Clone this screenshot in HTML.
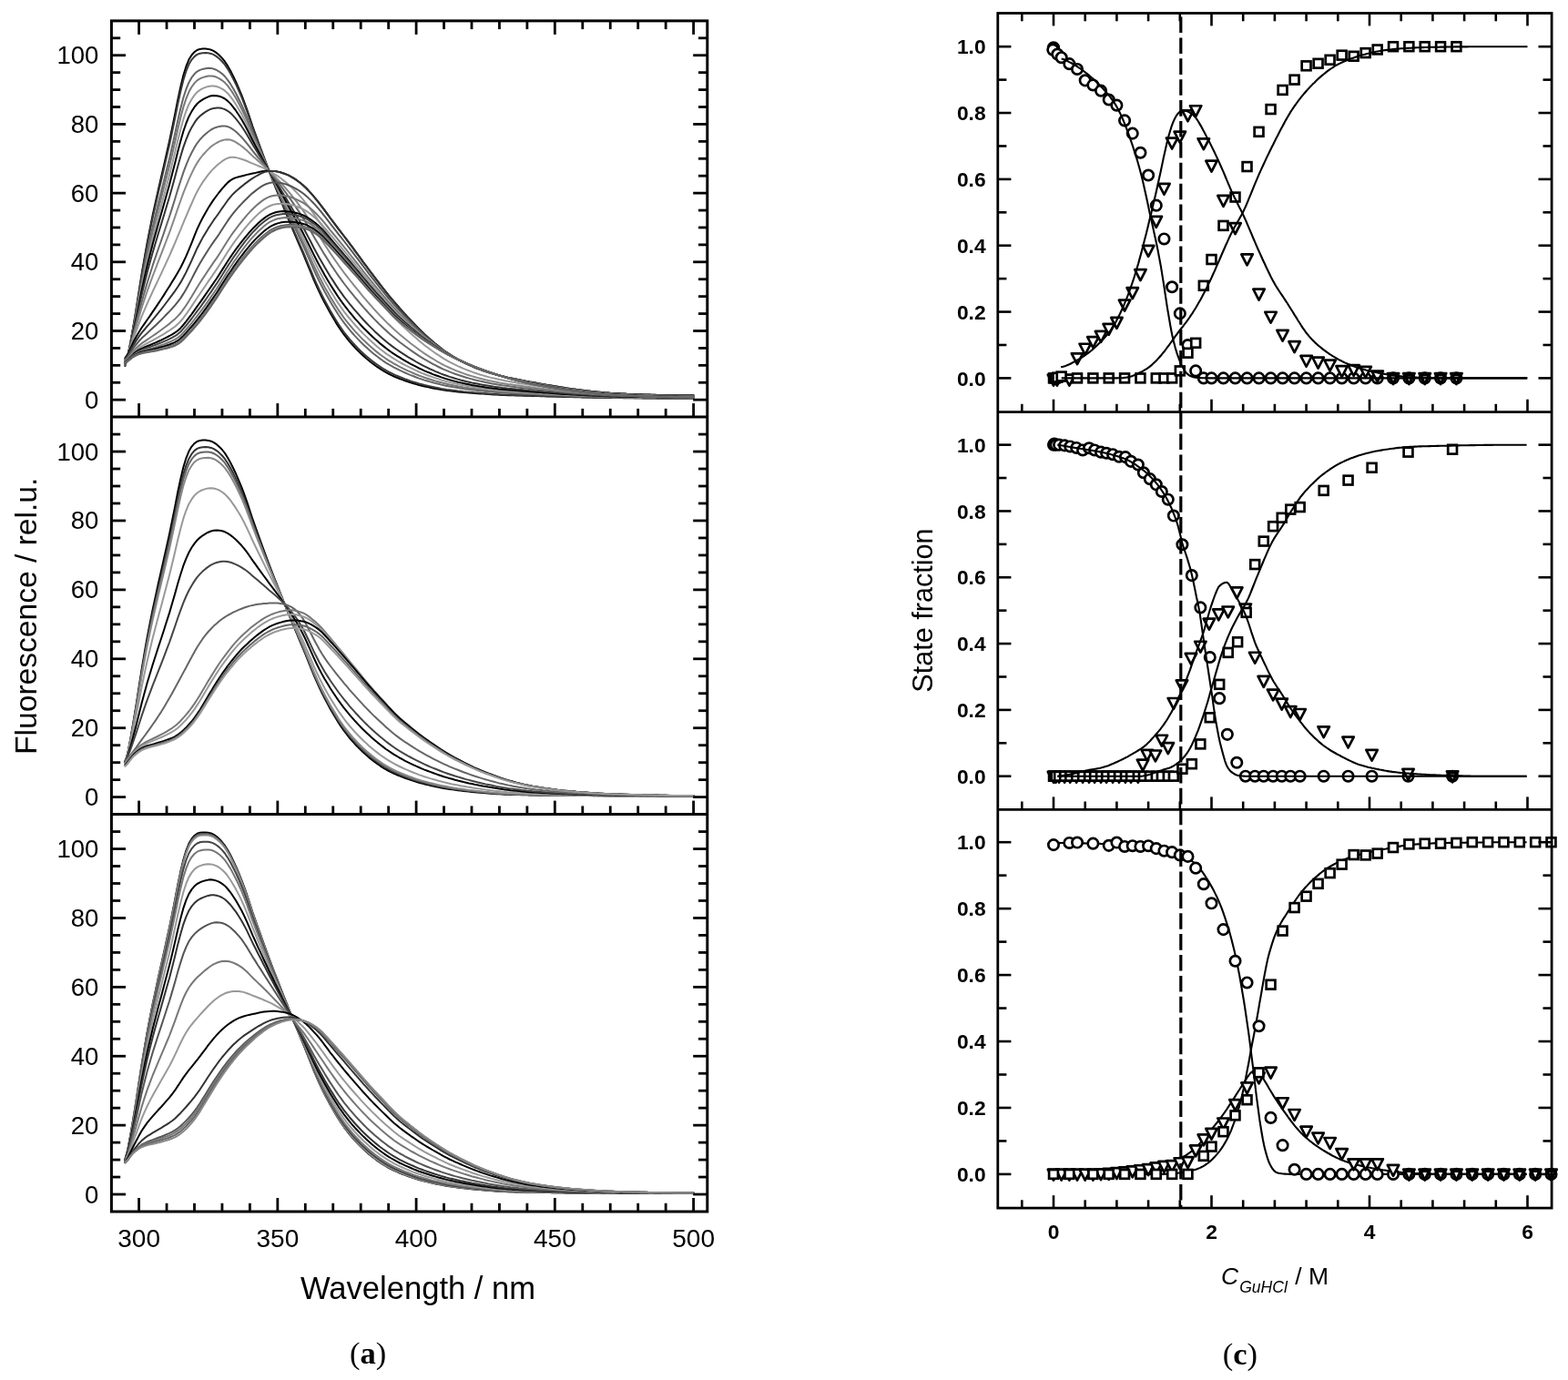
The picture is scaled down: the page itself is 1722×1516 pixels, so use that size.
<!DOCTYPE html>
<html lang="en">
<head>
<meta charset="utf-8">
<title>Figure: fluorescence spectra and state fractions</title>
<style>
html,body{margin:0;padding:0;background:#fff;}
body{width:1722px;height:1516px;overflow:hidden;}
svg{display:block;}
</style>
</head>
<body>
<svg width="1722" height="1516" viewBox="0 0 1722 1516" role="img">
<rect width="1722" height="1516" fill="#fff"/>
<g fill="none" stroke-linejoin="round" stroke-linecap="round" stroke-width="2.0">
<path d="M137.4 402L140.4 391.5L143.5 375.2L146.5 357.9L149.6 339.4L152.6 320.2L155.6 301.2L158.7 283.2L161.7 266.3L164.8 250.6L167.8 235.8L170.9 221.8L173.9 208.2L177 194.8L180 181.6L183 168.4L186.1 154.8L189.1 140.4L192.2 125.2L195.2 109.9L198.3 95.5L201.3 83L204.4 73L207.4 65.6L210.5 60.5L213.5 57.1L216.5 55L219.6 53.9L222.6 53.6L225.7 53.6L228.7 53.9L231.8 54.7L234.8 56.1L237.9 58.2L240.9 60.8L243.9 63.9L247 67.7L250 72.4L253.1 77.8L256.1 83.8L259.2 90.2L262.2 97.1L265.3 104.4L268.3 112.3L271.4 120.8L274.4 129.8L277.4 138.8L280.5 147.3L283.5 155.7L286.6 164L289.6 172.2L292.7 180.4L295.7 188.4L298.8 196.2L301.8 203.9L304.9 211.5L307.9 219L310.9 226.5L314 234L317 241.4L320.1 248.7L323.1 255.9L326.2 263.1L329.2 270.1L332.3 277.2L335.3 284.5L338.3 291.9L341.4 299.4L344.4 306.8L347.5 313.8L350.5 320.4L353.6 326.7L356.6 332.6L359.7 338.3L362.7 343.8L365.8 349L368.8 354.1L371.8 358.9L374.9 363.4L377.9 367.7L381 371.6L384 375.4L387.1 378.9L390.1 382.2L393.2 385.3L396.2 388.3L399.2 391.1L402.3 393.7L405.3 396.3L408.4 398.7L411.4 401L414.5 403.2L417.5 405.2L420.6 407.1L423.6 408.9L426.6 410.5L429.7 412.1L432.7 413.5L435.8 414.8L438.8 416L441.9 417.1L444.9 418.2L448 419.3L451 420.3L454.1 421.2L457.1 422.1L460.1 423L463.2 423.7L466.2 424.5L469.3 425.1L472.3 425.8L475.4 426.4L478.4 427L481.5 427.5L484.5 428L487.5 428.5L490.6 428.9L493.6 429.3L496.7 429.7L499.7 430L502.8 430.4L505.8 430.7L508.9 431L511.9 431.3L515 431.5L518 431.8L521 432L524.1 432.2L527.1 432.4L530.2 432.6L533.2 432.8L536.3 433L539.3 433.2L542.4 433.4L545.4 433.6L548.4 433.8L551.5 433.9L554.5 434L557.6 434.2L560.6 434.2L563.7 434.3L566.7 434.4L569.8 434.5L572.8 434.6L575.9 434.7L578.9 434.8L581.9 434.8L585 434.9L588 435L591.1 435.1L594.1 435.2L597.2 435.3L600.2 435.4L603.3 435.5L606.3 435.6L609.4 435.6L612.4 435.7L615.4 435.8L618.5 435.9L621.5 436L624.6 436.1L627.6 436.1L630.7 436.2L633.7 436.3L636.8 436.3L639.8 436.4L642.8 436.5L645.9 436.5L648.9 436.6L652 436.7L655 436.7L658.1 436.8L661.1 436.8L664.2 436.9L667.2 436.9L670.2 437L673.3 437L676.3 437L679.4 437.1L682.4 437.1L685.5 437.2L688.5 437.2L691.6 437.2L694.6 437.3L697.7 437.3L700.7 437.3L703.7 437.3L706.8 437.4L709.8 437.4L712.9 437.4L715.9 437.4L719 437.4L722 437.4L725.1 437.5L728.1 437.5L731.1 437.5L734.2 437.5L737.2 437.5L740.3 437.5L743.3 437.5L746.4 437.5L749.4 437.5L752.5 437.5L755.5 437.5L758.6 437.5L761.6 437.5" stroke="#000"/>
<path d="M137.4 401.8L140.4 391.4L143.5 375.4L146.5 358.3L149.6 340.2L152.6 321.4L155.6 302.7L158.7 285L161.7 268.5L164.8 253L167.8 238.5L170.9 224.7L173.9 211.3L177 198.2L180 185.2L183 172.2L186.1 158.8L189.1 144.6L192.2 129.7L195.2 114.6L198.3 100.5L201.3 88.2L204.4 78.2L207.4 70.8L210.5 65.6L213.5 62.1L216.5 59.9L219.6 58.7L222.6 58.2L225.7 58.1L228.7 58.2L231.8 58.9L234.8 60.2L237.9 62.1L240.9 64.5L243.9 67.5L247 71.1L250 75.6L253.1 80.8L256.1 86.6L259.2 92.9L262.2 99.5L265.3 106.6L268.3 114.3L271.4 122.6L274.4 131.3L277.4 140.1L280.5 148.4L283.5 156.6L286.6 164.6L289.6 172.6L292.7 180.5L295.7 188.4L298.8 196L301.8 203.5L304.9 210.9L307.9 218.3L310.9 225.6L314 232.9L317 240.2L320.1 247.4L323.1 254.4L326.2 261.4L329.2 268.4L332.3 275.4L335.3 282.5L338.3 289.8L341.4 297.2L344.4 304.5L347.5 311.4L350.5 318L353.6 324.2L356.6 330.1L359.7 335.8L362.7 341.2L365.8 346.4L368.8 351.4L371.8 356.2L374.9 360.7L377.9 365L381 368.9L384 372.7L387.1 376.2L390.1 379.5L393.2 382.7L396.2 385.6L399.2 388.5L402.3 391.2L405.3 393.8L408.4 396.2L411.4 398.6L414.5 400.8L417.5 402.9L420.6 404.9L423.6 406.7L426.6 408.4L429.7 409.9L432.7 411.4L435.8 412.8L438.8 414L441.9 415.2L444.9 416.4L448 417.5L451 418.6L454.1 419.6L457.1 420.5L460.1 421.4L463.2 422.2L466.2 423L469.3 423.7L472.3 424.4L475.4 425.1L478.4 425.7L481.5 426.3L484.5 426.9L487.5 427.4L490.6 427.9L493.6 428.3L496.7 428.7L499.7 429.1L502.8 429.5L505.8 429.8L508.9 430.2L511.9 430.5L515 430.7L518 431L521 431.3L524.1 431.5L527.1 431.7L530.2 432L533.2 432.2L536.3 432.4L539.3 432.7L542.4 432.9L545.4 433.1L548.4 433.2L551.5 433.4L554.5 433.5L557.6 433.7L560.6 433.8L563.7 433.9L566.7 434L569.8 434.1L572.8 434.2L575.9 434.3L578.9 434.4L581.9 434.5L585 434.6L588 434.7L591.1 434.8L594.1 434.9L597.2 435L600.2 435.1L603.3 435.2L606.3 435.3L609.4 435.4L612.4 435.5L615.4 435.6L618.5 435.6L621.5 435.7L624.6 435.8L627.6 435.9L630.7 436L633.7 436.1L636.8 436.1L639.8 436.2L642.8 436.3L645.9 436.4L648.9 436.4L652 436.5L655 436.6L658.1 436.6L661.1 436.7L664.2 436.7L667.2 436.8L670.2 436.8L673.3 436.9L676.3 436.9L679.4 437L682.4 437L685.5 437L688.5 437.1L691.6 437.1L694.6 437.1L697.7 437.2L700.7 437.2L703.7 437.2L706.8 437.3L709.8 437.3L712.9 437.3L715.9 437.3L719 437.3L722 437.4L725.1 437.4L728.1 437.4L731.1 437.4L734.2 437.4L737.2 437.4L740.3 437.4L743.3 437.4L746.4 437.4L749.4 437.4L752.5 437.4L755.5 437.5L758.6 437.5L761.6 437.5" stroke="#3a3a3a"/>
<path d="M137.4 401L140.4 391.1L143.5 376L146.5 360L149.6 343.1L152.6 325.6L155.6 308.3L158.7 291.9L161.7 276.5L164.8 262.1L167.8 248.6L170.9 235.7L173.9 223.2L177 210.9L180 198.7L183 186.6L186.1 174L189.1 160.7L192.2 146.7L195.2 132.6L198.3 119.3L201.3 107.6L204.4 98L207.4 90.7L210.5 85.2L213.5 81.3L216.5 78.6L219.6 76.9L222.6 75.9L225.7 75.2L228.7 74.8L231.8 74.9L234.8 75.7L237.9 77L240.9 78.8L243.9 81.1L247 84L250 87.8L253.1 92.2L256.1 97.3L259.2 102.8L262.2 108.8L265.3 115.1L268.3 121.9L271.4 129.4L274.4 137.2L277.4 145L280.5 152.4L283.5 159.7L286.6 166.9L289.6 174.1L292.7 181.2L295.7 188.3L298.8 195.2L301.8 202L304.9 208.8L307.9 215.5L310.9 222.2L314 228.9L317 235.6L320.1 242.2L323.1 248.8L326.2 255.3L329.2 261.8L332.3 268.3L335.3 275L338.3 281.9L341.4 288.9L344.4 295.8L347.5 302.5L350.5 308.7L353.6 314.7L356.6 320.5L359.7 326L362.7 331.3L365.8 336.4L368.8 341.3L371.8 346L374.9 350.5L377.9 354.7L381 358.7L384 362.4L387.1 366L390.1 369.4L393.2 372.6L396.2 375.8L399.2 378.7L402.3 381.6L405.3 384.3L408.4 386.9L411.4 389.4L414.5 391.8L417.5 394.1L420.6 396.3L423.6 398.3L426.6 400.2L429.7 401.9L432.7 403.6L435.8 405.2L438.8 406.7L441.9 408.1L444.9 409.5L448 410.8L451 412.1L454.1 413.3L457.1 414.5L460.1 415.6L463.2 416.6L466.2 417.6L469.3 418.5L472.3 419.4L475.4 420.2L478.4 421.1L481.5 421.8L484.5 422.6L487.5 423.3L490.6 423.9L493.6 424.5L496.7 425.1L499.7 425.6L502.8 426.1L505.8 426.6L508.9 427L511.9 427.4L515 427.8L518 428.2L521 428.6L524.1 428.9L527.1 429.2L530.2 429.6L533.2 429.9L536.3 430.2L539.3 430.4L542.4 430.7L545.4 431L548.4 431.2L551.5 431.4L554.5 431.6L557.6 431.8L560.6 432L563.7 432.1L566.7 432.3L569.8 432.4L572.8 432.6L575.9 432.7L578.9 432.9L581.9 433L585 433.1L588 433.3L591.1 433.4L594.1 433.6L597.2 433.7L600.2 433.9L603.3 434L606.3 434.1L609.4 434.3L612.4 434.4L615.4 434.6L618.5 434.7L621.5 434.8L624.6 434.9L627.6 435.1L630.7 435.2L633.7 435.3L636.8 435.4L639.8 435.5L642.8 435.6L645.9 435.7L648.9 435.8L652 435.9L655 436L658.1 436L661.1 436.1L664.2 436.2L667.2 436.3L670.2 436.3L673.3 436.4L676.3 436.5L679.4 436.5L682.4 436.6L685.5 436.6L688.5 436.7L691.6 436.7L694.6 436.7L697.7 436.8L700.7 436.8L703.7 436.9L706.8 436.9L709.8 436.9L712.9 436.9L715.9 437L719 437L722 437L725.1 437L728.1 437L731.1 437.1L734.2 437.1L737.2 437.1L740.3 437.1L743.3 437.1L746.4 437.1L749.4 437.1L752.5 437.1L755.5 437.1L758.6 437.1L761.6 437.2" stroke="#666"/>
<path d="M137.4 400.5L140.4 391L143.5 376.4L146.5 360.9L149.6 344.6L152.6 327.8L155.6 311.2L158.7 295.5L161.7 280.8L164.8 267L167.8 253.9L170.9 241.6L173.9 229.5L177 217.6L180 205.8L183 194.1L186.1 182L189.1 169.2L192.2 155.7L195.2 142.1L198.3 129.3L201.3 117.9L204.4 108.5L207.4 101.1L210.5 95.5L213.5 91.4L216.5 88.4L219.6 86.4L222.6 85.1L225.7 84.2L228.7 83.6L231.8 83.4L234.8 83.8L237.9 84.8L240.9 86.3L243.9 88.3L247 90.8L250 94.2L253.1 98.3L256.1 102.9L259.2 108.1L262.2 113.6L265.3 119.5L268.3 125.9L271.4 132.9L274.4 140.2L277.4 147.6L280.5 154.6L283.5 161.4L286.6 168.2L289.6 174.9L292.7 181.6L295.7 188.2L298.8 194.8L301.8 201.2L304.9 207.6L307.9 214L310.9 220.4L314 226.8L317 233.1L320.1 239.5L323.1 245.8L326.2 252L329.2 258.3L332.3 264.6L335.3 271.1L338.3 277.8L341.4 284.6L344.4 291.3L347.5 297.7L350.5 303.9L353.6 309.7L356.6 315.4L359.7 320.8L362.7 326.1L365.8 331.1L368.8 336L371.8 340.7L374.9 345.1L377.9 349.3L381 353.3L384 357L387.1 360.6L390.1 364.1L393.2 367.4L396.2 370.6L399.2 373.6L402.3 376.5L405.3 379.3L408.4 382L411.4 384.6L414.5 387.1L417.5 389.5L420.6 391.7L423.6 393.8L426.6 395.8L429.7 397.7L432.7 399.5L435.8 401.2L438.8 402.8L441.9 404.3L444.9 405.8L448 407.3L451 408.6L454.1 410L457.1 411.3L460.1 412.5L463.2 413.6L466.2 414.7L469.3 415.7L472.3 416.7L475.4 417.7L478.4 418.6L481.5 419.5L484.5 420.3L487.5 421.1L490.6 421.8L493.6 422.5L496.7 423.1L499.7 423.7L502.8 424.3L505.8 424.8L508.9 425.4L511.9 425.8L515 426.3L518 426.7L521 427.1L524.1 427.5L527.1 427.9L530.2 428.3L533.2 428.6L536.3 429L539.3 429.3L542.4 429.6L545.4 429.9L548.4 430.2L551.5 430.4L554.5 430.6L557.6 430.8L560.6 431L563.7 431.2L566.7 431.4L569.8 431.6L572.8 431.7L575.9 431.9L578.9 432.1L581.9 432.2L585 432.4L588 432.6L591.1 432.7L594.1 432.9L597.2 433.1L600.2 433.2L603.3 433.4L606.3 433.6L609.4 433.7L612.4 433.9L615.4 434L618.5 434.2L621.5 434.3L624.6 434.5L627.6 434.6L630.7 434.7L633.7 434.9L636.8 435L639.8 435.1L642.8 435.2L645.9 435.3L648.9 435.4L652 435.5L655 435.6L658.1 435.7L661.1 435.8L664.2 435.9L667.2 436L670.2 436.1L673.3 436.2L676.3 436.2L679.4 436.3L682.4 436.3L685.5 436.4L688.5 436.4L691.6 436.5L694.6 436.5L697.7 436.6L700.7 436.6L703.7 436.7L706.8 436.7L709.8 436.7L712.9 436.8L715.9 436.8L719 436.8L722 436.8L725.1 436.9L728.1 436.9L731.1 436.9L734.2 436.9L737.2 436.9L740.3 436.9L743.3 437L746.4 437L749.4 437L752.5 437L755.5 437L758.6 437L761.6 437" stroke="#777"/>
<path d="M137.4 400L140.4 390.8L143.5 376.8L146.5 362.1L149.6 346.6L152.6 330.7L155.6 315.1L158.7 300.2L161.7 286.3L164.8 273.2L167.8 260.9L170.9 249.1L173.9 237.6L177 226.3L180 215.1L183 203.9L186.1 192.3L189.1 180.1L192.2 167.3L195.2 154.4L198.3 142.2L201.3 131.2L204.4 122L207.4 114.7L210.5 109L213.5 104.6L216.5 101.2L219.6 98.9L222.6 97.2L225.7 95.9L228.7 94.9L231.8 94.4L234.8 94.4L237.9 95L240.9 96.1L243.9 97.6L247 99.7L250 102.5L253.1 106.1L256.1 110.2L259.2 114.9L262.2 119.9L265.3 125.3L268.3 131.1L271.4 137.5L274.4 144.2L277.4 150.9L280.5 157.3L283.5 163.6L286.6 169.8L289.6 175.9L292.7 182.1L295.7 188.2L298.8 194.3L301.8 200.2L304.9 206.1L307.9 212L310.9 218L314 224L317 230L320.1 235.9L323.1 241.9L326.2 247.8L329.2 253.8L332.3 259.8L335.3 266L338.3 272.4L341.4 278.9L344.4 285.4L347.5 291.6L350.5 297.6L353.6 303.3L356.6 308.8L359.7 314.1L362.7 319.3L365.8 324.3L368.8 329.1L371.8 333.7L374.9 338.1L377.9 342.3L381 346.3L384 350L387.1 353.7L390.1 357.2L393.2 360.5L396.2 363.8L399.2 366.9L402.3 369.9L405.3 372.8L408.4 375.6L411.4 378.3L414.5 381L417.5 383.5L420.6 385.8L423.6 388.1L426.6 390.2L429.7 392.2L432.7 394.2L435.8 396L438.8 397.8L441.9 399.5L444.9 401.1L448 402.7L451 404.2L454.1 405.7L457.1 407.1L460.1 408.5L463.2 409.8L466.2 411L469.3 412.2L472.3 413.3L475.4 414.4L478.4 415.4L481.5 416.4L484.5 417.4L487.5 418.3L490.6 419.1L493.6 419.9L496.7 420.6L499.7 421.3L502.8 422L505.8 422.6L508.9 423.2L511.9 423.8L515 424.3L518 424.8L521 425.3L524.1 425.7L527.1 426.2L530.2 426.6L533.2 427L536.3 427.4L539.3 427.8L542.4 428.1L545.4 428.5L548.4 428.8L551.5 429.1L554.5 429.3L557.6 429.6L560.6 429.8L563.7 430L566.7 430.2L569.8 430.4L572.8 430.6L575.9 430.8L578.9 431L581.9 431.2L585 431.4L588 431.6L591.1 431.8L594.1 432L597.2 432.2L600.2 432.4L603.3 432.6L606.3 432.8L609.4 433L612.4 433.2L615.4 433.3L618.5 433.5L621.5 433.7L624.6 433.9L627.6 434L630.7 434.2L633.7 434.3L636.8 434.5L639.8 434.6L642.8 434.7L645.9 434.9L648.9 435L652 435.1L655 435.2L658.1 435.3L661.1 435.5L664.2 435.6L667.2 435.7L670.2 435.7L673.3 435.8L676.3 435.9L679.4 436L682.4 436L685.5 436.1L688.5 436.2L691.6 436.2L694.6 436.3L697.7 436.3L700.7 436.4L703.7 436.4L706.8 436.4L709.8 436.5L712.9 436.5L715.9 436.5L719 436.6L722 436.6L725.1 436.6L728.1 436.6L731.1 436.7L734.2 436.7L737.2 436.7L740.3 436.7L743.3 436.7L746.4 436.7L749.4 436.8L752.5 436.8L755.5 436.8L758.6 436.8L761.6 436.8" stroke="#999"/>
<path d="M137.4 399.4L140.4 390.6L143.5 377.3L146.5 363.3L149.6 348.6L152.6 333.6L155.6 318.9L158.7 304.9L161.7 291.8L164.8 279.5L167.8 267.8L170.9 256.6L173.9 245.7L177 235L180 224.4L183 213.7L186.1 202.7L189.1 191.1L192.2 179L195.2 166.7L198.3 155.1L201.3 144.5L204.4 135.5L207.4 128.2L210.5 122.4L213.5 117.7L216.5 114L219.6 111.3L222.6 109.3L225.7 107.6L228.7 106.3L231.8 105.3L234.8 105L237.9 105.2L240.9 105.8L243.9 106.9L247 108.5L250 110.9L253.1 113.9L256.1 117.6L259.2 121.7L262.2 126.3L265.3 131.1L268.3 136.4L271.4 142.2L274.4 148.2L277.4 154.3L280.5 160.1L283.5 165.8L286.6 171.3L289.6 176.9L292.7 182.5L295.7 188.2L298.8 193.7L301.8 199.2L304.9 204.6L307.9 210.1L310.9 215.6L314 221.2L317 226.8L320.1 232.4L323.1 238L326.2 243.6L329.2 249.3L332.3 255L335.3 260.9L338.3 267L341.4 273.2L344.4 279.4L347.5 285.5L350.5 291.2L353.6 296.8L356.6 302.2L359.7 307.5L362.7 312.5L365.8 317.4L368.8 322.1L371.8 326.7L374.9 331.1L377.9 335.2L381 339.2L384 343L387.1 346.7L390.1 350.3L393.2 353.7L396.2 357L399.2 360.2L402.3 363.3L405.3 366.3L408.4 369.3L411.4 372.1L414.5 374.8L417.5 377.4L420.6 379.9L423.6 382.3L426.6 384.6L429.7 386.8L432.7 388.8L435.8 390.8L438.8 392.7L441.9 394.6L444.9 396.3L448 398.1L451 399.8L454.1 401.4L457.1 402.9L460.1 404.5L463.2 405.9L466.2 407.3L469.3 408.6L472.3 409.8L475.4 411.1L478.4 412.2L481.5 413.3L484.5 414.4L487.5 415.4L490.6 416.4L493.6 417.3L496.7 418.1L499.7 418.9L502.8 419.7L505.8 420.4L508.9 421.1L511.9 421.7L515 422.3L518 422.9L521 423.4L524.1 424L527.1 424.5L530.2 424.9L533.2 425.4L536.3 425.9L539.3 426.3L542.4 426.7L545.4 427L548.4 427.4L551.5 427.7L554.5 428L557.6 428.3L560.6 428.6L563.7 428.8L566.7 429.1L569.8 429.3L572.8 429.6L575.9 429.8L578.9 430L581.9 430.3L585 430.5L588 430.7L591.1 430.9L594.1 431.1L597.2 431.4L600.2 431.6L603.3 431.8L606.3 432L609.4 432.2L612.4 432.5L615.4 432.7L618.5 432.9L621.5 433.1L624.6 433.3L627.6 433.4L630.7 433.6L633.7 433.8L636.8 433.9L639.8 434.1L642.8 434.3L645.9 434.4L648.9 434.6L652 434.7L655 434.8L658.1 435L661.1 435.1L664.2 435.2L667.2 435.3L670.2 435.4L673.3 435.5L676.3 435.6L679.4 435.7L682.4 435.7L685.5 435.8L688.5 435.9L691.6 435.9L694.6 436L697.7 436L700.7 436.1L703.7 436.1L706.8 436.2L709.8 436.2L712.9 436.3L715.9 436.3L719 436.3L722 436.4L725.1 436.4L728.1 436.4L731.1 436.4L734.2 436.5L737.2 436.5L740.3 436.5L743.3 436.5L746.4 436.5L749.4 436.5L752.5 436.6L755.5 436.6L758.6 436.6L761.6 436.6" stroke="#000"/>
<path d="M137.4 398.7L140.4 390.4L143.5 377.8L146.5 364.8L149.6 351.2L152.6 337.4L155.6 323.9L158.7 311.1L161.7 299L164.8 287.7L167.8 276.9L170.9 266.5L173.9 256.4L177 246.4L180 236.5L183 226.5L186.1 216.3L189.1 205.5L192.2 194.2L195.2 182.9L198.3 171.9L201.3 161.9L204.4 153.3L207.4 146L210.5 139.9L213.5 134.9L216.5 130.7L219.6 127.5L222.6 125.1L225.7 122.9L228.7 121.1L231.8 119.7L234.8 118.9L237.9 118.5L240.9 118.6L243.9 119.1L247 120.1L250 121.8L253.1 124.1L256.1 127.1L259.2 130.6L262.2 134.5L265.3 138.7L268.3 143.2L271.4 148.2L274.4 153.4L277.4 158.7L280.5 163.7L283.5 168.6L286.6 173.4L289.6 178.3L292.7 183.2L295.7 188.1L298.8 193L301.8 197.9L304.9 202.7L307.9 207.6L310.9 212.6L314 217.6L317 222.7L320.1 227.8L323.1 232.9L326.2 238.1L329.2 243.3L332.3 248.7L335.3 254.2L338.3 259.9L341.4 265.8L344.4 271.7L347.5 277.4L350.5 283L353.6 288.3L356.6 293.6L359.7 298.7L362.7 303.7L365.8 308.4L368.8 313.1L371.8 317.6L374.9 321.9L377.9 326.1L381 330L384 333.9L387.1 337.6L390.1 341.2L393.2 344.7L396.2 348.2L399.2 351.5L402.3 354.7L405.3 357.9L408.4 360.9L411.4 363.9L414.5 366.8L417.5 369.6L420.6 372.2L423.6 374.8L426.6 377.2L429.7 379.6L432.7 381.9L435.8 384L438.8 386.1L441.9 388.2L444.9 390.1L448 392.1L451 393.9L454.1 395.7L457.1 397.5L460.1 399.2L463.2 400.8L466.2 402.4L469.3 403.9L472.3 405.3L475.4 406.7L478.4 408.1L481.5 409.3L484.5 410.6L487.5 411.7L490.6 412.8L493.6 413.9L496.7 414.8L499.7 415.7L502.8 416.6L505.8 417.5L508.9 418.2L511.9 419L515 419.7L518 420.4L521 421L524.1 421.6L527.1 422.2L530.2 422.8L533.2 423.3L536.3 423.8L539.3 424.3L542.4 424.8L545.4 425.2L548.4 425.6L551.5 426L554.5 426.3L557.6 426.7L560.6 427L563.7 427.3L566.7 427.6L569.8 427.8L572.8 428.1L575.9 428.4L578.9 428.7L581.9 429L585 429.2L588 429.5L591.1 429.7L594.1 430L597.2 430.3L600.2 430.5L603.3 430.8L606.3 431L609.4 431.3L612.4 431.5L615.4 431.8L618.5 432L621.5 432.2L624.6 432.5L627.6 432.7L630.7 432.9L633.7 433.1L636.8 433.3L639.8 433.4L642.8 433.6L645.9 433.8L648.9 434L652 434.1L655 434.3L658.1 434.4L661.1 434.6L664.2 434.7L667.2 434.8L670.2 435L673.3 435.1L676.3 435.2L679.4 435.3L682.4 435.3L685.5 435.4L688.5 435.5L691.6 435.6L694.6 435.6L697.7 435.7L700.7 435.7L703.7 435.8L706.8 435.8L709.8 435.9L712.9 435.9L715.9 436L719 436L722 436.1L725.1 436.1L728.1 436.1L731.1 436.2L734.2 436.2L737.2 436.2L740.3 436.2L743.3 436.2L746.4 436.3L749.4 436.3L752.5 436.3L755.5 436.3L758.6 436.3L761.6 436.3" stroke="#333"/>
<path d="M137.4 397.5L140.4 390L143.5 378.8L146.5 367.2L149.6 355.4L152.6 343.4L155.6 331.8L158.7 320.8L161.7 310.5L164.8 300.7L167.8 291.2L170.9 282.2L173.9 273.3L177 264.5L180 255.7L183 246.9L186.1 237.8L189.1 228.4L192.2 218.5L195.2 208.4L198.3 198.7L201.3 189.6L204.4 181.4L207.4 174.1L210.5 167.8L213.5 162.1L216.5 157.3L219.6 153.3L222.6 150.1L225.7 147.3L228.7 144.7L231.8 142.5L234.8 140.9L237.9 139.7L240.9 138.9L243.9 138.4L247 138.5L250 139.1L253.1 140.4L256.1 142.3L259.2 144.8L262.2 147.6L265.3 150.7L268.3 154.1L271.4 157.8L274.4 161.7L277.4 165.7L280.5 169.5L283.5 173.1L286.6 176.7L289.6 180.4L292.7 184.1L295.7 188L298.8 191.9L301.8 195.7L304.9 199.6L307.9 203.6L310.9 207.7L314 211.8L317 216.1L320.1 220.4L323.1 224.9L326.2 229.4L329.2 233.9L332.3 238.6L335.3 243.5L338.3 248.7L341.4 254L344.4 259.4L347.5 264.7L350.5 269.8L353.6 274.9L356.6 279.9L359.7 284.8L362.7 289.6L365.8 294.2L368.8 298.7L371.8 303.1L374.9 307.3L377.9 311.5L381 315.5L384 319.3L387.1 323.1L390.1 326.9L393.2 330.5L396.2 334.1L399.2 337.6L402.3 341L405.3 344.4L408.4 347.7L411.4 350.9L414.5 354L417.5 357.1L420.6 360L423.6 362.8L426.6 365.6L429.7 368.2L432.7 370.8L435.8 373.3L438.8 375.7L441.9 378L444.9 380.3L448 382.5L451 384.7L454.1 386.8L457.1 388.9L460.1 390.9L463.2 392.8L466.2 394.7L469.3 396.4L472.3 398.1L475.4 399.8L478.4 401.4L481.5 403L484.5 404.5L487.5 405.9L490.6 407.2L493.6 408.4L496.7 409.6L499.7 410.7L502.8 411.8L505.8 412.8L508.9 413.8L511.9 414.7L515 415.6L518 416.4L521 417.2L524.1 417.9L527.1 418.6L530.2 419.3L533.2 420L536.3 420.6L539.3 421.2L542.4 421.7L545.4 422.2L548.4 422.7L551.5 423.2L554.5 423.6L557.6 424L560.6 424.4L563.7 424.8L566.7 425.2L569.8 425.5L572.8 425.9L575.9 426.2L578.9 426.6L581.9 426.9L585 427.2L588 427.5L591.1 427.9L594.1 428.2L597.2 428.5L600.2 428.8L603.3 429.1L606.3 429.4L609.4 429.8L612.4 430.1L615.4 430.4L618.5 430.7L621.5 430.9L624.6 431.2L627.6 431.5L630.7 431.7L633.7 431.9L636.8 432.2L639.8 432.4L642.8 432.6L645.9 432.8L648.9 433.1L652 433.3L655 433.4L658.1 433.6L661.1 433.8L664.2 434L667.2 434.1L670.2 434.3L673.3 434.4L676.3 434.5L679.4 434.6L682.4 434.7L685.5 434.8L688.5 434.9L691.6 435L694.6 435.1L697.7 435.1L700.7 435.2L703.7 435.3L706.8 435.3L709.8 435.4L712.9 435.4L715.9 435.5L719 435.5L722 435.6L725.1 435.6L728.1 435.7L731.1 435.7L734.2 435.7L737.2 435.7L740.3 435.8L743.3 435.8L746.4 435.8L749.4 435.8L752.5 435.8L755.5 435.9L758.6 435.9L761.6 435.9" stroke="#666"/>
<path d="M137.4 396.5L140.4 389.7L143.5 379.5L146.5 369.2L149.6 358.7L152.6 348.3L155.6 338.3L158.7 328.8L161.7 319.8L164.8 311.2L167.8 303L170.9 295L173.9 287.1L177 279.2L180 271.4L183 263.5L186.1 255.4L189.1 247L192.2 238.2L195.2 229.3L198.3 220.5L201.3 212.2L204.4 204.3L207.4 197.1L210.5 190.4L213.5 184.3L216.5 178.9L219.6 174.4L222.6 170.5L225.7 167.1L228.7 163.9L231.8 161.1L234.8 158.8L237.9 157L240.9 155.4L243.9 154.2L247 153.4L250 153.2L253.1 153.6L256.1 154.7L259.2 156.3L262.2 158.3L265.3 160.5L268.3 162.9L271.4 165.6L274.4 168.5L277.4 171.4L280.5 174.1L283.5 176.8L286.6 179.4L289.6 182.1L292.7 184.9L295.7 187.9L298.8 191L301.8 194L304.9 197.1L307.9 200.3L310.9 203.7L314 207.1L317 210.7L320.1 214.4L323.1 218.3L326.2 222.2L329.2 226.3L332.3 230.5L335.3 234.9L338.3 239.6L341.4 244.4L344.4 249.4L347.5 254.3L350.5 259.1L353.6 263.9L356.6 268.8L359.7 273.5L362.7 278.1L365.8 282.6L368.8 287L371.8 291.3L374.9 295.5L377.9 299.6L381 303.6L384 307.5L387.1 311.4L390.1 315.2L393.2 318.9L396.2 322.7L399.2 326.3L402.3 329.9L405.3 333.4L408.4 336.9L411.4 340.3L414.5 343.6L417.5 346.9L420.6 350L423.6 353.1L426.6 356.1L429.7 359L432.7 361.8L435.8 364.5L438.8 367.2L441.9 369.7L444.9 372.3L448 374.7L451 377.2L454.1 379.5L457.1 381.8L460.1 384.1L463.2 386.3L466.2 388.4L469.3 390.4L472.3 392.3L475.4 394.2L478.4 396L481.5 397.8L484.5 399.5L487.5 401.1L490.6 402.6L493.6 404L496.7 405.4L499.7 406.7L502.8 407.9L505.8 409L508.9 410.1L511.9 411.2L515 412.2L518 413.1L521 414L524.1 414.9L527.1 415.7L530.2 416.5L533.2 417.3L536.3 418L539.3 418.6L542.4 419.2L545.4 419.8L548.4 420.4L551.5 420.9L554.5 421.4L557.6 421.9L560.6 422.3L563.7 422.8L566.7 423.2L569.8 423.6L572.8 424L575.9 424.4L578.9 424.8L581.9 425.2L585 425.6L588 426L591.1 426.3L594.1 426.7L597.2 427.1L600.2 427.4L603.3 427.8L606.3 428.2L609.4 428.5L612.4 428.9L615.4 429.2L618.5 429.5L621.5 429.9L624.6 430.2L627.6 430.5L630.7 430.8L633.7 431L636.8 431.3L639.8 431.6L642.8 431.8L645.9 432.1L648.9 432.3L652 432.5L655 432.8L658.1 433L661.1 433.2L664.2 433.4L667.2 433.5L670.2 433.7L673.3 433.8L676.3 434L679.4 434.1L682.4 434.2L685.5 434.3L688.5 434.4L691.6 434.5L694.6 434.6L697.7 434.7L700.7 434.7L703.7 434.8L706.8 434.9L709.8 435L712.9 435L715.9 435.1L719 435.1L722 435.2L725.1 435.2L728.1 435.3L731.1 435.3L734.2 435.3L737.2 435.4L740.3 435.4L743.3 435.4L746.4 435.4L749.4 435.5L752.5 435.5L755.5 435.5L758.6 435.5L761.6 435.5" stroke="#888"/>
<path d="M137.4 395.1L140.4 389.3L143.5 380.6L146.5 372.1L149.6 363.6L152.6 355.4L155.6 347.7L158.7 340.4L161.7 333.4L164.8 326.6L167.8 320L170.9 313.5L173.9 307.1L177 300.6L180 294.2L183 287.6L186.1 280.9L189.1 274L192.2 266.9L195.2 259.6L198.3 252.3L201.3 244.9L204.4 237.6L207.4 230.5L210.5 223.5L213.5 216.7L216.5 210.4L219.6 205L222.6 200.2L225.7 195.9L228.7 191.8L231.8 188.1L234.8 184.9L237.9 182L240.9 179.5L243.9 177.2L247 175.2L250 173.7L253.1 172.8L256.1 172.7L259.2 173.1L262.2 173.9L265.3 174.8L268.3 175.8L271.4 177L274.4 178.3L277.4 179.6L280.5 180.9L283.5 182.2L286.6 183.3L289.6 184.6L292.7 186.1L295.7 187.8L298.8 189.6L301.8 191.5L304.9 193.4L307.9 195.5L310.9 197.9L314 200.3L317 202.9L320.1 205.7L323.1 208.7L326.2 211.9L329.2 215.1L332.3 218.6L335.3 222.3L338.3 226.3L341.4 230.5L344.4 234.8L347.5 239.2L350.5 243.6L353.6 248L356.6 252.5L359.7 257L362.7 261.4L365.8 265.7L368.8 270L371.8 274.1L374.9 278.2L377.9 282.3L381 286.3L384 290.3L387.1 294.2L390.1 298.2L393.2 302.1L396.2 306L399.2 309.9L402.3 313.7L405.3 317.4L408.4 321.2L411.4 324.9L414.5 328.5L417.5 332.1L420.6 335.5L423.6 338.9L426.6 342.2L429.7 345.5L432.7 348.6L435.8 351.7L438.8 354.8L441.9 357.7L444.9 360.6L448 363.4L451 366.2L454.1 368.9L457.1 371.6L460.1 374.2L463.2 376.8L466.2 379.2L469.3 381.5L472.3 383.8L475.4 386L478.4 388.2L481.5 390.2L484.5 392.2L487.5 394.1L490.6 395.9L493.6 397.6L496.7 399.2L499.7 400.7L502.8 402.2L505.8 403.5L508.9 404.9L511.9 406.1L515 407.3L518 408.4L521 409.5L524.1 410.5L527.1 411.5L530.2 412.4L533.2 413.3L536.3 414.1L539.3 414.9L542.4 415.6L545.4 416.3L548.4 417L551.5 417.6L554.5 418.2L557.6 418.8L560.6 419.3L563.7 419.8L566.7 420.3L569.8 420.9L572.8 421.4L575.9 421.8L578.9 422.3L581.9 422.8L585 423.2L588 423.7L591.1 424.1L594.1 424.5L597.2 425L600.2 425.4L603.3 425.8L606.3 426.3L609.4 426.7L612.4 427.1L615.4 427.5L618.5 427.9L621.5 428.3L624.6 428.7L627.6 429L630.7 429.4L633.7 429.7L636.8 430L639.8 430.3L642.8 430.6L645.9 430.9L648.9 431.2L652 431.5L655 431.8L658.1 432L661.1 432.2L664.2 432.5L667.2 432.7L670.2 432.9L673.3 433L676.3 433.2L679.4 433.3L682.4 433.5L685.5 433.6L688.5 433.7L691.6 433.8L694.6 433.9L697.7 434L700.7 434.1L703.7 434.2L706.8 434.3L709.8 434.3L712.9 434.4L715.9 434.5L719 434.5L722 434.6L725.1 434.7L728.1 434.7L731.1 434.8L734.2 434.8L737.2 434.8L740.3 434.9L743.3 434.9L746.4 434.9L749.4 434.9L752.5 435L755.5 435L758.6 435L761.6 435" stroke="#999"/>
<path d="M137.4 393.3L140.4 388.7L143.5 382.1L146.5 375.8L149.6 370.1L152.6 364.8L155.6 360L158.7 355.6L161.7 351.3L164.8 346.9L167.8 342.4L170.9 337.9L173.9 333.4L177 328.8L180 324.1L183 319.3L186.1 314.5L189.1 309.5L192.2 304.6L195.2 299.4L198.3 294L201.3 288L204.4 281.4L207.4 274.3L210.5 266.8L213.5 259.1L216.5 251.7L219.6 245.1L222.6 239.2L225.7 233.7L228.7 228.5L231.8 223.6L234.8 219.1L237.9 215L240.9 211L243.9 207.3L247 203.8L250 200.6L253.1 198.1L256.1 196.3L259.2 195.1L262.2 194.3L265.3 193.5L268.3 192.7L271.4 191.9L274.4 191.2L277.4 190.5L280.5 189.9L283.5 189.2L286.6 188.5L289.6 187.9L292.7 187.6L295.7 187.7L298.8 187.9L301.8 188.1L304.9 188.6L307.9 189.3L310.9 190.2L314 191.4L317 192.7L320.1 194.3L323.1 196.2L326.2 198.2L329.2 200.5L332.3 203L335.3 205.7L338.3 208.8L341.4 212.2L344.4 215.7L347.5 219.3L350.5 223.1L353.6 227.1L356.6 231.2L359.7 235.4L362.7 239.5L365.8 243.6L368.8 247.6L371.8 251.6L374.9 255.6L377.9 259.5L381 263.6L384 267.6L387.1 271.7L390.1 275.8L393.2 280L396.2 284.1L399.2 288.3L402.3 292.4L405.3 296.5L408.4 300.6L411.4 304.6L414.5 308.6L417.5 312.6L420.6 316.5L423.6 320.3L426.6 324.1L429.7 327.8L432.7 331.4L435.8 335L438.8 338.5L441.9 341.9L444.9 345.3L448 348.6L451 351.8L454.1 355L457.1 358.2L460.1 361.3L463.2 364.3L466.2 367.2L469.3 369.9L472.3 372.7L475.4 375.3L478.4 377.9L481.5 380.3L484.5 382.7L487.5 385L490.6 387.2L493.6 389.2L496.7 391.1L499.7 392.9L502.8 394.7L505.8 396.3L508.9 397.9L511.9 399.4L515 400.8L518 402.2L521 403.5L524.1 404.7L527.1 405.9L530.2 407L533.2 408.1L536.3 409.1L539.3 410L542.4 410.9L545.4 411.7L548.4 412.5L551.5 413.3L554.5 414L557.6 414.7L560.6 415.3L563.7 416L566.7 416.6L569.8 417.2L572.8 417.8L575.9 418.4L578.9 419L581.9 419.6L585 420.1L588 420.6L591.1 421.2L594.1 421.7L597.2 422.2L600.2 422.8L603.3 423.3L606.3 423.8L609.4 424.3L612.4 424.8L615.4 425.3L618.5 425.8L621.5 426.3L624.6 426.7L627.6 427.2L630.7 427.6L633.7 428L636.8 428.3L639.8 428.7L642.8 429.1L645.9 429.4L648.9 429.8L652 430.1L655 430.4L658.1 430.7L661.1 431L664.2 431.3L667.2 431.5L670.2 431.8L673.3 432L676.3 432.2L679.4 432.3L682.4 432.5L685.5 432.6L688.5 432.8L691.6 432.9L694.6 433L697.7 433.1L700.7 433.2L703.7 433.3L706.8 433.4L709.8 433.5L712.9 433.6L715.9 433.7L719 433.8L722 433.9L725.1 433.9L728.1 434L731.1 434L734.2 434.1L737.2 434.1L740.3 434.2L743.3 434.2L746.4 434.2L749.4 434.3L752.5 434.3L755.5 434.3L758.6 434.3L761.6 434.3" stroke="#000"/>
<path d="M137.4 394.3L140.4 390.3L143.5 384.5L146.5 379.1L149.6 374.1L152.6 369.7L155.6 365.7L158.7 362L161.7 358.4L164.8 354.8L167.8 351.1L170.9 347.4L173.9 343.7L177 339.8L180 336L183 332L186.1 327.9L189.1 323.8L192.2 319.6L195.2 315.2L198.3 310.4L201.3 305L204.4 299.1L207.4 292.8L210.5 286.1L213.5 279.3L216.5 272.7L219.6 266.7L222.6 261.1L225.7 255.9L228.7 250.9L231.8 246.2L234.8 241.7L237.9 237.5L240.9 233.2L243.9 228.8L247 224.5L250 220.2L253.1 216.3L256.1 212.9L259.2 210L262.2 207.4L265.3 204.9L268.3 202.4L271.4 200.1L274.4 197.9L277.4 195.9L280.5 194L283.5 192.3L286.6 190.6L289.6 189.3L292.7 188.4L295.7 188L298.8 187.9L301.8 188.1L304.9 188.6L307.9 189.3L310.9 190.2L314 191.4L317 192.7L320.1 194.3L323.1 196.2L326.2 198.2L329.2 200.5L332.3 203L335.3 205.7L338.3 208.8L341.4 212.2L344.4 215.7L347.5 219.3L350.5 223.1L353.6 227.1L356.6 231.2L359.7 235.4L362.7 239.5L365.8 243.6L368.8 247.6L371.8 251.6L374.9 255.6L377.9 259.5L381 263.6L384 267.6L387.1 271.7L390.1 275.8L393.2 280L396.2 284.1L399.2 288.3L402.3 292.4L405.3 296.5L408.4 300.6L411.4 304.6L414.5 308.6L417.5 312.6L420.6 316.5L423.6 320.3L426.6 324.1L429.7 327.8L432.7 331.4L435.8 335L438.8 338.5L441.9 341.9L444.9 345.3L448 348.6L451 351.8L454.1 355L457.1 358.2L460.1 361.3L463.2 364.3L466.2 367.2L469.3 369.9L472.3 372.7L475.4 375.3L478.4 377.9L481.5 380.3L484.5 382.7L487.5 385L490.6 387.2L493.6 389.2L496.7 391.1L499.7 392.9L502.8 394.7L505.8 396.3L508.9 397.9L511.9 399.4L515 400.8L518 402.2L521 403.5L524.1 404.7L527.1 405.9L530.2 407L533.2 408.1L536.3 409.1L539.3 410L542.4 410.9L545.4 411.7L548.4 412.5L551.5 413.3L554.5 414L557.6 414.7L560.6 415.3L563.7 416L566.7 416.6L569.8 417.2L572.8 417.8L575.9 418.4L578.9 419L581.9 419.6L585 420.1L588 420.6L591.1 421.2L594.1 421.7L597.2 422.2L600.2 422.8L603.3 423.3L606.3 423.8L609.4 424.3L612.4 424.8L615.4 425.3L618.5 425.8L621.5 426.3L624.6 426.7L627.6 427.2L630.7 427.6L633.7 428L636.8 428.3L639.8 428.7L642.8 429.1L645.9 429.4L648.9 429.8L652 430.1L655 430.4L658.1 430.7L661.1 431L664.2 431.3L667.2 431.5L670.2 431.8L673.3 432L676.3 432.2L679.4 432.3L682.4 432.5L685.5 432.6L688.5 432.8L691.6 432.9L694.6 433L697.7 433.1L700.7 433.2L703.7 433.3L706.8 433.4L709.8 433.5L712.9 433.6L715.9 433.7L719 433.8L722 433.9L725.1 433.9L728.1 434L731.1 434L734.2 434.1L737.2 434.1L740.3 434.2L743.3 434.2L746.4 434.2L749.4 434.3L752.5 434.3L755.5 434.3L758.6 434.3L761.6 434.3" stroke="#333"/>
<path d="M137.4 395.4L140.4 392L143.5 387L146.5 382.5L149.6 378.4L152.6 374.8L155.6 371.6L158.7 368.7L161.7 365.9L164.8 363.1L167.8 360.3L170.9 357.4L173.9 354.5L177 351.5L180 348.4L183 345.3L186.1 342.1L189.1 338.8L192.2 335.4L195.2 331.7L198.3 327.6L201.3 322.9L204.4 317.7L207.4 312.2L210.5 306.4L213.5 300.5L216.5 294.7L219.6 289.3L222.6 284.2L225.7 279.3L228.7 274.5L231.8 269.8L234.8 265.4L237.9 261.1L240.9 256.7L243.9 252L247 247.3L250 242.7L253.1 238.3L256.1 234.3L259.2 230.6L262.2 227.2L265.3 223.9L268.3 220.7L271.4 217.7L274.4 214.8L277.4 212.1L280.5 209.6L283.5 207.3L286.6 205.2L289.6 203.4L292.7 202L295.7 201.1L298.8 200.6L301.8 200.5L304.9 200.6L307.9 201L310.9 201.6L314 202.4L317 203.5L320.1 204.7L323.1 206.3L326.2 208L329.2 209.9L332.3 212L335.3 214.4L338.3 217.1L341.4 220.1L344.4 223.2L347.5 226.6L350.5 230.1L353.6 233.8L356.6 237.7L359.7 241.7L362.7 245.7L365.8 249.6L368.8 253.4L371.8 257.3L374.9 261.2L377.9 265L381 269L384 272.9L387.1 276.9L390.1 280.8L393.2 284.9L396.2 288.9L399.2 292.9L402.3 296.9L405.3 300.9L408.4 304.8L411.4 308.7L414.5 312.6L417.5 316.4L420.6 320.1L423.6 323.8L426.6 327.5L429.7 331L432.7 334.6L435.8 338L438.8 341.3L441.9 344.6L444.9 347.8L448 350.9L451 354L454.1 357L457.1 360L460.1 362.9L463.2 365.7L466.2 368.5L469.3 371.1L472.3 373.7L475.4 376.2L478.4 378.6L481.5 381L484.5 383.2L487.5 385.4L490.6 387.5L493.6 389.4L496.7 391.3L499.7 393L502.8 394.7L505.8 396.3L508.9 397.8L511.9 399.3L515 400.7L518 402.1L521 403.3L524.1 404.6L527.1 405.8L530.2 406.9L533.2 408L536.3 409L539.3 409.9L542.4 410.8L545.4 411.7L548.4 412.5L551.5 413.3L554.5 414L557.6 414.8L560.6 415.5L563.7 416.2L566.7 416.8L569.8 417.5L572.8 418.1L575.9 418.7L578.9 419.3L581.9 419.9L585 420.5L588 421L591.1 421.6L594.1 422.1L597.2 422.6L600.2 423.2L603.3 423.7L606.3 424.2L609.4 424.7L612.4 425.2L615.4 425.7L618.5 426.2L621.5 426.7L624.6 427.1L627.6 427.5L630.7 428L633.7 428.3L636.8 428.7L639.8 429.1L642.8 429.5L645.9 429.8L648.9 430.2L652 430.5L655 430.8L658.1 431.1L661.1 431.4L664.2 431.6L667.2 431.9L670.2 432.1L673.3 432.3L676.3 432.5L679.4 432.7L682.4 432.8L685.5 433L688.5 433.1L691.6 433.2L694.6 433.4L697.7 433.5L700.7 433.6L703.7 433.7L706.8 433.8L709.8 433.9L712.9 434L715.9 434.1L719 434.2L722 434.2L725.1 434.3L728.1 434.4L731.1 434.4L734.2 434.5L737.2 434.5L740.3 434.6L743.3 434.6L746.4 434.6L749.4 434.7L752.5 434.7L755.5 434.7L758.6 434.7L761.6 434.7" stroke="#555"/>
<path d="M137.4 396.5L140.4 393.6L143.5 389.5L146.5 385.7L149.6 382.4L152.6 379.6L155.6 377.2L158.7 375.1L161.7 373.1L164.8 371L167.8 369L170.9 366.9L173.9 364.7L177 362.5L180 360.3L183 358L186.1 355.6L189.1 353L192.2 350.4L195.2 347.4L198.3 344L201.3 339.9L204.4 335.5L207.4 330.7L210.5 325.8L213.5 320.7L216.5 315.7L219.6 310.8L222.6 306.1L225.7 301.5L228.7 296.9L231.8 292.4L234.8 287.9L237.9 283.6L240.9 279L243.9 274.2L247 269.3L250 264.5L253.1 259.8L256.1 255.4L259.2 251.3L262.2 247.3L265.3 243.5L268.3 239.8L271.4 236.2L274.4 232.9L277.4 229.7L280.5 226.8L283.5 224.1L286.6 221.6L289.6 219.4L292.7 217.6L295.7 216.2L298.8 215.3L301.8 214.7L304.9 214.5L307.9 214.5L310.9 214.8L314 215.3L317 215.9L320.1 216.8L323.1 218L326.2 219.3L329.2 220.8L332.3 222.4L335.3 224.4L338.3 226.6L341.4 229.2L344.4 232L347.5 234.9L350.5 238.1L353.6 241.5L356.6 245.2L359.7 249L362.7 252.8L365.8 256.5L368.8 260.2L371.8 263.9L374.9 267.7L377.9 271.4L381 275.2L384 279L387.1 282.8L390.1 286.7L393.2 290.5L396.2 294.4L399.2 298.3L402.3 302.1L405.3 305.9L408.4 309.7L411.4 313.4L414.5 317.1L417.5 320.7L420.6 324.3L423.6 327.9L426.6 331.4L429.7 334.8L432.7 338.2L435.8 341.5L438.8 344.7L441.9 347.7L444.9 350.7L448 353.6L451 356.5L454.1 359.3L457.1 362.1L460.1 364.8L463.2 367.5L466.2 370L469.3 372.5L472.3 374.9L475.4 377.2L478.4 379.4L481.5 381.7L484.5 383.8L487.5 385.9L490.6 387.8L493.6 389.7L496.7 391.5L499.7 393.1L502.8 394.7L505.8 396.3L508.9 397.8L511.9 399.2L515 400.6L518 401.9L521 403.2L524.1 404.4L527.1 405.6L530.2 406.7L533.2 407.8L536.3 408.8L539.3 409.8L542.4 410.7L545.4 411.6L548.4 412.5L551.5 413.3L554.5 414.1L557.6 414.9L560.6 415.6L563.7 416.4L566.7 417.1L569.8 417.8L572.8 418.4L575.9 419.1L578.9 419.7L581.9 420.3L585 420.9L588 421.5L591.1 422L594.1 422.6L597.2 423.1L600.2 423.6L603.3 424.2L606.3 424.7L609.4 425.2L612.4 425.7L615.4 426.2L618.5 426.7L621.5 427.1L624.6 427.6L627.6 428L630.7 428.4L633.7 428.8L636.8 429.2L639.8 429.5L642.8 429.9L645.9 430.3L648.9 430.6L652 430.9L655 431.2L658.1 431.5L661.1 431.8L664.2 432.1L667.2 432.3L670.2 432.5L673.3 432.7L676.3 432.9L679.4 433.1L682.4 433.2L685.5 433.4L688.5 433.5L691.6 433.7L694.6 433.8L697.7 433.9L700.7 434L703.7 434.1L706.8 434.2L709.8 434.3L712.9 434.4L715.9 434.5L719 434.6L722 434.7L725.1 434.7L728.1 434.8L731.1 434.9L734.2 434.9L737.2 435L740.3 435L743.3 435L746.4 435.1L749.4 435.1L752.5 435.1L755.5 435.2L758.6 435.2L761.6 435.2" stroke="#777"/>
<path d="M137.4 397.1L140.4 394.5L143.5 390.8L146.5 387.5L149.6 384.6L152.6 382.3L155.6 380.3L158.7 378.6L161.7 377L164.8 375.4L167.8 373.8L170.9 372.1L173.9 370.4L177 368.6L180 366.8L183 364.9L186.1 363L189.1 360.9L192.2 358.7L195.2 356.1L198.3 353L201.3 349.3L204.4 345.2L207.4 340.9L210.5 336.4L213.5 331.8L216.5 327.2L219.6 322.7L222.6 318.2L225.7 313.7L228.7 309.2L231.8 304.8L234.8 300.4L237.9 295.9L240.9 291.3L243.9 286.5L247 281.6L250 276.8L253.1 272.1L256.1 267.6L259.2 263.4L262.2 259.3L265.3 255.3L268.3 251.5L271.4 247.8L274.4 244.3L277.4 241.1L280.5 238L283.5 235.1L286.6 232.5L289.6 230.1L292.7 228.1L295.7 226.5L298.8 225.3L301.8 224.4L304.9 223.9L307.9 223.7L310.9 223.7L314 224L317 224.4L320.1 225.1L323.1 225.9L326.2 227L329.2 228.2L332.3 229.5L335.3 231.2L338.3 233.2L341.4 235.4L344.4 237.9L347.5 240.6L350.5 243.5L353.6 246.8L356.6 250.3L359.7 254L362.7 257.6L365.8 261.2L368.8 264.8L371.8 268.4L374.9 272.1L377.9 275.7L381 279.4L384 283.1L387.1 286.9L390.1 290.6L393.2 294.4L396.2 298.1L399.2 301.9L402.3 305.7L405.3 309.4L408.4 313L411.4 316.6L414.5 320.2L417.5 323.7L420.6 327.2L423.6 330.6L426.6 334L429.7 337.4L432.7 340.7L435.8 343.9L438.8 346.9L441.9 349.8L444.9 352.7L448 355.4L451 358.2L454.1 360.9L457.1 363.5L460.1 366.1L463.2 368.6L466.2 371.1L469.3 373.4L472.3 375.7L475.4 377.9L478.4 380L481.5 382.1L484.5 384.2L487.5 386.2L490.6 388.1L493.6 389.9L496.7 391.6L499.7 393.2L502.8 394.8L505.8 396.3L508.9 397.7L511.9 399.1L515 400.5L518 401.8L521 403.1L524.1 404.3L527.1 405.5L530.2 406.6L533.2 407.7L536.3 408.7L539.3 409.7L542.4 410.7L545.4 411.6L548.4 412.5L551.5 413.4L554.5 414.2L557.6 415L560.6 415.8L563.7 416.5L566.7 417.2L569.8 418L572.8 418.6L575.9 419.3L578.9 420L581.9 420.6L585 421.2L588 421.8L591.1 422.3L594.1 422.9L597.2 423.4L600.2 424L603.3 424.5L606.3 425L609.4 425.5L612.4 426L615.4 426.5L618.5 427L621.5 427.5L624.6 427.9L627.6 428.3L630.7 428.7L633.7 429.1L636.8 429.5L639.8 429.8L642.8 430.2L645.9 430.5L648.9 430.9L652 431.2L655 431.5L658.1 431.8L661.1 432.1L664.2 432.3L667.2 432.6L670.2 432.8L673.3 433L676.3 433.2L679.4 433.4L682.4 433.5L685.5 433.7L688.5 433.8L691.6 433.9L694.6 434.1L697.7 434.2L700.7 434.3L703.7 434.4L706.8 434.5L709.8 434.6L712.9 434.7L715.9 434.8L719 434.9L722 435L725.1 435L728.1 435.1L731.1 435.2L734.2 435.2L737.2 435.3L740.3 435.3L743.3 435.4L746.4 435.4L749.4 435.4L752.5 435.4L755.5 435.5L758.6 435.5L761.6 435.5" stroke="#999"/>
<path d="M137.4 397.5L140.4 395.2L143.5 391.9L146.5 388.9L149.6 386.4L152.6 384.4L155.6 382.8L158.7 381.5L161.7 380.2L164.8 379L167.8 377.7L170.9 376.4L173.9 375L177 373.6L180 372.1L183 370.6L186.1 369L189.1 367.3L192.2 365.4L195.2 363.2L198.3 360.4L201.3 357L204.4 353.2L207.4 349.2L210.5 345.1L213.5 340.9L216.5 336.6L219.6 332.4L222.6 328.1L225.7 323.7L228.7 319.3L231.8 314.9L234.8 310.5L237.9 306L240.9 301.4L243.9 296.6L247 291.8L250 287L253.1 282.4L256.1 278L259.2 273.7L262.2 269.6L265.3 265.7L268.3 261.8L271.4 258.1L274.4 254.6L277.4 251.3L280.5 248.2L283.5 245.2L286.6 242.5L289.6 240.1L292.7 237.8L295.7 236L298.8 234.6L301.8 233.5L304.9 232.8L307.9 232.3L310.9 232.1L314 232.2L317 232.4L320.1 232.8L323.1 233.4L326.2 234.1L329.2 235.1L332.3 236.2L335.3 237.6L338.3 239.3L341.4 241.3L344.4 243.5L347.5 245.9L350.5 248.6L353.6 251.7L356.6 255.1L359.7 258.6L362.7 262.1L365.8 265.6L368.8 269.1L371.8 272.7L374.9 276.2L377.9 279.8L381 283.4L384 287L387.1 290.7L390.1 294.3L393.2 298L396.2 301.7L399.2 305.3L402.3 309L405.3 312.6L408.4 316.1L411.4 319.6L414.5 323.1L417.5 326.5L420.6 329.8L423.6 333.2L426.6 336.5L429.7 339.8L432.7 343L435.8 346.1L438.8 349L441.9 351.8L444.9 354.5L448 357.1L451 359.7L454.1 362.3L457.1 364.8L460.1 367.3L463.2 369.7L466.2 372L469.3 374.3L472.3 376.4L475.4 378.5L478.4 380.6L481.5 382.6L484.5 384.6L487.5 386.5L490.6 388.3L493.6 390.1L496.7 391.7L499.7 393.3L502.8 394.8L505.8 396.2L508.9 397.7L511.9 399.1L515 400.4L518 401.7L521 403L524.1 404.2L527.1 405.4L530.2 406.5L533.2 407.6L536.3 408.6L539.3 409.6L542.4 410.6L545.4 411.6L548.4 412.5L551.5 413.4L554.5 414.2L557.6 415.1L560.6 415.9L563.7 416.6L566.7 417.4L569.8 418.1L572.8 418.9L575.9 419.6L578.9 420.2L581.9 420.9L585 421.5L588 422L591.1 422.6L594.1 423.2L597.2 423.7L600.2 424.3L603.3 424.8L606.3 425.3L609.4 425.8L612.4 426.3L615.4 426.8L618.5 427.3L621.5 427.8L624.6 428.2L627.6 428.6L630.7 429L633.7 429.4L636.8 429.8L639.8 430.1L642.8 430.5L645.9 430.8L648.9 431.2L652 431.5L655 431.8L658.1 432.1L661.1 432.3L664.2 432.6L667.2 432.8L670.2 433.1L673.3 433.3L676.3 433.4L679.4 433.6L682.4 433.8L685.5 433.9L688.5 434.1L691.6 434.2L694.6 434.3L697.7 434.4L700.7 434.6L703.7 434.7L706.8 434.8L709.8 434.9L712.9 435L715.9 435.1L719 435.2L722 435.2L725.1 435.3L728.1 435.4L731.1 435.4L734.2 435.5L737.2 435.6L740.3 435.6L743.3 435.6L746.4 435.7L749.4 435.7L752.5 435.7L755.5 435.8L758.6 435.8L761.6 435.8" stroke="#000"/>
<path d="M137.4 397.8L140.4 395.6L143.5 392.5L146.5 389.7L149.6 387.5L152.6 385.7L155.6 384.3L158.7 383.1L161.7 382L164.8 381L167.8 379.9L170.9 378.8L173.9 377.6L177 376.4L180 375.1L183 373.8L186.1 372.4L189.1 370.9L192.2 369.2L195.2 367.1L198.3 364.5L201.3 361.2L204.4 357.6L207.4 353.8L210.5 350L213.5 346L216.5 341.9L219.6 337.8L222.6 333.6L225.7 329.3L228.7 325L231.8 320.6L234.8 316.1L237.9 311.7L240.9 307L243.9 302.2L247 297.3L250 292.4L253.1 287.7L256.1 283.2L259.2 278.8L262.2 274.5L265.3 270.4L268.3 266.4L271.4 262.5L274.4 258.9L277.4 255.4L280.5 252.2L283.5 249.1L286.6 246.3L289.6 243.7L292.7 241.4L295.7 239.4L298.8 237.9L301.8 236.8L304.9 235.9L307.9 235.4L310.9 235.1L314 235.1L317 235.2L320.1 235.5L323.1 236L326.2 236.7L329.2 237.5L332.3 238.6L335.3 239.8L338.3 241.4L341.4 243.3L344.4 245.5L347.5 247.8L350.5 250.4L353.6 253.4L356.6 256.8L359.7 260.3L362.7 263.8L365.8 267.2L368.8 270.7L371.8 274.2L374.9 277.7L377.9 281.2L381 284.8L384 288.4L387.1 292L390.1 295.6L393.2 299.3L396.2 302.9L399.2 306.5L402.3 310.2L405.3 313.7L408.4 317.2L411.4 320.7L414.5 324.1L417.5 327.5L420.6 330.8L423.6 334.1L426.6 337.4L429.7 340.7L432.7 343.9L435.8 346.9L438.8 349.8L441.9 352.5L444.9 355.2L448 357.8L451 360.3L454.1 362.8L457.1 365.3L460.1 367.8L463.2 370.1L466.2 372.4L469.3 374.6L472.3 376.7L475.4 378.8L478.4 380.8L481.5 382.8L484.5 384.7L487.5 386.6L490.6 388.4L493.6 390.1L496.7 391.7L499.7 393.3L502.8 394.8L505.8 396.2L508.9 397.6L511.9 399L515 400.4L518 401.7L521 403L524.1 404.2L527.1 405.3L530.2 406.5L533.2 407.5L536.3 408.6L539.3 409.6L542.4 410.6L545.4 411.5L548.4 412.5L551.5 413.4L554.5 414.3L557.6 415.1L560.6 415.9L563.7 416.7L566.7 417.4L569.8 418.2L572.8 418.9L575.9 419.6L578.9 420.3L581.9 421L585 421.6L588 422.1L591.1 422.7L594.1 423.3L597.2 423.8L600.2 424.4L603.3 424.9L606.3 425.4L609.4 425.9L612.4 426.4L615.4 426.9L618.5 427.4L621.5 427.9L624.6 428.3L627.6 428.7L630.7 429.1L633.7 429.5L636.8 429.9L639.8 430.2L642.8 430.6L645.9 430.9L648.9 431.3L652 431.6L655 431.9L658.1 432.2L661.1 432.4L664.2 432.7L667.2 432.9L670.2 433.1L673.3 433.3L676.3 433.5L679.4 433.7L682.4 433.9L685.5 434L688.5 434.1L691.6 434.3L694.6 434.4L697.7 434.5L700.7 434.7L703.7 434.8L706.8 434.9L709.8 435L712.9 435.1L715.9 435.2L719 435.3L722 435.3L725.1 435.4L728.1 435.5L731.1 435.5L734.2 435.6L737.2 435.7L740.3 435.7L743.3 435.8L746.4 435.8L749.4 435.8L752.5 435.8L755.5 435.9L758.6 435.9L761.6 435.9" stroke="#444"/>
<path d="M137.4 398L140.4 396L143.5 393.1L146.5 390.6L149.6 388.5L152.6 386.9L155.6 385.7L158.7 384.7L161.7 383.8L164.8 382.9L167.8 382.1L170.9 381.1L173.9 380.2L177 379.1L180 378.1L183 377L186.1 375.8L189.1 374.4L192.2 372.9L195.2 371L198.3 368.6L201.3 365.5L204.4 362L207.4 358.5L210.5 354.8L213.5 351L216.5 347.1L219.6 343.1L222.6 339.1L225.7 334.9L228.7 330.6L231.8 326.2L234.8 321.8L237.9 317.3L240.9 312.6L243.9 307.8L247 302.9L250 298L253.1 293.3L256.1 288.7L259.2 284.3L262.2 280L265.3 275.8L268.3 271.8L271.4 267.9L274.4 264.2L277.4 260.7L280.5 257.4L283.5 254.3L286.6 251.4L289.6 248.7L292.7 246.3L295.7 244.2L298.8 242.6L301.8 241.3L304.9 240.3L307.9 239.7L310.9 239.3L314 239.1L317 239.2L320.1 239.4L323.1 239.7L326.2 240.3L329.2 241L332.3 241.9L335.3 243L338.3 244.5L341.4 246.3L344.4 248.3L347.5 250.5L350.5 253L353.6 255.9L356.6 259.1L359.7 262.6L362.7 266L365.8 269.4L368.8 272.8L371.8 276.3L374.9 279.8L377.9 283.3L381 286.8L384 290.3L387.1 293.9L390.1 297.5L393.2 301.1L396.2 304.7L399.2 308.2L402.3 311.8L405.3 315.3L408.4 318.8L411.4 322.2L414.5 325.5L417.5 328.8L420.6 332.1L423.6 335.4L426.6 338.7L429.7 341.9L432.7 345L435.8 348L438.8 350.8L441.9 353.5L444.9 356.1L448 358.6L451 361.1L454.1 363.6L457.1 366L460.1 368.4L463.2 370.7L466.2 372.9L469.3 375L472.3 377.1L475.4 379.1L478.4 381L481.5 383L484.5 384.9L487.5 386.7L490.6 388.5L493.6 390.2L496.7 391.8L499.7 393.3L502.8 394.8L505.8 396.2L508.9 397.6L511.9 399L515 400.3L518 401.6L521 402.9L524.1 404.1L527.1 405.3L530.2 406.4L533.2 407.5L536.3 408.5L539.3 409.6L542.4 410.6L545.4 411.5L548.4 412.5L551.5 413.4L554.5 414.3L557.6 415.1L560.6 416L563.7 416.7L566.7 417.5L569.8 418.3L572.8 419L575.9 419.7L578.9 420.4L581.9 421.1L585 421.7L588 422.3L591.1 422.9L594.1 423.4L597.2 424L600.2 424.5L603.3 425.1L606.3 425.6L609.4 426.1L612.4 426.6L615.4 427.1L618.5 427.6L621.5 428L624.6 428.4L627.6 428.9L630.7 429.3L633.7 429.6L636.8 430L639.8 430.4L642.8 430.7L645.9 431.1L648.9 431.4L652 431.7L655 432L658.1 432.3L661.1 432.6L664.2 432.8L667.2 433.1L670.2 433.3L673.3 433.5L676.3 433.7L679.4 433.8L682.4 434L685.5 434.1L688.5 434.3L691.6 434.4L694.6 434.5L697.7 434.7L700.7 434.8L703.7 434.9L706.8 435L709.8 435.1L712.9 435.2L715.9 435.3L719 435.4L722 435.5L725.1 435.6L728.1 435.6L731.1 435.7L734.2 435.7L737.2 435.8L740.3 435.9L743.3 435.9L746.4 435.9L749.4 436L752.5 436L755.5 436L758.6 436L761.6 436" stroke="#777"/>
<path d="M137.4 398.3L140.4 396.3L143.5 393.6L146.5 391.2L149.6 389.3L152.6 387.8L155.6 386.8L158.7 385.9L161.7 385.2L164.8 384.5L167.8 383.8L170.9 383L173.9 382.2L177 381.3L180 380.4L183 379.5L186.1 378.5L189.1 377.3L192.2 375.9L195.2 374.2L198.3 371.8L201.3 368.9L204.4 365.6L207.4 362.2L210.5 358.7L213.5 355.1L216.5 351.3L219.6 347.5L222.6 343.5L225.7 339.3L228.7 335.1L231.8 330.7L234.8 326.3L237.9 321.8L240.9 317.1L243.9 312.3L247 307.5L250 302.8L253.1 298.2L256.1 293.7L259.2 289.4L262.2 285.2L265.3 281.1L268.3 277.1L271.4 273.3L274.4 269.7L277.4 266.2L280.5 262.9L283.5 259.9L286.6 257L289.6 254.3L292.7 251.8L295.7 249.7L298.8 247.9L301.8 246.5L304.9 245.4L307.9 244.6L310.9 244.1L314 243.8L317 243.7L320.1 243.8L323.1 244L326.2 244.4L329.2 245L332.3 245.7L335.3 246.6L338.3 247.9L341.4 249.6L344.4 251.5L347.5 253.5L350.5 255.9L353.6 258.7L356.6 261.9L359.7 265.2L362.7 268.6L365.8 271.9L368.8 275.3L371.8 278.7L374.9 282.1L377.9 285.6L381 289L384 292.5L387.1 296.1L390.1 299.6L393.2 303.1L396.2 306.7L399.2 310.2L402.3 313.7L405.3 317.2L408.4 320.6L411.4 323.9L414.5 327.2L417.5 330.4L420.6 333.6L423.6 336.9L426.6 340.1L429.7 343.3L432.7 346.4L435.8 349.3L438.8 352L441.9 354.6L444.9 357.1L448 359.6L451 362L454.1 364.4L457.1 366.7L460.1 369L463.2 371.3L466.2 373.4L469.3 375.5L472.3 377.5L475.4 379.4L478.4 381.4L481.5 383.2L484.5 385.1L487.5 386.9L490.6 388.6L493.6 390.3L496.7 391.9L499.7 393.4L502.8 394.8L505.8 396.2L508.9 397.6L511.9 398.9L515 400.3L518 401.6L521 402.9L524.1 404.1L527.1 405.2L530.2 406.3L533.2 407.4L536.3 408.5L539.3 409.5L542.4 410.5L545.4 411.5L548.4 412.5L551.5 413.4L554.5 414.3L557.6 415.2L560.6 416L563.7 416.8L566.7 417.6L569.8 418.4L572.8 419.1L575.9 419.9L578.9 420.6L581.9 421.2L585 421.9L588 422.4L591.1 423L594.1 423.6L597.2 424.1L600.2 424.7L603.3 425.2L606.3 425.8L609.4 426.3L612.4 426.8L615.4 427.3L618.5 427.7L621.5 428.2L624.6 428.6L627.6 429L630.7 429.4L633.7 429.8L636.8 430.2L639.8 430.5L642.8 430.9L645.9 431.2L648.9 431.5L652 431.9L655 432.2L658.1 432.4L661.1 432.7L664.2 433L667.2 433.2L670.2 433.4L673.3 433.6L676.3 433.8L679.4 434L682.4 434.1L685.5 434.3L688.5 434.4L691.6 434.6L694.6 434.7L697.7 434.8L700.7 434.9L703.7 435.1L706.8 435.2L709.8 435.3L712.9 435.4L715.9 435.5L719 435.6L722 435.6L725.1 435.7L728.1 435.8L731.1 435.9L734.2 435.9L737.2 436L740.3 436L743.3 436.1L746.4 436.1L749.4 436.1L752.5 436.2L755.5 436.2L758.6 436.2L761.6 436.2" stroke="#000"/>
<path d="M137.4 398.4L140.4 396.6L143.5 394L146.5 391.7L149.6 389.9L152.6 388.6L155.6 387.6L158.7 386.9L161.7 386.3L164.8 385.7L167.8 385.1L170.9 384.5L173.9 383.8L177 383L180 382.2L183 381.4L186.1 380.5L189.1 379.4L192.2 378.2L195.2 376.5L198.3 374.3L201.3 371.4L204.4 368.3L207.4 364.9L210.5 361.6L213.5 358.1L216.5 354.5L219.6 350.7L222.6 346.7L225.7 342.7L228.7 338.4L231.8 334.1L234.8 329.7L237.9 325.2L240.9 320.5L243.9 315.7L247 311L250 306.3L253.1 301.8L256.1 297.4L259.2 293.2L262.2 289L265.3 285L268.3 281.1L271.4 277.3L274.4 273.8L277.4 270.4L280.5 267.1L283.5 264.1L286.6 261.2L289.6 258.5L292.7 256L295.7 253.7L298.8 251.9L301.8 250.4L304.9 249.2L307.9 248.3L310.9 247.7L314 247.3L317 247.1L320.1 247.1L323.1 247.2L326.2 247.5L329.2 247.9L332.3 248.5L335.3 249.4L338.3 250.6L341.4 252.1L344.4 253.8L347.5 255.8L350.5 258.1L353.6 260.8L356.6 263.9L359.7 267.2L362.7 270.5L365.8 273.8L368.8 277.1L371.8 280.5L374.9 283.9L377.9 287.3L381 290.7L384 294.2L387.1 297.7L390.1 301.2L393.2 304.7L396.2 308.2L399.2 311.7L402.3 315.1L405.3 318.6L408.4 321.9L411.4 325.2L414.5 328.4L417.5 331.6L420.6 334.8L423.6 338L426.6 341.1L429.7 344.3L432.7 347.4L435.8 350.2L438.8 352.9L441.9 355.5L444.9 357.9L448 360.3L451 362.7L454.1 365L457.1 367.3L460.1 369.6L463.2 371.7L466.2 373.8L469.3 375.9L472.3 377.8L475.4 379.7L478.4 381.6L481.5 383.4L484.5 385.3L487.5 387L490.6 388.7L493.6 390.4L496.7 391.9L499.7 393.4L502.8 394.8L505.8 396.2L508.9 397.6L511.9 398.9L515 400.3L518 401.6L521 402.8L524.1 404L527.1 405.2L530.2 406.3L533.2 407.4L536.3 408.5L539.3 409.5L542.4 410.5L545.4 411.5L548.4 412.5L551.5 413.4L554.5 414.3L557.6 415.2L560.6 416.1L563.7 416.9L566.7 417.7L569.8 418.5L572.8 419.2L575.9 420L578.9 420.7L581.9 421.3L585 422L588 422.6L591.1 423.1L594.1 423.7L597.2 424.3L600.2 424.8L603.3 425.4L606.3 425.9L609.4 426.4L612.4 426.9L615.4 427.4L618.5 427.9L621.5 428.3L624.6 428.7L627.6 429.2L630.7 429.6L633.7 429.9L636.8 430.3L639.8 430.7L642.8 431L645.9 431.3L648.9 431.7L652 432L655 432.3L658.1 432.6L661.1 432.8L664.2 433.1L667.2 433.3L670.2 433.5L673.3 433.7L676.3 433.9L679.4 434.1L682.4 434.2L685.5 434.4L688.5 434.5L691.6 434.7L694.6 434.8L697.7 434.9L700.7 435.1L703.7 435.2L706.8 435.3L709.8 435.4L712.9 435.5L715.9 435.6L719 435.7L722 435.8L725.1 435.8L728.1 435.9L731.1 436L734.2 436L737.2 436.1L740.3 436.1L743.3 436.2L746.4 436.2L749.4 436.3L752.5 436.3L755.5 436.3L758.6 436.3L761.6 436.3" stroke="#555"/>
<path d="M137.4 398.5L140.4 396.7L143.5 394.1L146.5 391.8L149.6 390.1L152.6 388.8L155.6 387.9L158.7 387.2L161.7 386.6L164.8 386.1L167.8 385.6L170.9 384.9L173.9 384.3L177 383.5L180 382.8L183 382L186.1 381.2L189.1 380.1L192.2 378.9L195.2 377.3L198.3 375.1L201.3 372.3L204.4 369.1L207.4 365.9L210.5 362.5L213.5 359.1L216.5 355.5L219.6 351.8L222.6 347.8L225.7 343.8L228.7 339.5L231.8 335.2L234.8 330.8L237.9 326.3L240.9 321.6L243.9 316.8L247 312.1L250 307.5L253.1 303L256.1 298.7L259.2 294.4L262.2 290.3L265.3 286.3L268.3 282.4L271.4 278.7L274.4 275.1L277.4 271.7L280.5 268.5L283.5 265.5L286.6 262.6L289.6 259.9L292.7 257.4L295.7 255.1L298.8 253.2L301.8 251.7L304.9 250.4L307.9 249.5L310.9 248.9L314 248.5L317 248.3L320.1 248.2L323.1 248.3L326.2 248.5L329.2 248.9L332.3 249.5L335.3 250.3L338.3 251.4L341.4 252.9L344.4 254.6L347.5 256.6L350.5 258.8L353.6 261.5L356.6 264.6L359.7 267.9L362.7 271.2L365.8 274.5L368.8 277.7L371.8 281.1L374.9 284.5L377.9 287.9L381 291.3L384 294.8L387.1 298.2L390.1 301.7L393.2 305.2L396.2 308.7L399.2 312.1L402.3 315.6L405.3 319L408.4 322.3L411.4 325.6L414.5 328.8L417.5 332L420.6 335.2L423.6 338.3L426.6 341.5L429.7 344.6L432.7 347.7L435.8 350.6L438.8 353.2L441.9 355.8L444.9 358.2L448 360.6L451 362.9L454.1 365.2L457.1 367.5L460.1 369.7L463.2 371.9L466.2 374L469.3 376L472.3 377.9L475.4 379.8L478.4 381.7L481.5 383.5L484.5 385.3L487.5 387.1L490.6 388.8L493.6 390.4L496.7 391.9L499.7 393.4L502.8 394.8L505.8 396.2L508.9 397.6L511.9 398.9L515 400.2L518 401.5L521 402.8L524.1 404L527.1 405.2L530.2 406.3L533.2 407.4L536.3 408.4L539.3 409.5L542.4 410.5L545.4 411.5L548.4 412.5L551.5 413.4L554.5 414.4L557.6 415.2L560.6 416.1L563.7 416.9L566.7 417.7L569.8 418.5L572.8 419.3L575.9 420L578.9 420.7L581.9 421.4L585 422L588 422.6L591.1 423.2L594.1 423.8L597.2 424.3L600.2 424.9L603.3 425.4L606.3 425.9L609.4 426.4L612.4 426.9L615.4 427.4L618.5 427.9L621.5 428.4L624.6 428.8L627.6 429.2L630.7 429.6L633.7 430L636.8 430.3L639.8 430.7L642.8 431L645.9 431.4L648.9 431.7L652 432L655 432.3L658.1 432.6L661.1 432.9L664.2 433.1L667.2 433.3L670.2 433.6L673.3 433.8L676.3 434L679.4 434.1L682.4 434.3L685.5 434.4L688.5 434.6L691.6 434.7L694.6 434.8L697.7 435L700.7 435.1L703.7 435.2L706.8 435.3L709.8 435.4L712.9 435.5L715.9 435.6L719 435.7L722 435.8L725.1 435.9L728.1 435.9L731.1 436L734.2 436.1L737.2 436.1L740.3 436.2L743.3 436.2L746.4 436.3L749.4 436.3L752.5 436.3L755.5 436.3L758.6 436.4L761.6 436.4" stroke="#888"/>
<path d="M137.4 398.5L140.4 396.7L143.5 394.2L146.5 392L149.6 390.3L152.6 389.1L155.6 388.2L158.7 387.5L161.7 387L164.8 386.5L167.8 386L170.9 385.4L173.9 384.8L177 384.1L180 383.4L183 382.7L186.1 381.8L189.1 380.9L192.2 379.7L195.2 378.1L198.3 375.9L201.3 373.2L204.4 370L207.4 366.8L210.5 363.5L213.5 360.1L216.5 356.6L219.6 352.8L222.6 348.9L225.7 344.9L228.7 340.7L231.8 336.3L234.8 331.9L237.9 327.4L240.9 322.7L243.9 318L247 313.3L250 308.7L253.1 304.2L256.1 299.9L259.2 295.7L262.2 291.6L265.3 287.6L268.3 283.8L271.4 280.1L274.4 276.5L277.4 273.1L280.5 269.9L283.5 266.9L286.6 264L289.6 261.3L292.7 258.8L295.7 256.4L298.8 254.5L301.8 253L304.9 251.7L307.9 250.7L310.9 250L314 249.6L317 249.4L320.1 249.3L323.1 249.3L326.2 249.5L329.2 249.9L332.3 250.4L335.3 251.2L338.3 252.3L341.4 253.7L344.4 255.4L347.5 257.3L350.5 259.6L353.6 262.2L356.6 265.3L359.7 268.5L362.7 271.8L365.8 275.1L368.8 278.4L371.8 281.7L374.9 285.1L377.9 288.5L381 291.9L384 295.3L387.1 298.8L390.1 302.2L393.2 305.7L396.2 309.2L399.2 312.6L402.3 316.1L405.3 319.5L408.4 322.8L411.4 326L414.5 329.2L417.5 332.4L420.6 335.5L423.6 338.7L426.6 341.9L429.7 345L432.7 348L435.8 350.9L438.8 353.5L441.9 356.1L444.9 358.5L448 360.8L451 363.1L454.1 365.4L457.1 367.7L460.1 369.9L463.2 372.1L466.2 374.1L469.3 376.1L472.3 378L475.4 379.9L478.4 381.7L481.5 383.6L484.5 385.4L487.5 387.1L490.6 388.8L493.6 390.4L496.7 392L499.7 393.4L502.8 394.8L505.8 396.2L508.9 397.6L511.9 398.9L515 400.2L518 401.5L521 402.8L524.1 404L527.1 405.2L530.2 406.3L533.2 407.4L536.3 408.4L539.3 409.5L542.4 410.5L545.4 411.5L548.4 412.5L551.5 413.4L554.5 414.4L557.6 415.2L560.6 416.1L563.7 416.9L566.7 417.7L569.8 418.5L572.8 419.3L575.9 420L578.9 420.8L581.9 421.4L585 422.1L588 422.7L591.1 423.2L594.1 423.8L597.2 424.4L600.2 424.9L603.3 425.4L606.3 426L609.4 426.5L612.4 427L615.4 427.5L618.5 427.9L621.5 428.4L624.6 428.8L627.6 429.2L630.7 429.6L633.7 430L636.8 430.4L639.8 430.7L642.8 431.1L645.9 431.4L648.9 431.7L652 432L655 432.3L658.1 432.6L661.1 432.9L664.2 433.1L667.2 433.4L670.2 433.6L673.3 433.8L676.3 434L679.4 434.2L682.4 434.3L685.5 434.5L688.5 434.6L691.6 434.7L694.6 434.9L697.7 435L700.7 435.1L703.7 435.3L706.8 435.4L709.8 435.5L712.9 435.6L715.9 435.7L719 435.8L722 435.8L725.1 435.9L728.1 436L731.1 436.1L734.2 436.1L737.2 436.2L740.3 436.2L743.3 436.3L746.4 436.3L749.4 436.3L752.5 436.4L755.5 436.4L758.6 436.4L761.6 436.4" stroke="#666"/>
<path d="M137.4 837.8L140.4 827.1L143.5 810.6L146.5 793L149.6 774.2L152.6 754.7L155.6 735.4L158.7 717L161.7 699.9L164.8 683.9L167.8 668.9L170.9 654.6L173.9 640.8L177 627.2L180 613.7L183 600.4L186.1 586.5L189.1 571.8L192.2 556.4L195.2 540.8L198.3 526.2L201.3 513.5L204.4 503.3L207.4 495.8L210.5 490.6L213.5 487.1L216.5 485L219.6 483.9L222.6 483.6L225.7 483.6L228.7 483.9L231.8 484.7L234.8 486.1L237.9 488.2L240.9 490.9L243.9 494L247 497.9L250 502.7L253.1 508.2L256.1 514.3L259.2 520.8L262.2 527.8L265.3 535.2L268.3 543.2L271.4 551.9L274.4 561.1L277.4 570.2L280.5 578.9L283.5 587.4L286.6 595.8L289.6 604.2L292.7 612.5L295.7 620.6L298.8 628.6L301.8 636.4L304.9 644.1L307.9 651.8L310.9 659.4L314 667L317 674.5L320.1 682L323.1 689.3L326.2 696.6L329.2 703.8L332.3 711L335.3 718.3L338.3 725.9L341.4 733.5L344.4 741L347.5 748.1L350.5 754.9L353.6 761.2L356.6 767.3L359.7 773.1L362.7 778.7L365.8 784L368.8 789.1L371.8 794L374.9 798.7L377.9 803L381 807L384 810.8L387.1 814.4L390.1 817.7L393.2 820.9L396.2 823.9L399.2 826.8L402.3 829.5L405.3 832.1L408.4 834.6L411.4 837L414.5 839.2L417.5 841.3L420.6 843.3L423.6 845.1L426.6 846.8L429.7 848.3L432.7 849.8L435.8 851.2L438.8 852.4L441.9 853.6L444.9 854.8L448 855.9L451 856.9L454.1 857.9L457.1 858.9L460.1 859.8L463.2 860.6L466.2 861.4L469.3 862.1L472.3 862.9L475.4 863.5L478.4 864.2L481.5 864.8L484.5 865.4L487.5 865.9L490.6 866.4L493.6 866.9L496.7 867.3L499.7 867.8L502.8 868.2L505.8 868.5L508.9 868.9L511.9 869.3L515 869.6L518 869.9L521 870.2L524.1 870.4L527.1 870.7L530.2 871L533.2 871.2L536.3 871.5L539.3 871.7L542.4 871.9L545.4 872.2L548.4 872.3L551.5 872.5L554.5 872.7L557.6 872.8L560.6 872.9L563.7 873L566.7 873.1L569.8 873.1L572.8 873.2L575.9 873.3L578.9 873.3L581.9 873.4L585 873.5L588 873.5L591.1 873.6L594.1 873.6L597.2 873.7L600.2 873.7L603.3 873.8L606.3 873.8L609.4 873.8L612.4 873.9L615.4 873.9L618.5 873.9L621.5 874L624.6 874L627.6 874L630.7 874L633.7 874.1L636.8 874.1L639.8 874.1L642.8 874.1L645.9 874.1L648.9 874.1L652 874.2L655 874.2L658.1 874.2L661.1 874.2L664.2 874.2L667.2 874.2L670.2 874.2L673.3 874.2L676.3 874.3L679.4 874.3L682.4 874.3L685.5 874.3L688.5 874.3L691.6 874.3L694.6 874.3L697.7 874.3L700.7 874.3L703.7 874.4L706.8 874.4L709.8 874.4L712.9 874.4L715.9 874.4L719 874.4L722 874.4L725.1 874.4L728.1 874.4L731.1 874.4L734.2 874.4L737.2 874.4L740.3 874.4L743.3 874.4L746.4 874.4L749.4 874.4L752.5 874.4L755.5 874.4L758.6 874.4L761.6 874.4" stroke="#000"/>
<path d="M137.4 837.8L140.4 827.3L143.5 811.2L146.5 794.1L149.6 775.8L152.6 756.9L155.6 738.1L158.7 720.2L161.7 703.5L164.8 687.9L167.8 673.3L170.9 659.4L173.9 645.9L177 632.6L180 619.5L183 606.4L186.1 592.8L189.1 578.5L192.2 563.4L195.2 548.1L198.3 533.9L201.3 521.4L204.4 511.4L207.4 503.9L210.5 498.7L213.5 495.1L216.5 492.9L219.6 491.7L222.6 491.2L225.7 491.1L228.7 491.2L231.8 491.9L234.8 493.2L237.9 495.1L240.9 497.6L243.9 500.5L247 504.2L250 508.8L253.1 514L256.1 519.8L259.2 526.1L262.2 532.8L265.3 539.9L268.3 547.6L271.4 555.9L274.4 564.7L277.4 573.5L280.5 581.9L283.5 590.1L286.6 598.2L289.6 606.3L292.7 614.2L295.7 622.1L298.8 629.8L301.8 637.3L304.9 644.8L307.9 652.2L310.9 659.6L314 666.9L317 674.2L320.1 681.4L323.1 688.6L326.2 695.7L329.2 702.7L332.3 709.9L335.3 717.1L338.3 724.6L341.4 732.2L344.4 739.6L347.5 746.7L350.5 753.4L353.6 759.7L356.6 765.8L359.7 771.5L362.7 777L365.8 782.3L368.8 787.4L371.8 792.3L374.9 796.8L377.9 801.1L381 805.2L384 808.9L387.1 812.5L390.1 815.9L393.2 819.1L396.2 822.1L399.2 825L402.3 827.7L405.3 830.3L408.4 832.8L411.4 835.2L414.5 837.5L417.5 839.6L420.6 841.6L423.6 843.4L426.6 845.2L429.7 846.8L432.7 848.3L435.8 849.7L438.8 851L441.9 852.2L444.9 853.4L448 854.5L451 855.6L454.1 856.7L457.1 857.6L460.1 858.6L463.2 859.4L466.2 860.3L469.3 861L472.3 861.8L475.4 862.5L478.4 863.2L481.5 863.8L484.5 864.4L487.5 865L490.6 865.5L493.6 866L496.7 866.5L499.7 867L502.8 867.4L505.8 867.8L508.9 868.2L511.9 868.6L515 868.9L518 869.2L521 869.6L524.1 869.9L527.1 870.1L530.2 870.4L533.2 870.7L536.3 871L539.3 871.2L542.4 871.5L545.4 871.7L548.4 871.9L551.5 872.1L554.5 872.3L557.6 872.4L560.6 872.5L563.7 872.7L566.7 872.7L569.8 872.8L572.8 872.9L575.9 873L578.9 873.1L581.9 873.2L585 873.2L588 873.3L591.1 873.4L594.1 873.4L597.2 873.5L600.2 873.6L603.3 873.6L606.3 873.7L609.4 873.7L612.4 873.7L615.4 873.8L618.5 873.8L621.5 873.9L624.6 873.9L627.6 873.9L630.7 873.9L633.7 874L636.8 874L639.8 874L642.8 874L645.9 874L648.9 874.1L652 874.1L655 874.1L658.1 874.1L661.1 874.1L664.2 874.2L667.2 874.2L670.2 874.2L673.3 874.2L676.3 874.2L679.4 874.2L682.4 874.2L685.5 874.3L688.5 874.3L691.6 874.3L694.6 874.3L697.7 874.3L700.7 874.3L703.7 874.3L706.8 874.3L709.8 874.4L712.9 874.4L715.9 874.4L719 874.4L722 874.4L725.1 874.4L728.1 874.4L731.1 874.4L734.2 874.4L737.2 874.4L740.3 874.4L743.3 874.4L746.4 874.4L749.4 874.4L752.5 874.4L755.5 874.4L758.6 874.4L761.6 874.4" stroke="#333"/>
<path d="M137.4 837.7L140.4 827.4L143.5 811.7L146.5 794.9L149.6 777L152.6 758.4L155.6 740L158.7 722.5L161.7 706.1L164.8 690.8L167.8 676.5L170.9 662.8L173.9 649.5L177 636.5L180 623.5L183 610.7L186.1 597.3L189.1 583.2L192.2 568.3L195.2 553.4L198.3 539.3L201.3 527L204.4 517.1L207.4 509.7L210.5 504.4L213.5 500.9L216.5 498.5L219.6 497.3L222.6 496.7L225.7 496.4L228.7 496.5L231.8 497L234.8 498.2L237.9 500L240.9 502.3L243.9 505.2L247 508.7L250 513.1L253.1 518.2L256.1 523.8L259.2 529.9L262.2 536.3L265.3 543.2L268.3 550.7L271.4 558.8L274.4 567.3L277.4 575.9L280.5 584L283.5 592L286.6 599.9L289.6 607.7L292.7 615.5L295.7 623.1L298.8 630.6L301.8 638L304.9 645.2L307.9 652.5L310.9 659.7L314 666.8L317 674L320.1 681.1L323.1 688.1L326.2 695.1L329.2 702L332.3 709.1L335.3 716.3L338.3 723.7L341.4 731.2L344.4 738.6L347.5 745.7L350.5 752.4L353.6 758.7L356.6 764.6L359.7 770.4L362.7 775.8L365.8 781.1L368.8 786.1L371.8 791L374.9 795.6L377.9 799.8L381 803.8L384 807.6L387.1 811.2L390.1 814.5L393.2 817.7L396.2 820.8L399.2 823.7L402.3 826.4L405.3 829.1L408.4 831.6L411.4 834L414.5 836.2L417.5 838.4L420.6 840.4L423.6 842.3L426.6 844L429.7 845.7L432.7 847.2L435.8 848.6L438.8 849.9L441.9 851.2L444.9 852.4L448 853.6L451 854.7L454.1 855.7L457.1 856.7L460.1 857.7L463.2 858.6L466.2 859.4L469.3 860.2L472.3 861L475.4 861.7L478.4 862.4L481.5 863.1L484.5 863.7L487.5 864.3L490.6 864.9L493.6 865.4L496.7 865.9L499.7 866.4L502.8 866.8L505.8 867.3L508.9 867.7L511.9 868.1L515 868.4L518 868.8L521 869.1L524.1 869.4L527.1 869.7L530.2 870L533.2 870.3L536.3 870.6L539.3 870.9L542.4 871.2L545.4 871.4L548.4 871.6L551.5 871.8L554.5 872L557.6 872.2L560.6 872.3L563.7 872.4L566.7 872.5L569.8 872.6L572.8 872.7L575.9 872.8L578.9 872.9L581.9 873L585 873.1L588 873.2L591.1 873.2L594.1 873.3L597.2 873.4L600.2 873.4L603.3 873.5L606.3 873.5L609.4 873.6L612.4 873.6L615.4 873.7L618.5 873.7L621.5 873.8L624.6 873.8L627.6 873.8L630.7 873.9L633.7 873.9L636.8 873.9L639.8 873.9L642.8 874L645.9 874L648.9 874L652 874L655 874.1L658.1 874.1L661.1 874.1L664.2 874.1L667.2 874.1L670.2 874.2L673.3 874.2L676.3 874.2L679.4 874.2L682.4 874.2L685.5 874.2L688.5 874.2L691.6 874.3L694.6 874.3L697.7 874.3L700.7 874.3L703.7 874.3L706.8 874.3L709.8 874.3L712.9 874.3L715.9 874.4L719 874.4L722 874.4L725.1 874.4L728.1 874.4L731.1 874.4L734.2 874.4L737.2 874.4L740.3 874.4L743.3 874.4L746.4 874.4L749.4 874.4L752.5 874.4L755.5 874.4L758.6 874.4L761.6 874.4" stroke="#666"/>
<path d="M137.4 837.6L140.4 827.6L143.5 812.3L146.5 795.9L149.6 778.4L152.6 760.3L155.6 742.3L158.7 725.2L161.7 709.3L164.8 694.3L167.8 680.3L170.9 666.9L173.9 653.9L177 641.1L180 628.5L183 615.8L186.1 602.7L189.1 588.9L192.2 574.3L195.2 559.7L198.3 545.9L201.3 533.8L204.4 524L207.4 516.6L210.5 511.4L213.5 507.7L216.5 505.3L219.6 503.9L222.6 503.2L225.7 502.9L228.7 502.8L231.8 503.2L234.8 504.2L237.9 505.9L240.9 508.1L243.9 510.8L247 514.1L250 518.3L253.1 523.1L256.1 528.6L259.2 534.4L262.2 540.6L265.3 547.2L268.3 554.4L271.4 562.3L274.4 570.5L277.4 578.7L280.5 586.6L283.5 594.3L286.6 601.9L289.6 609.5L292.7 617L295.7 624.4L298.8 631.6L301.8 638.8L304.9 645.8L307.9 652.8L310.9 659.8L314 666.8L317 673.7L320.1 680.6L323.1 687.5L326.2 694.3L329.2 701.2L332.3 708.1L335.3 715.3L338.3 722.6L341.4 730.1L344.4 737.5L347.5 744.5L350.5 751.1L353.6 757.4L356.6 763.3L359.7 769L362.7 774.4L365.8 779.6L368.8 784.6L371.8 789.5L374.9 794L377.9 798.3L381 802.3L384 806L387.1 809.6L390.1 812.9L393.2 816.2L396.2 819.2L399.2 822.1L402.3 824.9L405.3 827.5L408.4 830.1L411.4 832.5L414.5 834.8L417.5 836.9L420.6 839L423.6 840.9L426.6 842.6L429.7 844.3L432.7 845.9L435.8 847.3L438.8 848.7L441.9 850L444.9 851.2L448 852.4L451 853.5L454.1 854.6L457.1 855.7L460.1 856.6L463.2 857.6L466.2 858.4L469.3 859.3L472.3 860.1L475.4 860.8L478.4 861.5L481.5 862.2L484.5 862.9L487.5 863.5L490.6 864.1L493.6 864.7L496.7 865.2L499.7 865.7L502.8 866.2L505.8 866.6L508.9 867L511.9 867.5L515 867.9L518 868.2L521 868.6L524.1 868.9L527.1 869.2L530.2 869.6L533.2 869.9L536.3 870.2L539.3 870.5L542.4 870.8L545.4 871L548.4 871.3L551.5 871.5L554.5 871.7L557.6 871.9L560.6 872L563.7 872.1L566.7 872.3L569.8 872.4L572.8 872.5L575.9 872.6L578.9 872.7L581.9 872.8L585 872.9L588 873L591.1 873.1L594.1 873.1L597.2 873.2L600.2 873.3L603.3 873.3L606.3 873.4L609.4 873.5L612.4 873.5L615.4 873.6L618.5 873.6L621.5 873.7L624.6 873.7L627.6 873.7L630.7 873.8L633.7 873.8L636.8 873.8L639.8 873.9L642.8 873.9L645.9 873.9L648.9 874L652 874L655 874L658.1 874L661.1 874.1L664.2 874.1L667.2 874.1L670.2 874.1L673.3 874.1L676.3 874.2L679.4 874.2L682.4 874.2L685.5 874.2L688.5 874.2L691.6 874.2L694.6 874.3L697.7 874.3L700.7 874.3L703.7 874.3L706.8 874.3L709.8 874.3L712.9 874.3L715.9 874.3L719 874.3L722 874.4L725.1 874.4L728.1 874.4L731.1 874.4L734.2 874.4L737.2 874.4L740.3 874.4L743.3 874.4L746.4 874.4L749.4 874.4L752.5 874.4L755.5 874.4L758.6 874.4L761.6 874.4" stroke="#888"/>
<path d="M137.4 837.2L140.4 828.5L143.5 815.3L146.5 801L149.6 785.9L152.6 770.2L155.6 754.7L158.7 739.9L161.7 726L164.8 712.9L167.8 700.6L170.9 688.8L173.9 677.3L177 665.9L180 654.6L183 643.3L186.1 631.6L189.1 619.2L192.2 606.2L195.2 593.2L198.3 580.8L201.3 569.9L204.4 560.8L207.4 553.7L210.5 548.4L213.5 544.4L216.5 541.5L219.6 539.5L222.6 538.1L225.7 537.1L228.7 536.4L231.8 536.2L234.8 536.5L237.9 537.4L240.9 538.7L243.9 540.5L247 542.9L250 546L253.1 549.7L256.1 553.9L259.2 558.4L262.2 563.3L265.3 568.6L268.3 574.3L271.4 580.6L274.4 587.2L277.4 593.8L280.5 600.2L283.5 606.5L286.6 612.7L289.6 618.9L292.7 625.1L295.7 631.1L298.8 637.1L301.8 642.9L304.9 648.8L307.9 654.6L310.9 660.4L314 666.3L317 672.2L320.1 678.2L323.1 684.2L326.2 690.3L329.2 696.5L332.3 703L335.3 709.8L338.3 716.8L341.4 724L344.4 731.2L347.5 738L350.5 744.4L353.6 750.5L356.6 756.2L359.7 761.7L362.7 766.9L365.8 771.9L368.8 776.7L371.8 781.3L374.9 785.7L377.9 789.9L381 793.8L384 797.5L387.1 801.1L390.1 804.5L393.2 807.7L396.2 810.8L399.2 813.8L402.3 816.6L405.3 819.4L408.4 822L411.4 824.5L414.5 826.9L417.5 829.2L420.6 831.4L423.6 833.4L426.6 835.3L429.7 837.2L432.7 838.9L435.8 840.5L438.8 842L441.9 843.5L444.9 844.9L448 846.2L451 847.5L454.1 848.7L457.1 849.9L460.1 851.1L463.2 852.1L466.2 853.2L469.3 854.1L472.3 855.1L475.4 856L478.4 856.8L481.5 857.7L484.5 858.5L487.5 859.3L490.6 860L493.6 860.7L496.7 861.4L499.7 862L502.8 862.6L505.8 863.2L508.9 863.7L511.9 864.3L515 864.8L518 865.3L521 865.8L524.1 866.2L527.1 866.6L530.2 867.1L533.2 867.5L536.3 867.9L539.3 868.3L542.4 868.7L545.4 869L548.4 869.3L551.5 869.7L554.5 869.9L557.6 870.2L560.6 870.4L563.7 870.6L566.7 870.8L569.8 871L572.8 871.2L575.9 871.4L578.9 871.6L581.9 871.7L585 871.9L588 872L591.1 872.1L594.1 872.3L597.2 872.4L600.2 872.5L603.3 872.6L606.3 872.7L609.4 872.8L612.4 872.9L615.4 873L618.5 873L621.5 873.1L624.6 873.2L627.6 873.3L630.7 873.3L633.7 873.4L636.8 873.4L639.8 873.5L642.8 873.5L645.9 873.6L648.9 873.6L652 873.7L655 873.7L658.1 873.8L661.1 873.8L664.2 873.8L667.2 873.9L670.2 873.9L673.3 873.9L676.3 874L679.4 874L682.4 874L685.5 874L688.5 874.1L691.6 874.1L694.6 874.1L697.7 874.1L700.7 874.2L703.7 874.2L706.8 874.2L709.8 874.2L712.9 874.2L715.9 874.2L719 874.3L722 874.3L725.1 874.3L728.1 874.3L731.1 874.3L734.2 874.3L737.2 874.3L740.3 874.4L743.3 874.4L746.4 874.4L749.4 874.4L752.5 874.4L755.5 874.4L758.6 874.4L761.6 874.4" stroke="#999"/>
<path d="M137.4 836.6L140.4 829.8L143.5 819.6L146.5 808.4L149.6 796.7L152.6 784.5L155.6 772.5L158.7 760.9L161.7 750L164.8 739.7L167.8 729.8L170.9 720.3L173.9 710.9L177 701.5L180 692.2L183 682.8L186.1 673.1L189.1 662.8L192.2 652.1L195.2 641.3L198.3 631L201.3 621.7L204.4 613.7L207.4 607L210.5 601.5L213.5 597.1L216.5 593.5L219.6 590.6L222.6 588.3L225.7 586.4L228.7 584.7L231.8 583.5L234.8 582.8L237.9 582.6L240.9 582.8L243.9 583.3L247 584.3L250 585.9L253.1 587.9L256.1 590.3L259.2 593L262.2 596L265.3 599.3L268.3 602.9L271.4 606.9L274.4 611.2L277.4 615.6L280.5 619.9L283.5 624.1L286.6 628.3L289.6 632.5L292.7 636.7L295.7 640.8L298.8 644.9L301.8 648.9L304.9 653L307.9 657.1L310.9 661.3L314 665.7L317 670.1L320.1 674.7L323.1 679.5L326.2 684.5L329.2 689.9L332.3 695.7L335.3 701.9L338.3 708.5L341.4 715.4L344.4 722.1L347.5 728.7L350.5 734.8L353.6 740.6L356.6 746L359.7 751.1L362.7 756L365.8 760.7L368.8 765.2L371.8 769.6L374.9 773.8L377.9 777.8L381 781.7L384 785.3L387.1 788.9L390.1 792.3L393.2 795.6L396.2 798.7L399.2 801.8L402.3 804.8L405.3 807.6L408.4 810.4L411.4 813L414.5 815.6L417.5 818L420.6 820.4L423.6 822.7L426.6 824.8L429.7 826.9L432.7 828.9L435.8 830.7L438.8 832.5L441.9 834.2L444.9 835.8L448 837.3L451 838.8L454.1 840.3L457.1 841.7L460.1 843L463.2 844.3L466.2 845.6L469.3 846.8L472.3 847.9L475.4 849L478.4 850.1L481.5 851.2L484.5 852.2L487.5 853.2L490.6 854.1L493.6 855L496.7 855.8L499.7 856.7L502.8 857.5L505.8 858.2L508.9 859L511.9 859.7L515 860.4L518 861L521 861.7L524.1 862.3L527.1 862.9L530.2 863.5L533.2 864L536.3 864.6L539.3 865.1L542.4 865.6L545.4 866.1L548.4 866.6L551.5 867L554.5 867.4L557.6 867.8L560.6 868.2L563.7 868.5L566.7 868.8L569.8 869.1L572.8 869.4L575.9 869.7L578.9 869.9L581.9 870.2L585 870.4L588 870.6L591.1 870.8L594.1 871L597.2 871.2L600.2 871.3L603.3 871.5L606.3 871.7L609.4 871.8L612.4 872L615.4 872.1L618.5 872.2L621.5 872.3L624.6 872.5L627.6 872.6L630.7 872.7L633.7 872.7L636.8 872.8L639.8 872.9L642.8 873L645.9 873.1L648.9 873.2L652 873.2L655 873.3L658.1 873.4L661.1 873.4L664.2 873.5L667.2 873.5L670.2 873.6L673.3 873.6L676.3 873.7L679.4 873.7L682.4 873.8L685.5 873.8L688.5 873.8L691.6 873.9L694.6 873.9L697.7 873.9L700.7 874L703.7 874L706.8 874L709.8 874.1L712.9 874.1L715.9 874.1L719 874.1L722 874.2L725.1 874.2L728.1 874.2L731.1 874.2L734.2 874.3L737.2 874.3L740.3 874.3L743.3 874.3L746.4 874.3L749.4 874.3L752.5 874.3L755.5 874.3L758.6 874.3L761.6 874.3" stroke="#000"/>
<path d="M137.4 836.1L140.4 830.8L143.5 822.9L146.5 814.2L149.6 805.1L152.6 795.7L155.6 786.4L158.7 777.4L161.7 768.8L164.8 760.6L167.8 752.6L170.9 744.9L173.9 737.1L177 729.4L180 721.6L183 713.7L186.1 705.5L189.1 696.9L192.2 688L195.2 679L198.3 670.4L201.3 662.3L204.4 655L207.4 648.7L210.5 643.2L213.5 638.4L216.5 634.2L219.6 630.6L222.6 627.6L225.7 624.9L228.7 622.6L231.8 620.6L234.8 619.1L237.9 618L240.9 617.2L243.9 616.8L247 616.7L250 617.1L253.1 617.8L256.1 618.8L259.2 620.1L262.2 621.6L265.3 623.3L268.3 625.3L271.4 627.5L274.4 630.1L277.4 632.7L280.5 635.3L283.5 637.8L286.6 640.5L289.6 643.1L292.7 645.7L295.7 648.4L298.8 651L301.8 653.6L304.9 656.3L307.9 659.1L310.9 662L314 665.1L317 668.5L320.1 672L323.1 675.8L326.2 680L329.2 684.7L332.3 689.9L335.3 695.7L338.3 702L341.4 708.6L344.4 715.1L347.5 721.3L350.5 727.3L353.6 732.8L356.6 738L359.7 742.9L362.7 747.5L365.8 752L368.8 756.3L371.8 760.5L374.9 764.5L377.9 768.4L381 772.2L384 775.8L387.1 779.3L390.1 782.7L393.2 786L396.2 789.3L399.2 792.4L402.3 795.5L405.3 798.4L408.4 801.3L411.4 804L414.5 806.7L417.5 809.3L420.6 811.8L423.6 814.3L426.6 816.6L429.7 818.9L432.7 821L435.8 823.1L438.8 825L441.9 826.9L444.9 828.6L448 830.4L451 832L454.1 833.6L457.1 835.2L460.1 836.7L463.2 838.2L466.2 839.6L469.3 841L472.3 842.3L475.4 843.6L478.4 844.8L481.5 846L484.5 847.2L487.5 848.4L490.6 849.5L493.6 850.5L496.7 851.5L499.7 852.5L502.8 853.4L505.8 854.3L508.9 855.2L511.9 856.1L515 856.9L518 857.7L521 858.5L524.1 859.3L527.1 860L530.2 860.7L533.2 861.4L536.3 862L539.3 862.6L542.4 863.3L545.4 863.9L548.4 864.4L551.5 865L554.5 865.5L557.6 866L560.6 866.4L563.7 866.8L566.7 867.2L569.8 867.6L572.8 868L575.9 868.3L578.9 868.7L581.9 869L585 869.3L588 869.5L591.1 869.8L594.1 870L597.2 870.2L600.2 870.5L603.3 870.7L606.3 870.9L609.4 871.1L612.4 871.2L615.4 871.4L618.5 871.6L621.5 871.7L624.6 871.9L627.6 872L630.7 872.1L633.7 872.3L636.8 872.4L639.8 872.5L642.8 872.6L645.9 872.7L648.9 872.8L652 872.9L655 873L658.1 873.1L661.1 873.1L664.2 873.2L667.2 873.3L670.2 873.4L673.3 873.4L676.3 873.5L679.4 873.5L682.4 873.6L685.5 873.6L688.5 873.7L691.6 873.7L694.6 873.8L697.7 873.8L700.7 873.8L703.7 873.9L706.8 873.9L709.8 873.9L712.9 874L715.9 874L719 874.1L722 874.1L725.1 874.1L728.1 874.1L731.1 874.2L734.2 874.2L737.2 874.2L740.3 874.2L743.3 874.2L746.4 874.3L749.4 874.3L752.5 874.3L755.5 874.3L758.6 874.3L761.6 874.3" stroke="#444"/>
<path d="M137.4 835.2L140.4 832.7L143.5 829.3L146.5 825.1L149.6 821L152.6 816.8L155.6 812.7L158.7 808.5L161.7 804.4L164.8 800.1L167.8 795.8L170.9 791.4L173.9 786.8L177 782.1L180 777.2L183 772.1L186.1 766.8L189.1 761.4L192.2 755.8L195.2 750.3L198.3 744.6L201.3 738.9L204.4 733.2L207.4 727.5L210.5 721.8L213.5 716.3L216.5 711L219.6 706.2L222.6 701.7L225.7 697.7L228.7 694L231.8 690.7L234.8 687.6L237.9 684.9L240.9 682.3L243.9 680L247 677.9L250 676L253.1 674.3L256.1 672.7L259.2 671.3L262.2 669.9L265.3 668.7L268.3 667.5L271.4 666.5L274.4 665.6L277.4 664.9L280.5 664.3L283.5 663.8L286.6 663.4L289.6 663.1L292.7 662.9L295.7 662.6L298.8 662.5L301.8 662.5L304.9 662.6L307.9 662.9L310.9 663.4L314 664.2L317 665.4L320.1 666.8L323.1 668.8L326.2 671.5L329.2 674.9L332.3 679.1L335.3 684.1L338.3 689.8L341.4 695.7L344.4 701.7L347.5 707.5L350.5 713L353.6 718.2L356.6 722.9L359.7 727.3L362.7 731.5L365.8 735.5L368.8 739.4L371.8 743.2L374.9 746.9L377.9 750.6L381 754.2L384 757.8L387.1 761.3L390.1 764.7L393.2 768.1L396.2 771.4L399.2 774.7L402.3 777.9L405.3 781L408.4 784.1L411.4 787.1L414.5 790L417.5 792.8L420.6 795.6L423.6 798.4L426.6 801.1L429.7 803.7L432.7 806.2L435.8 808.6L438.8 810.9L441.9 813.1L444.9 815.2L448 817.2L451 819.2L454.1 821.1L457.1 823L460.1 824.9L463.2 826.7L466.2 828.4L469.3 830.1L472.3 831.7L475.4 833.3L478.4 834.9L481.5 836.4L484.5 837.9L487.5 839.3L490.6 840.7L493.6 842.1L496.7 843.4L499.7 844.6L502.8 845.8L505.8 847L508.9 848.2L511.9 849.3L515 850.4L518 851.5L521 852.5L524.1 853.5L527.1 854.4L530.2 855.4L533.2 856.3L536.3 857.1L539.3 858L542.4 858.8L545.4 859.6L548.4 860.4L551.5 861.1L554.5 861.8L557.6 862.4L560.6 863.1L563.7 863.7L566.7 864.2L569.8 864.8L572.8 865.3L575.9 865.8L578.9 866.3L581.9 866.7L585 867.1L588 867.5L591.1 867.8L594.1 868.1L597.2 868.5L600.2 868.8L603.3 869.1L606.3 869.3L609.4 869.6L612.4 869.9L615.4 870.1L618.5 870.4L621.5 870.6L624.6 870.8L627.6 871L630.7 871.2L633.7 871.3L636.8 871.5L639.8 871.6L642.8 871.8L645.9 871.9L648.9 872.1L652 872.2L655 872.4L658.1 872.5L661.1 872.6L664.2 872.7L667.2 872.8L670.2 872.9L673.3 873L676.3 873.1L679.4 873.1L682.4 873.2L685.5 873.3L688.5 873.3L691.6 873.4L694.6 873.5L697.7 873.5L700.7 873.6L703.7 873.6L706.8 873.7L709.8 873.7L712.9 873.8L715.9 873.8L719 873.9L722 873.9L725.1 874L728.1 874L731.1 874L734.2 874.1L737.2 874.1L740.3 874.1L743.3 874.1L746.4 874.2L749.4 874.2L752.5 874.2L755.5 874.2L758.6 874.2L761.6 874.2" stroke="#666"/>
<path d="M137.4 837.8L140.4 834.6L143.5 830.2L146.5 826.4L149.6 823.1L152.6 820.3L155.6 818L158.7 816L161.7 814.4L164.8 812.9L167.8 811.5L170.9 810L173.9 808.5L177 806.9L180 805.3L183 803.6L186.1 801.7L189.1 799.8L192.2 797.5L195.2 795L198.3 792L201.3 788.7L204.4 785.2L207.4 781.5L210.5 777.4L213.5 773.1L216.5 768.5L219.6 763.6L222.6 758.4L225.7 753.3L228.7 748.1L231.8 743.1L234.8 738.2L237.9 733.4L240.9 728.8L243.9 724.5L247 720.3L250 716.3L253.1 712.4L256.1 708.7L259.2 705.2L262.2 701.9L265.3 698.8L268.3 696L271.4 693.3L274.4 690.6L277.4 688.1L280.5 685.7L283.5 683.5L286.6 681.4L289.6 679.4L292.7 677.7L295.7 676.1L298.8 674.7L301.8 673.6L304.9 672.6L307.9 671.8L310.9 671.2L314 670.6L317 670.3L320.1 670.3L323.1 670.6L326.2 671.2L329.2 672.1L332.3 673.2L335.3 674.7L338.3 676.6L341.4 678.9L344.4 681.4L347.5 684.1L350.5 687L353.6 690.2L356.6 693.7L359.7 697.4L362.7 701L365.8 704.6L368.8 708.2L371.8 711.9L374.9 715.5L377.9 719.2L381 722.9L384 726.6L387.1 730.3L390.1 734L393.2 737.7L396.2 741.4L399.2 745.1L402.3 748.8L405.3 752.4L408.4 755.9L411.4 759.4L414.5 762.8L417.5 766.1L420.6 769.5L423.6 772.8L426.6 776.2L429.7 779.5L432.7 782.7L435.8 785.8L438.8 788.6L441.9 791.3L444.9 793.9L448 796.4L451 798.9L454.1 801.4L457.1 803.9L460.1 806.3L463.2 808.6L466.2 810.9L469.3 813.1L472.3 815.2L475.4 817.3L478.4 819.4L481.5 821.4L484.5 823.4L487.5 825.4L490.6 827.3L493.6 829.1L496.7 830.9L499.7 832.5L502.8 834.2L505.8 835.7L508.9 837.3L511.9 838.8L515 840.4L518 841.8L521 843.3L524.1 844.7L527.1 846L530.2 847.3L533.2 848.5L536.3 849.7L539.3 850.8L542.4 852L545.4 853.1L548.4 854.1L551.5 855.2L554.5 856.2L557.6 857.1L560.6 858L563.7 858.8L566.7 859.6L569.8 860.4L572.8 861.2L575.9 861.9L578.9 862.6L581.9 863.2L585 863.8L588 864.3L591.1 864.8L594.1 865.3L597.2 865.7L600.2 866.2L603.3 866.6L606.3 867L609.4 867.4L612.4 867.8L615.4 868.1L618.5 868.4L621.5 868.8L624.6 869.1L627.6 869.3L630.7 869.6L633.7 869.9L636.8 870.1L639.8 870.3L642.8 870.5L645.9 870.8L648.9 871L652 871.2L655 871.4L658.1 871.5L661.1 871.7L664.2 871.9L667.2 872L670.2 872.1L673.3 872.3L676.3 872.4L679.4 872.5L682.4 872.6L685.5 872.7L688.5 872.8L691.6 872.8L694.6 872.9L697.7 873L700.7 873.1L703.7 873.2L706.8 873.2L709.8 873.3L712.9 873.4L715.9 873.5L719 873.5L722 873.6L725.1 873.7L728.1 873.7L731.1 873.8L734.2 873.8L737.2 873.9L740.3 873.9L743.3 873.9L746.4 874L749.4 874L752.5 874L755.5 874L758.6 874L761.6 874" stroke="#777"/>
<path d="M137.4 838.8L140.4 835.6L143.5 831.2L146.5 827.5L149.6 824.4L152.6 821.7L155.6 819.5L158.7 817.8L161.7 816.3L164.8 815.1L167.8 813.9L170.9 812.6L173.9 811.3L177 810L180 808.6L183 807.2L186.1 805.6L189.1 803.9L192.2 802L195.2 799.7L198.3 797L201.3 793.9L204.4 790.6L207.4 787.1L210.5 783.2L213.5 779.1L216.5 774.6L219.6 769.8L222.6 764.7L225.7 759.6L228.7 754.4L231.8 749.4L234.8 744.5L237.9 739.6L240.9 735L243.9 730.6L247 726.4L250 722.3L253.1 718.4L256.1 714.6L259.2 711.1L262.2 707.7L265.3 704.6L268.3 701.7L271.4 698.9L274.4 696.2L277.4 693.6L280.5 691.2L283.5 688.8L286.6 686.7L289.6 684.7L292.7 682.8L295.7 681.2L298.8 679.8L301.8 678.6L304.9 677.6L307.9 676.7L310.9 676L314 675.4L317 674.9L320.1 674.8L323.1 675L326.2 675.5L329.2 676.2L332.3 677.1L335.3 678.3L338.3 679.9L341.4 681.9L344.4 684.1L347.5 686.5L350.5 689.1L353.6 692.2L356.6 695.6L359.7 699.1L362.7 702.6L365.8 706.1L368.8 709.6L371.8 713.2L374.9 716.8L377.9 720.4L381 724L384 727.6L387.1 731.3L390.1 734.9L393.2 738.6L396.2 742.2L399.2 745.8L402.3 749.5L405.3 753L408.4 756.5L411.4 759.9L414.5 763.3L417.5 766.6L420.6 769.9L423.6 773.3L426.6 776.6L429.7 779.9L432.7 783.1L435.8 786.1L438.8 788.9L441.9 791.6L444.9 794.2L448 796.7L451 799.2L454.1 801.7L457.1 804.1L460.1 806.5L463.2 808.8L466.2 811.1L469.3 813.3L472.3 815.4L475.4 817.5L478.4 819.5L481.5 821.5L484.5 823.5L487.5 825.5L490.6 827.4L493.6 829.2L496.7 831L499.7 832.6L502.8 834.2L505.8 835.8L508.9 837.4L511.9 838.9L515 840.4L518 841.9L521 843.3L524.1 844.7L527.1 846L530.2 847.3L533.2 848.5L536.3 849.7L539.3 850.9L542.4 852L545.4 853.1L548.4 854.2L551.5 855.2L554.5 856.2L557.6 857.1L560.6 858L563.7 858.9L566.7 859.7L569.8 860.5L572.8 861.2L575.9 861.9L578.9 862.6L581.9 863.2L585 863.8L588 864.3L591.1 864.8L594.1 865.3L597.2 865.7L600.2 866.2L603.3 866.6L606.3 867L609.4 867.4L612.4 867.8L615.4 868.1L618.5 868.5L621.5 868.8L624.6 869.1L627.6 869.4L630.7 869.6L633.7 869.9L636.8 870.1L639.8 870.3L642.8 870.6L645.9 870.8L648.9 871L652 871.2L655 871.4L658.1 871.6L661.1 871.7L664.2 871.9L667.2 872L670.2 872.2L673.3 872.3L676.3 872.4L679.4 872.5L682.4 872.6L685.5 872.7L688.5 872.8L691.6 872.9L694.6 872.9L697.7 873L700.7 873.1L703.7 873.2L706.8 873.3L709.8 873.3L712.9 873.4L715.9 873.5L719 873.5L722 873.6L725.1 873.7L728.1 873.7L731.1 873.8L734.2 873.8L737.2 873.9L740.3 873.9L743.3 873.9L746.4 874L749.4 874L752.5 874L755.5 874L758.6 874L761.6 874" stroke="#999"/>
<path d="M137.4 840.2L140.4 837L143.5 832.7L146.5 829.1L149.6 826.2L152.6 823.8L155.6 821.9L158.7 820.4L161.7 819.3L164.8 818.4L167.8 817.6L170.9 816.7L173.9 815.8L177 814.9L180 814L183 812.9L186.1 811.8L189.1 810.6L192.2 809.1L195.2 807.2L198.3 804.9L201.3 802.2L204.4 799.3L207.4 796L210.5 792.5L213.5 788.6L216.5 784.4L219.6 779.7L222.6 774.7L225.7 769.6L228.7 764.4L231.8 759.4L234.8 754.3L237.9 749.4L240.9 744.7L243.9 740.2L247 735.9L250 731.7L253.1 727.7L256.1 723.8L259.2 720.1L262.2 716.6L265.3 713.3L268.3 710.3L271.4 707.4L274.4 704.6L277.4 701.9L280.5 699.3L283.5 696.9L286.6 694.6L289.6 692.4L292.7 690.5L295.7 688.7L298.8 687.2L301.8 685.9L304.9 684.8L307.9 683.9L310.9 683L314 682.3L317 681.7L320.1 681.4L323.1 681.4L326.2 681.6L329.2 682L332.3 682.5L335.3 683.3L338.3 684.4L341.4 685.9L344.4 687.7L347.5 689.6L350.5 691.9L353.6 694.6L356.6 697.8L359.7 701.1L362.7 704.5L365.8 707.8L368.8 711.2L371.8 714.6L374.9 718.1L377.9 721.5L381 725.1L384 728.6L387.1 732.2L390.1 735.7L393.2 739.3L396.2 742.9L399.2 746.4L402.3 750L405.3 753.5L408.4 756.9L411.4 760.3L414.5 763.6L417.5 766.9L420.6 770.2L423.6 773.5L426.6 776.8L429.7 780L432.7 783.2L435.8 786.2L438.8 789L441.9 791.7L444.9 794.2L448 796.7L451 799.2L454.1 801.7L457.1 804.1L460.1 806.5L463.2 808.8L466.2 811.1L469.3 813.2L472.3 815.3L475.4 817.4L478.4 819.4L481.5 821.5L484.5 823.5L487.5 825.4L490.6 827.3L493.6 829.2L496.7 830.9L499.7 832.6L502.8 834.2L505.8 835.7L508.9 837.3L511.9 838.8L515 840.4L518 841.8L521 843.3L524.1 844.6L527.1 846L530.2 847.2L533.2 848.5L536.3 849.7L539.3 850.8L542.4 851.9L545.4 853L548.4 854.1L551.5 855.2L554.5 856.1L557.6 857.1L560.6 858L563.7 858.8L566.7 859.6L569.8 860.4L572.8 861.2L575.9 861.9L578.9 862.6L581.9 863.2L585 863.8L588 864.3L591.1 864.8L594.1 865.3L597.2 865.7L600.2 866.2L603.3 866.6L606.3 867L609.4 867.4L612.4 867.8L615.4 868.1L618.5 868.5L621.5 868.8L624.6 869.1L627.6 869.4L630.7 869.6L633.7 869.9L636.8 870.1L639.8 870.4L642.8 870.6L645.9 870.8L648.9 871L652 871.2L655 871.4L658.1 871.6L661.1 871.7L664.2 871.9L667.2 872L670.2 872.2L673.3 872.3L676.3 872.4L679.4 872.5L682.4 872.6L685.5 872.7L688.5 872.8L691.6 872.9L694.6 873L697.7 873L700.7 873.1L703.7 873.2L706.8 873.3L709.8 873.4L712.9 873.4L715.9 873.5L719 873.6L722 873.6L725.1 873.7L728.1 873.8L731.1 873.8L734.2 873.9L737.2 873.9L740.3 873.9L743.3 874L746.4 874L749.4 874L752.5 874L755.5 874.1L758.6 874.1L761.6 874.1" stroke="#000"/>
<path d="M137.4 841.1L140.4 838L143.5 833.7L146.5 830.2L149.6 827.4L152.6 825.1L155.6 823.2L158.7 821.8L161.7 820.7L164.8 819.8L167.8 819L170.9 818.2L173.9 817.3L177 816.4L180 815.5L183 814.5L186.1 813.4L189.1 812.2L192.2 810.7L195.2 808.8L198.3 806.6L201.3 804L204.4 801.1L207.4 798L210.5 794.5L213.5 790.8L216.5 786.6L219.6 782.1L222.6 777.2L225.7 772.2L228.7 767.2L231.8 762.2L234.8 757.3L237.9 752.5L240.9 748L243.9 743.6L247 739.3L250 735.2L253.1 731.3L256.1 727.5L259.2 723.9L262.2 720.5L265.3 717.3L268.3 714.4L271.4 711.5L274.4 708.8L277.4 706.2L280.5 703.6L283.5 701.3L286.6 699L289.6 696.9L292.7 695L295.7 693.3L298.8 691.8L301.8 690.6L304.9 689.5L307.9 688.6L310.9 687.8L314 687L317 686.5L320.1 686.2L323.1 686.2L326.2 686.4L329.2 686.7L332.3 687.3L335.3 688L338.3 689.1L341.4 690.6L344.4 692.3L347.5 694.2L350.5 696.4L353.6 699L356.6 702.1L359.7 705.4L362.7 708.7L365.8 711.9L368.8 715.2L371.8 718.5L374.9 721.9L377.9 725.3L381 728.7L384 732.2L387.1 735.7L390.1 739.1L393.2 742.6L396.2 746.1L399.2 749.6L402.3 753.1L405.3 756.5L408.4 759.9L411.4 763.1L414.5 766.4L417.5 769.6L420.6 772.8L423.6 776L426.6 779.2L429.7 782.4L432.7 785.5L435.8 788.4L438.8 791.2L441.9 793.7L444.9 796.2L448 798.7L451 801.1L454.1 803.5L457.1 805.9L460.1 808.2L463.2 810.4L466.2 812.6L469.3 814.8L472.3 816.8L475.4 818.8L478.4 820.8L481.5 822.8L484.5 824.7L487.5 826.7L490.6 828.5L493.6 830.3L496.7 832L499.7 833.6L502.8 835.2L505.8 836.7L508.9 838.2L511.9 839.7L515 841.2L518 842.7L521 844.1L524.1 845.4L527.1 846.7L530.2 847.9L533.2 849.1L536.3 850.3L539.3 851.4L542.4 852.5L545.4 853.6L548.4 854.6L551.5 855.7L554.5 856.6L557.6 857.5L560.6 858.4L563.7 859.2L566.7 860L569.8 860.8L572.8 861.5L575.9 862.2L578.9 862.9L581.9 863.5L585 864.1L588 864.6L591.1 865.1L594.1 865.5L597.2 866L600.2 866.4L603.3 866.8L606.3 867.2L609.4 867.6L612.4 868L615.4 868.3L618.5 868.6L621.5 869L624.6 869.2L627.6 869.5L630.7 869.8L633.7 870L636.8 870.3L639.8 870.5L642.8 870.7L645.9 870.9L648.9 871.1L652 871.3L655 871.5L658.1 871.7L661.1 871.8L664.2 872L667.2 872.1L670.2 872.3L673.3 872.4L676.3 872.5L679.4 872.6L682.4 872.7L685.5 872.8L688.5 872.9L691.6 872.9L694.6 873L697.7 873.1L700.7 873.2L703.7 873.3L706.8 873.3L709.8 873.4L712.9 873.5L715.9 873.6L719 873.6L722 873.7L725.1 873.7L728.1 873.8L731.1 873.8L734.2 873.9L737.2 873.9L740.3 874L743.3 874L746.4 874L749.4 874.1L752.5 874.1L755.5 874.1L758.6 874.1L761.6 874.1" stroke="#666"/>
<path d="M137.4 841.8L140.4 838.7L143.5 834.6L146.5 831.1L149.6 828.4L152.6 826.1L155.6 824.2L158.7 822.8L161.7 821.8L164.8 820.9L167.8 820.1L170.9 819.3L173.9 818.5L177 817.6L180 816.7L183 815.7L186.1 814.6L189.1 813.4L192.2 812L195.2 810.2L198.3 808L201.3 805.4L204.4 802.6L207.4 799.6L210.5 796.2L213.5 792.5L216.5 788.4L219.6 783.9L222.6 779.1L225.7 774.2L228.7 769.3L231.8 764.5L234.8 759.7L237.9 755L240.9 750.5L243.9 746.2L247 742L250 738L253.1 734.2L256.1 730.5L259.2 726.9L262.2 723.6L265.3 720.5L268.3 717.6L271.4 714.8L274.4 712.2L277.4 709.6L280.5 707.1L283.5 704.8L286.6 702.6L289.6 700.5L292.7 698.6L295.7 697L298.8 695.5L301.8 694.3L304.9 693.2L307.9 692.3L310.9 691.5L314 690.8L317 690.3L320.1 690L323.1 690L326.2 690.2L329.2 690.5L332.3 691L335.3 691.8L338.3 692.9L341.4 694.3L344.4 696L347.5 697.8L350.5 700L353.6 702.6L356.6 705.6L359.7 708.8L362.7 712L365.8 715.2L368.8 718.4L371.8 721.7L374.9 725L377.9 728.3L381 731.7L384 735.1L387.1 738.5L390.1 741.9L393.2 745.3L396.2 748.7L399.2 752.1L402.3 755.5L405.3 758.9L408.4 762.2L411.4 765.4L414.5 768.6L417.5 771.7L420.6 774.8L423.6 778L426.6 781.1L429.7 784.3L432.7 787.3L435.8 790.2L438.8 792.9L441.9 795.4L444.9 797.8L448 800.2L451 802.6L454.1 804.9L457.1 807.3L460.1 809.5L463.2 811.8L466.2 813.9L469.3 816L472.3 818L475.4 820L478.4 821.9L481.5 823.9L484.5 825.8L487.5 827.6L490.6 829.5L493.6 831.2L496.7 832.9L499.7 834.5L502.8 836L505.8 837.5L508.9 839L511.9 840.5L515 841.9L518 843.3L521 844.7L524.1 846L527.1 847.3L530.2 848.5L533.2 849.7L536.3 850.8L539.3 851.9L542.4 853L545.4 854L548.4 855.1L551.5 856.1L554.5 857L557.6 857.9L560.6 858.7L563.7 859.6L566.7 860.3L569.8 861.1L572.8 861.8L575.9 862.5L578.9 863.2L581.9 863.8L585 864.3L588 864.8L591.1 865.3L594.1 865.7L597.2 866.2L600.2 866.6L603.3 867L606.3 867.4L609.4 867.8L612.4 868.1L615.4 868.5L618.5 868.8L621.5 869.1L624.6 869.4L627.6 869.6L630.7 869.9L633.7 870.1L636.8 870.4L639.8 870.6L642.8 870.8L645.9 871L648.9 871.2L652 871.4L655 871.6L658.1 871.7L661.1 871.9L664.2 872.1L667.2 872.2L670.2 872.3L673.3 872.5L676.3 872.6L679.4 872.7L682.4 872.7L685.5 872.8L688.5 872.9L691.6 873L694.6 873.1L697.7 873.2L700.7 873.2L703.7 873.3L706.8 873.4L709.8 873.5L712.9 873.5L715.9 873.6L719 873.7L722 873.7L725.1 873.8L728.1 873.8L731.1 873.9L734.2 873.9L737.2 874L740.3 874L743.3 874L746.4 874.1L749.4 874.1L752.5 874.1L755.5 874.1L758.6 874.1L761.6 874.1" stroke="#999"/>
<path d="M137.4 1273.7L140.4 1262.8L143.5 1246L146.5 1228.2L149.6 1209.2L152.6 1189.4L155.6 1169.8L158.7 1151.2L161.7 1133.8L164.8 1117.5L167.8 1102.3L170.9 1087.9L173.9 1073.8L177 1060L180 1046.4L183 1032.8L186.1 1018.8L189.1 1003.9L192.2 988.2L195.2 972.4L198.3 957.6L201.3 944.8L204.4 934.4L207.4 926.8L210.5 921.5L213.5 918L216.5 915.8L219.6 914.7L222.6 914.4L225.7 914.4L228.7 914.7L231.8 915.5L234.8 916.9L237.9 919.1L240.9 921.8L243.9 925L247 928.9L250 933.8L253.1 939.3L256.1 945.5L259.2 952.2L262.2 959.2L265.3 966.8L268.3 974.9L271.4 983.7L274.4 993L277.4 1002.2L280.5 1011.1L283.5 1019.7L286.6 1028.2L289.6 1036.7L292.7 1045.1L295.7 1053.4L298.8 1061.5L301.8 1069.4L304.9 1077.2L307.9 1085L310.9 1092.7L314 1100.4L317 1108.1L320.1 1115.6L323.1 1123.1L326.2 1130.4L329.2 1137.7L332.3 1145L335.3 1152.5L338.3 1160.1L341.4 1167.9L344.4 1175.5L347.5 1182.7L350.5 1189.6L353.6 1196L356.6 1202.2L359.7 1208L362.7 1213.7L365.8 1219.1L368.8 1224.3L371.8 1229.3L374.9 1234L377.9 1238.3L381 1242.4L384 1246.3L387.1 1249.9L390.1 1253.3L393.2 1256.5L396.2 1259.6L399.2 1262.5L402.3 1265.3L405.3 1267.9L408.4 1270.4L411.4 1272.8L414.5 1275.1L417.5 1277.2L420.6 1279.2L423.6 1281L426.6 1282.8L429.7 1284.4L432.7 1285.8L435.8 1287.2L438.8 1288.5L441.9 1289.7L444.9 1290.9L448 1292L451 1293.1L454.1 1294.1L457.1 1295.1L460.1 1296L463.2 1296.8L466.2 1297.6L469.3 1298.4L472.3 1299.1L475.4 1299.8L478.4 1300.4L481.5 1301L484.5 1301.6L487.5 1302.2L490.6 1302.7L493.6 1303.2L496.7 1303.6L499.7 1304.1L502.8 1304.5L505.8 1304.9L508.9 1305.2L511.9 1305.6L515 1305.9L518 1306.2L521 1306.5L524.1 1306.8L527.1 1307L530.2 1307.3L533.2 1307.6L536.3 1307.8L539.3 1308.1L542.4 1308.3L545.4 1308.5L548.4 1308.7L551.5 1308.9L554.5 1309L557.6 1309.2L560.6 1309.3L563.7 1309.3L566.7 1309.4L569.8 1309.5L572.8 1309.6L575.9 1309.6L578.9 1309.7L581.9 1309.8L585 1309.8L588 1309.9L591.1 1310L594.1 1310L597.2 1310.1L600.2 1310.1L603.3 1310.1L606.3 1310.2L609.4 1310.2L612.4 1310.3L615.4 1310.3L618.5 1310.3L621.5 1310.4L624.6 1310.4L627.6 1310.4L630.7 1310.4L633.7 1310.4L636.8 1310.5L639.8 1310.5L642.8 1310.5L645.9 1310.5L648.9 1310.5L652 1310.5L655 1310.6L658.1 1310.6L661.1 1310.6L664.2 1310.6L667.2 1310.6L670.2 1310.6L673.3 1310.6L676.3 1310.6L679.4 1310.7L682.4 1310.7L685.5 1310.7L688.5 1310.7L691.6 1310.7L694.6 1310.7L697.7 1310.7L700.7 1310.7L703.7 1310.7L706.8 1310.8L709.8 1310.8L712.9 1310.8L715.9 1310.8L719 1310.8L722 1310.8L725.1 1310.8L728.1 1310.8L731.1 1310.8L734.2 1310.8L737.2 1310.8L740.3 1310.8L743.3 1310.8L746.4 1310.8L749.4 1310.8L752.5 1310.8L755.5 1310.8L758.6 1310.8L761.6 1310.8" stroke="#000"/>
<path d="M137.4 1273.7L140.4 1262.9L143.5 1246.2L146.5 1228.4L149.6 1209.4L152.6 1189.7L155.6 1170.2L158.7 1151.7L161.7 1134.4L164.8 1118.2L167.8 1103.1L170.9 1088.7L173.9 1074.7L177 1061L180 1047.4L183 1033.9L186.1 1019.9L189.1 1005.1L192.2 989.5L195.2 973.8L198.3 959.1L201.3 946.2L204.4 935.9L207.4 928.3L210.5 923L213.5 919.5L216.5 917.3L219.6 916.2L222.6 915.9L225.7 915.9L228.7 916.1L231.8 916.9L234.8 918.3L237.9 920.5L240.9 923.1L243.9 926.3L247 930.2L250 935L253.1 940.5L256.1 946.6L259.2 953.2L262.2 960.2L265.3 967.7L268.3 975.7L271.4 984.5L274.4 993.7L277.4 1002.9L280.5 1011.7L283.5 1020.3L286.6 1028.8L289.6 1037.2L292.7 1045.5L295.7 1053.7L298.8 1061.8L301.8 1069.7L304.9 1077.5L307.9 1085.2L310.9 1092.9L314 1100.5L317 1108.1L320.1 1115.6L323.1 1123.1L326.2 1130.4L329.2 1137.6L332.3 1144.9L335.3 1152.4L338.3 1160L341.4 1167.7L344.4 1175.2L347.5 1182.5L350.5 1189.3L353.6 1195.7L356.6 1201.8L359.7 1207.7L362.7 1213.3L365.8 1218.7L368.8 1223.9L371.8 1228.9L374.9 1233.6L377.9 1238L381 1242L384 1245.9L387.1 1249.5L390.1 1252.9L393.2 1256.1L396.2 1259.2L399.2 1262.1L402.3 1264.9L405.3 1267.5L408.4 1270L411.4 1272.4L414.5 1274.7L417.5 1276.9L420.6 1278.8L423.6 1280.7L426.6 1282.4L429.7 1284L432.7 1285.5L435.8 1286.9L438.8 1288.2L441.9 1289.4L444.9 1290.6L448 1291.7L451 1292.8L454.1 1293.8L457.1 1294.8L460.1 1295.7L463.2 1296.6L466.2 1297.4L469.3 1298.1L472.3 1298.9L475.4 1299.5L478.4 1300.2L481.5 1300.8L484.5 1301.4L487.5 1302L490.6 1302.5L493.6 1303L496.7 1303.5L499.7 1303.9L502.8 1304.3L505.8 1304.7L508.9 1305.1L511.9 1305.4L515 1305.8L518 1306.1L521 1306.4L524.1 1306.7L527.1 1306.9L530.2 1307.2L533.2 1307.5L536.3 1307.7L539.3 1308L542.4 1308.2L545.4 1308.4L548.4 1308.6L551.5 1308.8L554.5 1308.9L557.6 1309.1L560.6 1309.2L563.7 1309.3L566.7 1309.4L569.8 1309.4L572.8 1309.5L575.9 1309.6L578.9 1309.7L581.9 1309.7L585 1309.8L588 1309.9L591.1 1309.9L594.1 1310L597.2 1310L600.2 1310.1L603.3 1310.1L606.3 1310.2L609.4 1310.2L612.4 1310.2L615.4 1310.3L618.5 1310.3L621.5 1310.3L624.6 1310.4L627.6 1310.4L630.7 1310.4L633.7 1310.4L636.8 1310.4L639.8 1310.5L642.8 1310.5L645.9 1310.5L648.9 1310.5L652 1310.5L655 1310.5L658.1 1310.6L661.1 1310.6L664.2 1310.6L667.2 1310.6L670.2 1310.6L673.3 1310.6L676.3 1310.6L679.4 1310.7L682.4 1310.7L685.5 1310.7L688.5 1310.7L691.6 1310.7L694.6 1310.7L697.7 1310.7L700.7 1310.7L703.7 1310.7L706.8 1310.7L709.8 1310.8L712.9 1310.8L715.9 1310.8L719 1310.8L722 1310.8L725.1 1310.8L728.1 1310.8L731.1 1310.8L734.2 1310.8L737.2 1310.8L740.3 1310.8L743.3 1310.8L746.4 1310.8L749.4 1310.8L752.5 1310.8L755.5 1310.8L758.6 1310.8L761.6 1310.8" stroke="#555"/>
<path d="M137.4 1273.7L140.4 1262.9L143.5 1246.3L146.5 1228.6L149.6 1209.7L152.6 1190.1L155.6 1170.7L158.7 1152.2L161.7 1135L164.8 1118.9L167.8 1103.8L170.9 1089.5L173.9 1075.6L177 1061.9L180 1048.5L183 1035L186.1 1021.1L189.1 1006.3L192.2 990.8L195.2 975.1L198.3 960.5L201.3 947.7L204.4 937.4L207.4 929.8L210.5 924.6L213.5 921.1L216.5 918.9L219.6 917.8L222.6 917.4L225.7 917.3L228.7 917.6L231.8 918.3L234.8 919.7L237.9 921.8L240.9 924.4L243.9 927.5L247 931.4L250 936.1L253.1 941.6L256.1 947.7L259.2 954.2L262.2 961.2L265.3 968.6L268.3 976.6L271.4 985.4L274.4 994.5L277.4 1003.6L280.5 1012.3L283.5 1020.9L286.6 1029.3L289.6 1037.7L292.7 1046L295.7 1054.1L298.8 1062.1L301.8 1070L304.9 1077.7L307.9 1085.4L310.9 1093L314 1100.7L317 1108.2L320.1 1115.7L323.1 1123L326.2 1130.3L329.2 1137.5L332.3 1144.8L335.3 1152.2L338.3 1159.8L341.4 1167.5L344.4 1175L347.5 1182.2L350.5 1189L353.6 1195.4L356.6 1201.5L359.7 1207.4L362.7 1213L365.8 1218.4L368.8 1223.6L371.8 1228.5L374.9 1233.2L377.9 1237.6L381 1241.7L384 1245.5L387.1 1249.1L390.1 1252.5L393.2 1255.7L396.2 1258.8L399.2 1261.8L402.3 1264.5L405.3 1267.2L408.4 1269.7L411.4 1272.1L414.5 1274.4L417.5 1276.5L420.6 1278.5L423.6 1280.3L426.6 1282.1L429.7 1283.7L432.7 1285.2L435.8 1286.6L438.8 1287.9L441.9 1289.1L444.9 1290.3L448 1291.4L451 1292.5L454.1 1293.6L457.1 1294.5L460.1 1295.4L463.2 1296.3L466.2 1297.1L469.3 1297.9L472.3 1298.6L475.4 1299.3L478.4 1300L481.5 1300.6L484.5 1301.2L487.5 1301.8L490.6 1302.3L493.6 1302.8L496.7 1303.3L499.7 1303.7L502.8 1304.1L505.8 1304.5L508.9 1304.9L511.9 1305.3L515 1305.6L518 1305.9L521 1306.2L524.1 1306.5L527.1 1306.8L530.2 1307.1L533.2 1307.3L536.3 1307.6L539.3 1307.9L542.4 1308.1L545.4 1308.3L548.4 1308.5L551.5 1308.7L554.5 1308.9L557.6 1309L560.6 1309.1L563.7 1309.2L566.7 1309.3L569.8 1309.4L572.8 1309.5L575.9 1309.5L578.9 1309.6L581.9 1309.7L585 1309.7L588 1309.8L591.1 1309.9L594.1 1309.9L597.2 1310L600.2 1310L603.3 1310.1L606.3 1310.1L609.4 1310.2L612.4 1310.2L615.4 1310.2L618.5 1310.3L621.5 1310.3L624.6 1310.3L627.6 1310.4L630.7 1310.4L633.7 1310.4L636.8 1310.4L639.8 1310.4L642.8 1310.5L645.9 1310.5L648.9 1310.5L652 1310.5L655 1310.5L658.1 1310.5L661.1 1310.6L664.2 1310.6L667.2 1310.6L670.2 1310.6L673.3 1310.6L676.3 1310.6L679.4 1310.6L682.4 1310.7L685.5 1310.7L688.5 1310.7L691.6 1310.7L694.6 1310.7L697.7 1310.7L700.7 1310.7L703.7 1310.7L706.8 1310.7L709.8 1310.8L712.9 1310.8L715.9 1310.8L719 1310.8L722 1310.8L725.1 1310.8L728.1 1310.8L731.1 1310.8L734.2 1310.8L737.2 1310.8L740.3 1310.8L743.3 1310.8L746.4 1310.8L749.4 1310.8L752.5 1310.8L755.5 1310.8L758.6 1310.8L761.6 1310.8" stroke="#888"/>
<path d="M137.4 1273.8L140.4 1263.2L143.5 1246.9L146.5 1229.5L149.6 1211.1L152.6 1191.9L155.6 1172.9L158.7 1154.9L161.7 1138.1L164.8 1122.4L167.8 1107.7L170.9 1093.7L173.9 1080.1L177 1066.8L180 1053.6L183 1040.4L186.1 1026.9L189.1 1012.4L192.2 997.3L195.2 982L198.3 967.6L201.3 955.1L204.4 945L207.4 937.5L210.5 932.3L213.5 928.8L216.5 926.5L219.6 925.3L222.6 924.8L225.7 924.7L228.7 924.8L231.8 925.4L234.8 926.6L237.9 928.5L240.9 930.9L243.9 933.9L247 937.5L250 942.1L253.1 947.3L256.1 953.2L259.2 959.4L262.2 966.1L265.3 973.3L268.3 981L271.4 989.4L274.4 998.3L277.4 1007.1L280.5 1015.5L283.5 1023.8L286.6 1032L289.6 1040.1L292.7 1048.1L295.7 1056L298.8 1063.8L301.8 1071.4L304.9 1078.9L307.9 1086.4L310.9 1093.8L314 1101.2L317 1108.6L320.1 1115.8L323.1 1123L326.2 1130.1L329.2 1137.2L332.3 1144.3L335.3 1151.5L338.3 1158.9L341.4 1166.4L344.4 1173.8L347.5 1180.9L350.5 1187.5L353.6 1193.9L356.6 1199.9L359.7 1205.7L362.7 1211.2L365.8 1216.6L368.8 1221.7L371.8 1226.6L374.9 1231.3L377.9 1235.6L381 1239.7L384 1243.5L387.1 1247.1L390.1 1250.6L393.2 1253.8L396.2 1256.9L399.2 1259.8L402.3 1262.6L405.3 1265.3L408.4 1267.8L411.4 1270.2L414.5 1272.5L417.5 1274.7L420.6 1276.7L423.6 1278.6L426.6 1280.4L429.7 1282L432.7 1283.6L435.8 1285L438.8 1286.3L441.9 1287.6L444.9 1288.8L448 1290L451 1291.1L454.1 1292.2L457.1 1293.2L460.1 1294.2L463.2 1295.1L466.2 1295.9L469.3 1296.7L472.3 1297.5L475.4 1298.2L478.4 1298.9L481.5 1299.6L484.5 1300.2L487.5 1300.8L490.6 1301.4L493.6 1301.9L496.7 1302.4L499.7 1302.9L502.8 1303.3L505.8 1303.7L508.9 1304.1L511.9 1304.5L515 1304.9L518 1305.3L521 1305.6L524.1 1305.9L527.1 1306.2L530.2 1306.5L533.2 1306.8L536.3 1307.1L539.3 1307.4L542.4 1307.6L545.4 1307.9L548.4 1308.1L551.5 1308.3L554.5 1308.5L557.6 1308.6L560.6 1308.7L563.7 1308.9L566.7 1309L569.8 1309.1L572.8 1309.2L575.9 1309.3L578.9 1309.3L581.9 1309.4L585 1309.5L588 1309.6L591.1 1309.7L594.1 1309.7L597.2 1309.8L600.2 1309.8L603.3 1309.9L606.3 1310L609.4 1310L612.4 1310.1L615.4 1310.1L618.5 1310.1L621.5 1310.2L624.6 1310.2L627.6 1310.2L630.7 1310.3L633.7 1310.3L636.8 1310.3L639.8 1310.3L642.8 1310.4L645.9 1310.4L648.9 1310.4L652 1310.4L655 1310.5L658.1 1310.5L661.1 1310.5L664.2 1310.5L667.2 1310.5L670.2 1310.6L673.3 1310.6L676.3 1310.6L679.4 1310.6L682.4 1310.6L685.5 1310.6L688.5 1310.6L691.6 1310.7L694.6 1310.7L697.7 1310.7L700.7 1310.7L703.7 1310.7L706.8 1310.7L709.8 1310.7L712.9 1310.7L715.9 1310.7L719 1310.8L722 1310.8L725.1 1310.8L728.1 1310.8L731.1 1310.8L734.2 1310.8L737.2 1310.8L740.3 1310.8L743.3 1310.8L746.4 1310.8L749.4 1310.8L752.5 1310.8L755.5 1310.8L758.6 1310.8L761.6 1310.8" stroke="#444"/>
<path d="M137.4 1273.9L140.4 1263.6L143.5 1247.6L146.5 1230.7L149.6 1212.7L152.6 1194L155.6 1175.6L158.7 1158.1L161.7 1141.8L164.8 1126.5L167.8 1112.2L170.9 1098.7L173.9 1085.5L177 1072.5L180 1059.7L183 1047L186.1 1033.8L189.1 1019.8L192.2 1005L195.2 990.1L198.3 976.2L201.3 963.9L204.4 954.1L207.4 946.7L210.5 941.6L213.5 938L216.5 935.7L219.6 934.4L222.6 933.8L225.7 933.5L228.7 933.4L231.8 933.8L234.8 934.9L237.9 936.6L240.9 938.8L243.9 941.5L247 944.9L250 949.2L253.1 954.1L256.1 959.7L259.2 965.7L262.2 972L265.3 978.9L268.3 986.3L271.4 994.3L274.4 1002.8L277.4 1011.3L280.5 1019.4L283.5 1027.3L286.6 1035.1L289.6 1042.9L292.7 1050.7L295.7 1058.3L298.8 1065.8L301.8 1073.1L304.9 1080.3L307.9 1087.5L310.9 1094.7L314 1101.9L317 1109L320.1 1116L323.1 1123L326.2 1129.8L329.2 1136.7L332.3 1143.6L335.3 1150.6L338.3 1157.8L341.4 1165.2L344.4 1172.4L347.5 1179.3L350.5 1185.8L353.6 1192L356.6 1198L359.7 1203.7L362.7 1209.2L365.8 1214.4L368.8 1219.5L371.8 1224.4L374.9 1229L377.9 1233.3L381 1237.4L384 1241.2L387.1 1244.8L390.1 1248.2L393.2 1251.5L396.2 1254.6L399.2 1257.5L402.3 1260.3L405.3 1263L408.4 1265.6L411.4 1268L414.5 1270.3L417.5 1272.6L420.6 1274.6L423.6 1276.5L426.6 1278.4L429.7 1280.1L432.7 1281.7L435.8 1283.1L438.8 1284.5L441.9 1285.8L444.9 1287.1L448 1288.3L451 1289.4L454.1 1290.6L457.1 1291.6L460.1 1292.6L463.2 1293.5L466.2 1294.4L469.3 1295.3L472.3 1296.1L475.4 1296.9L478.4 1297.6L481.5 1298.3L484.5 1299L487.5 1299.6L490.6 1300.2L493.6 1300.8L496.7 1301.3L499.7 1301.8L502.8 1302.3L505.8 1302.8L508.9 1303.2L511.9 1303.6L515 1304L518 1304.4L521 1304.8L524.1 1305.1L527.1 1305.5L530.2 1305.8L533.2 1306.1L536.3 1306.4L539.3 1306.7L542.4 1307L545.4 1307.3L548.4 1307.6L551.5 1307.8L554.5 1308L557.6 1308.2L560.6 1308.3L563.7 1308.4L566.7 1308.6L569.8 1308.7L572.8 1308.8L575.9 1308.9L578.9 1309L581.9 1309.1L585 1309.2L588 1309.3L591.1 1309.4L594.1 1309.5L597.2 1309.6L600.2 1309.6L603.3 1309.7L606.3 1309.8L609.4 1309.8L612.4 1309.9L615.4 1309.9L618.5 1310L621.5 1310L624.6 1310.1L627.6 1310.1L630.7 1310.1L633.7 1310.2L636.8 1310.2L639.8 1310.2L642.8 1310.3L645.9 1310.3L648.9 1310.3L652 1310.4L655 1310.4L658.1 1310.4L661.1 1310.4L664.2 1310.5L667.2 1310.5L670.2 1310.5L673.3 1310.5L676.3 1310.5L679.4 1310.6L682.4 1310.6L685.5 1310.6L688.5 1310.6L691.6 1310.6L694.6 1310.6L697.7 1310.6L700.7 1310.7L703.7 1310.7L706.8 1310.7L709.8 1310.7L712.9 1310.7L715.9 1310.7L719 1310.7L722 1310.7L725.1 1310.8L728.1 1310.8L731.1 1310.8L734.2 1310.8L737.2 1310.8L740.3 1310.8L743.3 1310.8L746.4 1310.8L749.4 1310.8L752.5 1310.8L755.5 1310.8L758.6 1310.8L761.6 1310.8" stroke="#777"/>
<path d="M137.4 1274.1L140.4 1264.2L143.5 1248.9L146.5 1232.8L149.6 1215.7L152.6 1198L155.6 1180.5L158.7 1164L161.7 1148.5L164.8 1134.1L167.8 1120.6L170.9 1107.8L173.9 1095.4L177 1083.1L180 1071L183 1059L186.1 1046.5L189.1 1033.2L192.2 1019.2L195.2 1005.1L198.3 991.8L201.3 980.2L204.4 970.7L207.4 963.6L210.5 958.6L213.5 955L216.5 952.6L219.6 951.1L222.6 950.2L225.7 949.6L228.7 949.3L231.8 949.4L234.8 950.1L237.9 951.4L240.9 953.2L243.9 955.5L247 958.5L250 962.2L253.1 966.7L256.1 971.7L259.2 977.1L262.2 982.9L265.3 989.1L268.3 995.9L271.4 1003.3L274.4 1011.2L277.4 1019L280.5 1026.4L283.5 1033.8L286.6 1041L289.6 1048.2L292.7 1055.4L295.7 1062.4L298.8 1069.4L301.8 1076.2L304.9 1083L307.9 1089.7L310.9 1096.4L314 1103.1L317 1109.7L320.1 1116.3L323.1 1122.9L326.2 1129.4L329.2 1135.8L332.3 1142.4L335.3 1149L338.3 1155.9L341.4 1162.9L344.4 1169.8L347.5 1176.4L350.5 1182.6L353.6 1188.6L356.6 1194.4L359.7 1200L362.7 1205.3L365.8 1210.5L368.8 1215.5L371.8 1220.3L374.9 1224.8L377.9 1229.1L381 1233.1L384 1236.9L387.1 1240.5L390.1 1243.9L393.2 1247.2L396.2 1250.3L399.2 1253.3L402.3 1256.1L405.3 1258.8L408.4 1261.5L411.4 1264L414.5 1266.3L417.5 1268.6L420.6 1270.7L423.6 1272.7L426.6 1274.6L429.7 1276.4L432.7 1278.1L435.8 1279.7L438.8 1281.1L441.9 1282.5L444.9 1283.9L448 1285.1L451 1286.4L454.1 1287.6L457.1 1288.7L460.1 1289.8L463.2 1290.8L466.2 1291.7L469.3 1292.7L472.3 1293.5L475.4 1294.4L478.4 1295.2L481.5 1296L484.5 1296.7L487.5 1297.5L490.6 1298.1L493.6 1298.8L496.7 1299.4L499.7 1299.9L502.8 1300.5L505.8 1301L508.9 1301.5L511.9 1302L515 1302.5L518 1302.9L521 1303.4L524.1 1303.8L527.1 1304.2L530.2 1304.5L533.2 1304.9L536.3 1305.3L539.3 1305.6L542.4 1306L545.4 1306.3L548.4 1306.6L551.5 1306.8L554.5 1307.1L557.6 1307.3L560.6 1307.5L563.7 1307.7L566.7 1307.9L569.8 1308L572.8 1308.2L575.9 1308.3L578.9 1308.5L581.9 1308.6L585 1308.7L588 1308.8L591.1 1308.9L594.1 1309L597.2 1309.1L600.2 1309.2L603.3 1309.3L606.3 1309.4L609.4 1309.5L612.4 1309.6L615.4 1309.6L618.5 1309.7L621.5 1309.8L624.6 1309.8L627.6 1309.9L630.7 1309.9L633.7 1310L636.8 1310L639.8 1310L642.8 1310.1L645.9 1310.1L648.9 1310.2L652 1310.2L655 1310.2L658.1 1310.3L661.1 1310.3L664.2 1310.3L667.2 1310.4L670.2 1310.4L673.3 1310.4L676.3 1310.4L679.4 1310.5L682.4 1310.5L685.5 1310.5L688.5 1310.5L691.6 1310.5L694.6 1310.6L697.7 1310.6L700.7 1310.6L703.7 1310.6L706.8 1310.6L709.8 1310.6L712.9 1310.7L715.9 1310.7L719 1310.7L722 1310.7L725.1 1310.7L728.1 1310.7L731.1 1310.7L734.2 1310.7L737.2 1310.8L740.3 1310.8L743.3 1310.8L746.4 1310.8L749.4 1310.8L752.5 1310.8L755.5 1310.8L758.6 1310.8L761.6 1310.8" stroke="#999"/>
<path d="M137.4 1274.4L140.4 1264.9L143.5 1250.3L146.5 1235.1L149.6 1219L152.6 1202.3L155.6 1185.9L158.7 1170.4L161.7 1155.9L164.8 1142.5L167.8 1129.8L170.9 1117.8L173.9 1106.1L177 1094.7L180 1083.3L183 1072L186.1 1060.3L189.1 1047.9L192.2 1034.8L195.2 1021.5L198.3 1008.9L201.3 997.9L204.4 988.9L207.4 982.1L210.5 977.1L213.5 973.6L216.5 971L219.6 969.3L222.6 968.1L225.7 967.3L228.7 966.6L231.8 966.3L234.8 966.7L237.9 967.6L240.9 968.9L243.9 970.8L247 973.2L250 976.5L253.1 980.3L256.1 984.7L259.2 989.5L262.2 994.7L265.3 1000.3L268.3 1006.4L271.4 1013.1L274.4 1020.2L277.4 1027.3L280.5 1034.1L283.5 1040.8L286.6 1047.4L289.6 1054L292.7 1060.5L295.7 1067L298.8 1073.3L301.8 1079.6L304.9 1085.8L307.9 1092L310.9 1098.2L314 1104.4L317 1110.6L320.1 1116.7L323.1 1122.8L326.2 1128.9L329.2 1134.9L332.3 1141L335.3 1147.3L338.3 1153.8L341.4 1160.4L344.4 1166.9L347.5 1173.2L350.5 1179.2L353.6 1185L356.6 1190.6L359.7 1196L362.7 1201.2L365.8 1206.2L368.8 1211.1L371.8 1215.8L374.9 1220.2L377.9 1224.4L381 1228.4L384 1232.2L387.1 1235.8L390.1 1239.2L393.2 1242.5L396.2 1245.6L399.2 1248.6L402.3 1251.5L405.3 1254.3L408.4 1257L411.4 1259.5L414.5 1262L417.5 1264.3L420.6 1266.5L423.6 1268.6L426.6 1270.6L429.7 1272.5L432.7 1274.2L435.8 1275.9L438.8 1277.5L441.9 1278.9L444.9 1280.3L448 1281.7L451 1283L454.1 1284.3L457.1 1285.5L460.1 1286.7L463.2 1287.8L466.2 1288.8L469.3 1289.8L472.3 1290.8L475.4 1291.7L478.4 1292.6L481.5 1293.5L484.5 1294.3L487.5 1295.1L490.6 1295.9L493.6 1296.6L496.7 1297.2L499.7 1297.9L502.8 1298.5L505.8 1299.1L508.9 1299.7L511.9 1300.2L515 1300.8L518 1301.3L521 1301.8L524.1 1302.3L527.1 1302.7L530.2 1303.2L533.2 1303.6L536.3 1304L539.3 1304.4L542.4 1304.8L545.4 1305.2L548.4 1305.5L551.5 1305.8L554.5 1306.1L557.6 1306.4L560.6 1306.6L563.7 1306.9L566.7 1307.1L569.8 1307.3L572.8 1307.5L575.9 1307.7L578.9 1307.8L581.9 1308L585 1308.1L588 1308.3L591.1 1308.4L594.1 1308.5L597.2 1308.7L600.2 1308.8L603.3 1308.9L606.3 1309L609.4 1309.1L612.4 1309.2L615.4 1309.3L618.5 1309.4L621.5 1309.4L624.6 1309.5L627.6 1309.6L630.7 1309.7L633.7 1309.7L636.8 1309.8L639.8 1309.8L642.8 1309.9L645.9 1309.9L648.9 1310L652 1310L655 1310.1L658.1 1310.1L661.1 1310.2L664.2 1310.2L667.2 1310.2L670.2 1310.3L673.3 1310.3L676.3 1310.3L679.4 1310.4L682.4 1310.4L685.5 1310.4L688.5 1310.4L691.6 1310.5L694.6 1310.5L697.7 1310.5L700.7 1310.5L703.7 1310.5L706.8 1310.6L709.8 1310.6L712.9 1310.6L715.9 1310.6L719 1310.6L722 1310.7L725.1 1310.7L728.1 1310.7L731.1 1310.7L734.2 1310.7L737.2 1310.7L740.3 1310.7L743.3 1310.7L746.4 1310.8L749.4 1310.8L752.5 1310.8L755.5 1310.8L758.6 1310.8L761.6 1310.8" stroke="#000"/>
<path d="M137.4 1274.6L140.4 1265.5L143.5 1251.8L146.5 1237.4L149.6 1222.2L152.6 1206.6L155.6 1191.3L158.7 1176.8L161.7 1163.3L164.8 1150.8L167.8 1139L170.9 1127.8L173.9 1116.9L177 1106.2L180 1095.6L183 1085.1L186.1 1074.2L189.1 1062.5L192.2 1050.3L195.2 1037.8L198.3 1026L201.3 1015.6L204.4 1007.1L207.4 1000.5L210.5 995.6L213.5 992.1L216.5 989.4L219.6 987.5L222.6 986.1L225.7 984.9L228.7 983.9L231.8 983.3L234.8 983.2L237.9 983.7L240.9 984.6L243.9 986L247 988L250 990.7L253.1 994L256.1 997.8L259.2 1001.9L262.2 1006.5L265.3 1011.5L268.3 1016.9L271.4 1022.9L274.4 1029.3L277.4 1035.7L280.5 1041.8L283.5 1047.8L286.6 1053.8L289.6 1059.7L292.7 1065.6L295.7 1071.5L298.8 1077.3L301.8 1083L304.9 1088.7L307.9 1094.4L310.9 1100.1L314 1105.7L317 1111.4L320.1 1117.1L323.1 1122.7L326.2 1128.4L329.2 1134L332.3 1139.7L335.3 1145.6L338.3 1151.6L341.4 1157.8L344.4 1164L347.5 1170L350.5 1175.7L353.6 1181.3L356.6 1186.7L359.7 1191.9L362.7 1197L365.8 1201.9L368.8 1206.7L371.8 1211.3L374.9 1215.6L377.9 1219.8L381 1223.7L384 1227.5L387.1 1231L390.1 1234.5L393.2 1237.8L396.2 1241L399.2 1244L402.3 1247L405.3 1249.8L408.4 1252.5L411.4 1255.1L414.5 1257.6L417.5 1260L420.6 1262.3L423.6 1264.4L426.6 1266.5L429.7 1268.5L432.7 1270.4L435.8 1272.1L438.8 1273.8L441.9 1275.3L444.9 1276.8L448 1278.3L451 1279.7L454.1 1281L457.1 1282.3L460.1 1283.6L463.2 1284.7L466.2 1285.9L469.3 1287L472.3 1288L475.4 1289L478.4 1290L481.5 1290.9L484.5 1291.9L487.5 1292.7L490.6 1293.6L493.6 1294.4L496.7 1295.1L499.7 1295.8L502.8 1296.5L505.8 1297.2L508.9 1297.8L511.9 1298.5L515 1299.1L518 1299.7L521 1300.2L524.1 1300.7L527.1 1301.3L530.2 1301.8L533.2 1302.3L536.3 1302.7L539.3 1303.2L542.4 1303.6L545.4 1304L548.4 1304.4L551.5 1304.8L554.5 1305.2L557.6 1305.5L560.6 1305.8L563.7 1306L566.7 1306.3L569.8 1306.5L572.8 1306.8L575.9 1307L578.9 1307.2L581.9 1307.4L585 1307.6L588 1307.7L591.1 1307.9L594.1 1308.1L597.2 1308.2L600.2 1308.3L603.3 1308.5L606.3 1308.6L609.4 1308.7L612.4 1308.8L615.4 1308.9L618.5 1309.1L621.5 1309.1L624.6 1309.2L627.6 1309.3L630.7 1309.4L633.7 1309.5L636.8 1309.5L639.8 1309.6L642.8 1309.7L645.9 1309.7L648.9 1309.8L652 1309.9L655 1309.9L658.1 1310L661.1 1310L664.2 1310.1L667.2 1310.1L670.2 1310.2L673.3 1310.2L676.3 1310.2L679.4 1310.3L682.4 1310.3L685.5 1310.3L688.5 1310.3L691.6 1310.4L694.6 1310.4L697.7 1310.4L700.7 1310.5L703.7 1310.5L706.8 1310.5L709.8 1310.5L712.9 1310.6L715.9 1310.6L719 1310.6L722 1310.6L725.1 1310.6L728.1 1310.7L731.1 1310.7L734.2 1310.7L737.2 1310.7L740.3 1310.7L743.3 1310.7L746.4 1310.7L749.4 1310.7L752.5 1310.7L755.5 1310.8L758.6 1310.8L761.6 1310.8" stroke="#333"/>
<path d="M137.4 1275L140.4 1266.8L143.5 1254.4L146.5 1241.6L149.6 1228.2L152.6 1214.5L155.6 1201.1L158.7 1188.5L161.7 1176.8L164.8 1166L167.8 1155.8L170.9 1146.1L173.9 1136.7L177 1127.4L180 1118.2L183 1109L186.1 1099.5L189.1 1089.4L192.2 1078.7L195.2 1067.8L198.3 1057.4L201.3 1048.1L204.4 1040.4L207.4 1034.3L210.5 1029.6L213.5 1026.1L216.5 1023.2L219.6 1020.9L222.6 1018.9L225.7 1017.2L228.7 1015.6L231.8 1014.4L234.8 1013.6L237.9 1013.3L240.9 1013.5L243.9 1014L247 1015.1L250 1016.8L253.1 1019L256.1 1021.7L259.2 1024.8L262.2 1028.2L265.3 1031.9L268.3 1036.2L271.4 1040.9L274.4 1046L277.4 1051.1L280.5 1055.9L283.5 1060.7L286.6 1065.4L289.6 1070.2L292.7 1075L295.7 1079.8L298.8 1084.5L301.8 1089.2L304.9 1094L307.9 1098.7L310.9 1103.4L314 1108.2L317 1112.9L320.1 1117.7L323.1 1122.6L326.2 1127.4L329.2 1132.3L332.3 1137.2L335.3 1142.4L338.3 1147.7L341.4 1153.2L344.4 1158.8L347.5 1164.2L350.5 1169.4L353.6 1174.5L356.6 1179.6L359.7 1184.6L362.7 1189.4L365.8 1194L368.8 1198.6L371.8 1203L374.9 1207.2L377.9 1211.3L381 1215.1L384 1218.8L387.1 1222.4L390.1 1225.9L393.2 1229.2L396.2 1232.4L399.2 1235.5L402.3 1238.6L405.3 1241.5L408.4 1244.3L411.4 1247L414.5 1249.6L417.5 1252.1L420.6 1254.5L423.6 1256.8L426.6 1259.1L429.7 1261.2L432.7 1263.3L435.8 1265.2L438.8 1267L441.9 1268.7L444.9 1270.4L448 1272L451 1273.5L454.1 1275L457.1 1276.5L460.1 1277.9L463.2 1279.2L466.2 1280.5L469.3 1281.7L472.3 1282.9L475.4 1284.1L478.4 1285.2L481.5 1286.3L484.5 1287.4L487.5 1288.4L490.6 1289.4L493.6 1290.3L496.7 1291.2L499.7 1292.1L502.8 1292.9L505.8 1293.7L508.9 1294.5L511.9 1295.2L515 1295.9L518 1296.7L521 1297.3L524.1 1298L527.1 1298.6L530.2 1299.2L533.2 1299.8L536.3 1300.4L539.3 1300.9L542.4 1301.5L545.4 1302L548.4 1302.5L551.5 1303L554.5 1303.4L557.6 1303.8L560.6 1304.2L563.7 1304.5L566.7 1304.8L569.8 1305.2L572.8 1305.5L575.9 1305.8L578.9 1306.1L581.9 1306.3L585 1306.5L588 1306.8L591.1 1307L594.1 1307.2L597.2 1307.4L600.2 1307.5L603.3 1307.7L606.3 1307.9L609.4 1308L612.4 1308.2L615.4 1308.3L618.5 1308.5L621.5 1308.6L624.6 1308.7L627.6 1308.8L630.7 1308.9L633.7 1309L636.8 1309.1L639.8 1309.2L642.8 1309.3L645.9 1309.4L648.9 1309.5L652 1309.5L655 1309.6L658.1 1309.7L661.1 1309.8L664.2 1309.8L667.2 1309.9L670.2 1309.9L673.3 1310L676.3 1310L679.4 1310.1L682.4 1310.1L685.5 1310.2L688.5 1310.2L691.6 1310.2L694.6 1310.3L697.7 1310.3L700.7 1310.3L703.7 1310.4L706.8 1310.4L709.8 1310.4L712.9 1310.5L715.9 1310.5L719 1310.5L722 1310.5L725.1 1310.6L728.1 1310.6L731.1 1310.6L734.2 1310.6L737.2 1310.6L740.3 1310.7L743.3 1310.7L746.4 1310.7L749.4 1310.7L752.5 1310.7L755.5 1310.7L758.6 1310.7L761.6 1310.7" stroke="#555"/>
<path d="M137.4 1275.6L140.4 1268.7L143.5 1258.3L146.5 1247.9L149.6 1237.2L152.6 1226.4L155.6 1215.9L158.7 1206.1L161.7 1197.1L164.8 1188.8L167.8 1181L170.9 1173.6L173.9 1166.3L177 1159.2L180 1152.1L183 1145L186.1 1137.6L189.1 1129.7L192.2 1121.4L195.2 1112.8L198.3 1104.4L201.3 1096.8L204.4 1090.3L207.4 1085L210.5 1080.6L213.5 1077L216.5 1073.8L219.6 1070.9L222.6 1068.2L225.7 1065.6L228.7 1063.2L231.8 1061L234.8 1059.2L237.9 1057.8L240.9 1056.7L243.9 1056L247 1055.7L250 1055.9L253.1 1056.6L256.1 1057.6L259.2 1059L262.2 1060.6L265.3 1062.6L268.3 1065L271.4 1067.8L274.4 1070.9L277.4 1074L280.5 1076.9L283.5 1079.9L286.6 1082.8L289.6 1085.8L292.7 1088.8L295.7 1091.9L298.8 1095.1L301.8 1098.2L304.9 1101.4L307.9 1104.7L310.9 1108L314 1111.3L317 1114.7L320.1 1118.2L323.1 1121.8L326.2 1125.5L329.2 1129.3L332.3 1133.1L335.3 1137.2L338.3 1141.5L341.4 1146L344.4 1150.6L347.5 1155.2L350.5 1159.7L353.6 1164.2L356.6 1168.8L359.7 1173.4L362.7 1177.8L365.8 1182.2L368.8 1186.4L371.8 1190.6L374.9 1194.6L377.9 1198.5L381 1202.3L384 1205.9L387.1 1209.5L390.1 1212.9L393.2 1216.3L396.2 1219.6L399.2 1222.8L402.3 1225.9L405.3 1229L408.4 1231.9L411.4 1234.8L414.5 1237.6L417.5 1240.3L420.6 1242.9L423.6 1245.4L426.6 1247.9L429.7 1250.4L432.7 1252.7L435.8 1254.9L438.8 1256.9L441.9 1258.8L444.9 1260.7L448 1262.5L451 1264.3L454.1 1266L457.1 1267.7L460.1 1269.3L463.2 1270.9L466.2 1272.4L469.3 1273.9L472.3 1275.3L475.4 1276.7L478.4 1278L481.5 1279.4L484.5 1280.7L487.5 1281.9L490.6 1283.1L493.6 1284.3L496.7 1285.4L499.7 1286.4L502.8 1287.4L505.8 1288.4L508.9 1289.4L511.9 1290.3L515 1291.3L518 1292.2L521 1293L524.1 1293.8L527.1 1294.6L530.2 1295.4L533.2 1296.2L536.3 1296.9L539.3 1297.6L542.4 1298.3L545.4 1298.9L548.4 1299.6L551.5 1300.2L554.5 1300.7L557.6 1301.3L560.6 1301.8L563.7 1302.2L566.7 1302.7L569.8 1303.1L572.8 1303.6L575.9 1303.9L578.9 1304.3L581.9 1304.7L585 1305L588 1305.3L591.1 1305.6L594.1 1305.8L597.2 1306.1L600.2 1306.3L603.3 1306.6L606.3 1306.8L609.4 1307L612.4 1307.2L615.4 1307.4L618.5 1307.6L621.5 1307.8L624.6 1307.9L627.6 1308.1L630.7 1308.2L633.7 1308.4L636.8 1308.5L639.8 1308.6L642.8 1308.7L645.9 1308.9L648.9 1309L652 1309.1L655 1309.2L658.1 1309.3L661.1 1309.4L664.2 1309.5L667.2 1309.5L670.2 1309.6L673.3 1309.7L676.3 1309.7L679.4 1309.8L682.4 1309.9L685.5 1309.9L688.5 1310L691.6 1310L694.6 1310L697.7 1310.1L700.7 1310.1L703.7 1310.2L706.8 1310.2L709.8 1310.3L712.9 1310.3L715.9 1310.4L719 1310.4L722 1310.4L725.1 1310.5L728.1 1310.5L731.1 1310.5L734.2 1310.5L737.2 1310.6L740.3 1310.6L743.3 1310.6L746.4 1310.6L749.4 1310.6L752.5 1310.7L755.5 1310.7L758.6 1310.7L761.6 1310.7" stroke="#777"/>
<path d="M137.4 1276.1L140.4 1270.3L143.5 1261.8L146.5 1253.4L149.6 1245.1L152.6 1236.8L155.6 1228.9L158.7 1221.6L161.7 1215L164.8 1208.9L167.8 1203.2L170.9 1197.7L173.9 1192.4L177 1187.1L180 1181.8L183 1176.5L186.1 1171L189.1 1165.2L192.2 1158.9L195.2 1152.3L198.3 1145.7L201.3 1139.7L204.4 1134.2L207.4 1129.6L210.5 1125.5L213.5 1121.8L216.5 1118.3L219.6 1114.9L222.6 1111.5L225.7 1108.2L228.7 1105L231.8 1102L234.8 1099.2L237.9 1096.8L240.9 1094.7L243.9 1092.8L247 1091.3L250 1090.3L253.1 1089.5L256.1 1089.1L259.2 1088.9L262.2 1089L265.3 1089.4L268.3 1090.1L271.4 1091.2L274.4 1092.4L277.4 1093.7L280.5 1094.8L283.5 1096L286.6 1097.2L289.6 1098.5L292.7 1099.8L295.7 1101.2L298.8 1102.7L301.8 1104.4L304.9 1106.1L307.9 1107.9L310.9 1109.8L314 1111.8L317 1113.9L320.1 1116.3L323.1 1118.8L326.2 1121.6L329.2 1124.4L332.3 1127.4L335.3 1130.7L338.3 1134.3L341.4 1138.1L344.4 1142.1L347.5 1146L350.5 1150.1L353.6 1154.3L356.6 1158.6L359.7 1163L362.7 1167.2L365.8 1171.4L368.8 1175.4L371.8 1179.4L374.9 1183.3L377.9 1187.1L381 1190.8L384 1194.5L387.1 1198L390.1 1201.5L393.2 1204.9L396.2 1208.3L399.2 1211.6L402.3 1214.9L405.3 1218L408.4 1221.1L411.4 1224.1L414.5 1227L417.5 1229.9L420.6 1232.7L423.6 1235.4L426.6 1238.1L429.7 1240.8L432.7 1243.3L435.8 1245.7L438.8 1248L441.9 1250.1L444.9 1252.2L448 1254.2L451 1256.2L454.1 1258.1L457.1 1260L460.1 1261.8L463.2 1263.6L466.2 1265.4L469.3 1267L472.3 1268.6L475.4 1270.2L478.4 1271.7L481.5 1273.3L484.5 1274.7L487.5 1276.2L490.6 1277.6L493.6 1279L496.7 1280.2L499.7 1281.5L502.8 1282.6L505.8 1283.8L508.9 1284.9L511.9 1286L515 1287.1L518 1288.2L521 1289.2L524.1 1290.2L527.1 1291.1L530.2 1292.1L533.2 1292.9L536.3 1293.8L539.3 1294.6L542.4 1295.4L545.4 1296.2L548.4 1297L551.5 1297.7L554.5 1298.4L557.6 1299.1L560.6 1299.7L563.7 1300.2L566.7 1300.8L569.8 1301.3L572.8 1301.9L575.9 1302.3L578.9 1302.8L581.9 1303.2L585 1303.6L588 1304L591.1 1304.3L594.1 1304.6L597.2 1305L600.2 1305.3L603.3 1305.6L606.3 1305.8L609.4 1306.1L612.4 1306.4L615.4 1306.6L618.5 1306.8L621.5 1307L624.6 1307.2L627.6 1307.4L630.7 1307.6L633.7 1307.8L636.8 1307.9L639.8 1308.1L642.8 1308.2L645.9 1308.4L648.9 1308.5L652 1308.7L655 1308.8L658.1 1308.9L661.1 1309L664.2 1309.1L667.2 1309.2L670.2 1309.3L673.3 1309.4L676.3 1309.5L679.4 1309.6L682.4 1309.6L685.5 1309.7L688.5 1309.7L691.6 1309.8L694.6 1309.9L697.7 1309.9L700.7 1310L703.7 1310L706.8 1310.1L709.8 1310.1L712.9 1310.2L715.9 1310.2L719 1310.3L722 1310.3L725.1 1310.4L728.1 1310.4L731.1 1310.4L734.2 1310.5L737.2 1310.5L740.3 1310.5L743.3 1310.5L746.4 1310.6L749.4 1310.6L752.5 1310.6L755.5 1310.6L758.6 1310.6L761.6 1310.6" stroke="#999"/>
<path d="M137.4 1276.6L140.4 1272L143.5 1265.4L146.5 1259.2L149.6 1253.2L152.6 1247.6L155.6 1242.3L158.7 1237.6L161.7 1233.4L164.8 1229.7L167.8 1226.1L170.9 1222.7L173.9 1219.3L177 1216L180 1212.6L183 1209.2L186.1 1205.7L189.1 1201.8L192.2 1197.7L195.2 1193.1L198.3 1188.5L201.3 1183.9L204.4 1179.7L207.4 1175.6L210.5 1171.8L213.5 1168.1L216.5 1164.3L219.6 1160.4L222.6 1156.3L225.7 1152.3L228.7 1148.2L231.8 1144.4L234.8 1140.7L237.9 1137.2L240.9 1133.9L243.9 1131L247 1128.2L250 1125.8L253.1 1123.6L256.1 1121.7L259.2 1119.9L262.2 1118.4L265.3 1117.2L268.3 1116.2L271.4 1115.4L274.4 1114.7L277.4 1114.1L280.5 1113.4L283.5 1112.7L286.6 1112.1L289.6 1111.6L292.7 1111.2L295.7 1110.9L298.8 1110.8L301.8 1110.8L304.9 1111L307.9 1111.4L310.9 1111.8L314 1112.5L317 1113.3L320.1 1114.5L323.1 1115.9L326.2 1117.6L329.2 1119.6L332.3 1121.7L335.3 1124.1L338.3 1126.9L341.4 1130L344.4 1133.3L347.5 1136.7L350.5 1140.2L353.6 1144L356.6 1148.1L359.7 1152.2L362.7 1156.3L365.8 1160.2L368.8 1164.1L371.8 1167.9L374.9 1171.7L377.9 1175.4L381 1179L384 1182.6L387.1 1186.2L390.1 1189.7L393.2 1193.2L396.2 1196.6L399.2 1200L402.3 1203.4L405.3 1206.7L408.4 1209.9L411.4 1213L414.5 1216.1L417.5 1219.1L420.6 1222.1L423.6 1225L426.6 1228L429.7 1230.9L432.7 1233.7L435.8 1236.3L438.8 1238.8L441.9 1241.1L444.9 1243.4L448 1245.6L451 1247.8L454.1 1249.9L457.1 1252L460.1 1254.1L463.2 1256.1L466.2 1258L469.3 1259.9L472.3 1261.7L475.4 1263.5L478.4 1265.2L481.5 1266.9L484.5 1268.6L487.5 1270.3L490.6 1271.9L493.6 1273.5L496.7 1274.9L499.7 1276.3L502.8 1277.7L505.8 1279L508.9 1280.3L511.9 1281.6L515 1282.9L518 1284.1L521 1285.3L524.1 1286.4L527.1 1287.5L530.2 1288.6L533.2 1289.6L536.3 1290.6L539.3 1291.6L542.4 1292.5L545.4 1293.4L548.4 1294.3L551.5 1295.2L554.5 1296L557.6 1296.8L560.6 1297.5L563.7 1298.2L566.7 1298.8L569.8 1299.5L572.8 1300.1L575.9 1300.7L578.9 1301.2L581.9 1301.7L585 1302.2L588 1302.6L591.1 1303L594.1 1303.4L597.2 1303.8L600.2 1304.2L603.3 1304.5L606.3 1304.8L609.4 1305.2L612.4 1305.5L615.4 1305.8L618.5 1306L621.5 1306.3L624.6 1306.5L627.6 1306.8L630.7 1307L633.7 1307.2L636.8 1307.4L639.8 1307.5L642.8 1307.7L645.9 1307.9L648.9 1308.1L652 1308.2L655 1308.4L658.1 1308.5L661.1 1308.7L664.2 1308.8L667.2 1308.9L670.2 1309L673.3 1309.1L676.3 1309.2L679.4 1309.3L682.4 1309.4L685.5 1309.5L688.5 1309.5L691.6 1309.6L694.6 1309.7L697.7 1309.7L700.7 1309.8L703.7 1309.9L706.8 1309.9L709.8 1310L712.9 1310.1L715.9 1310.1L719 1310.2L722 1310.2L725.1 1310.3L728.1 1310.3L731.1 1310.4L734.2 1310.4L737.2 1310.4L740.3 1310.5L743.3 1310.5L746.4 1310.5L749.4 1310.5L752.5 1310.5L755.5 1310.6L758.6 1310.6L761.6 1310.6" stroke="#000"/>
<path d="M137.4 1277.1L140.4 1273.4L143.5 1268.3L146.5 1263.7L149.6 1259.8L152.6 1256.2L155.6 1253.1L158.7 1250.4L161.7 1248.2L164.8 1246.3L167.8 1244.4L170.9 1242.6L173.9 1240.8L177 1239.1L180 1237.2L183 1235.3L186.1 1233.3L189.1 1231.2L192.2 1228.7L195.2 1225.8L198.3 1222.7L201.3 1219.4L204.4 1216L207.4 1212.5L210.5 1208.9L213.5 1205.1L216.5 1201.1L219.6 1196.8L222.6 1192.2L225.7 1187.5L228.7 1182.8L231.8 1178.3L234.8 1173.8L237.9 1169.5L240.9 1165.4L243.9 1161.5L247 1157.8L250 1154.3L253.1 1151L256.1 1147.8L259.2 1144.9L262.2 1142.2L265.3 1139.7L268.3 1137.4L271.4 1135.3L274.4 1133.3L277.4 1131.3L280.5 1129.4L283.5 1127.5L286.6 1125.8L289.6 1124.2L292.7 1122.7L295.7 1121.4L298.8 1120.3L301.8 1119.5L304.9 1118.7L307.9 1118.2L310.9 1117.8L314 1117.5L317 1117.4L320.1 1117.6L323.1 1118.2L326.2 1119L329.2 1120L332.3 1121.2L335.3 1122.6L338.3 1124.5L341.4 1126.6L344.4 1129L347.5 1131.6L350.5 1134.4L353.6 1137.6L356.6 1141.1L359.7 1144.8L362.7 1148.4L365.8 1152L368.8 1155.6L371.8 1159.1L374.9 1162.7L377.9 1166.2L381 1169.8L384 1173.3L387.1 1176.8L390.1 1180.3L393.2 1183.8L396.2 1187.3L399.2 1190.8L402.3 1194.2L405.3 1197.6L408.4 1200.9L411.4 1204.2L414.5 1207.3L417.5 1210.5L420.6 1213.6L423.6 1216.7L426.6 1219.9L429.7 1223L432.7 1226L435.8 1228.8L438.8 1231.4L441.9 1234L444.9 1236.4L448 1238.7L451 1241L454.1 1243.4L457.1 1245.6L460.1 1247.9L463.2 1250.1L466.2 1252.2L469.3 1254.2L472.3 1256.2L475.4 1258.1L478.4 1260L481.5 1261.9L484.5 1263.8L487.5 1265.6L490.6 1267.4L493.6 1269.1L496.7 1270.7L499.7 1272.2L502.8 1273.7L505.8 1275.2L508.9 1276.6L511.9 1278L515 1279.4L518 1280.8L521 1282.2L524.1 1283.4L527.1 1284.6L530.2 1285.8L533.2 1287L536.3 1288.1L539.3 1289.1L542.4 1290.2L545.4 1291.2L548.4 1292.2L551.5 1293.1L554.5 1294.1L557.6 1294.9L560.6 1295.7L563.7 1296.5L566.7 1297.3L569.8 1298L572.8 1298.7L575.9 1299.4L578.9 1300L581.9 1300.6L585 1301.1L588 1301.6L591.1 1302L594.1 1302.5L597.2 1302.9L600.2 1303.3L603.3 1303.7L606.3 1304L609.4 1304.4L612.4 1304.8L615.4 1305.1L618.5 1305.4L621.5 1305.7L624.6 1306L627.6 1306.2L630.7 1306.5L633.7 1306.7L636.8 1306.9L639.8 1307.1L642.8 1307.3L645.9 1307.5L648.9 1307.7L652 1307.9L655 1308.1L658.1 1308.2L661.1 1308.4L664.2 1308.5L667.2 1308.7L670.2 1308.8L673.3 1308.9L676.3 1309L679.4 1309.1L682.4 1309.2L685.5 1309.3L688.5 1309.4L691.6 1309.4L694.6 1309.5L697.7 1309.6L700.7 1309.7L703.7 1309.7L706.8 1309.8L709.8 1309.9L712.9 1309.9L715.9 1310L719 1310.1L722 1310.1L725.1 1310.2L728.1 1310.2L731.1 1310.3L734.2 1310.3L737.2 1310.4L740.3 1310.4L743.3 1310.4L746.4 1310.5L749.4 1310.5L752.5 1310.5L755.5 1310.5L758.6 1310.5L761.6 1310.5" stroke="#333"/>
<path d="M137.4 1277.3L140.4 1274L143.5 1269.5L146.5 1265.7L149.6 1262.5L152.6 1259.8L155.6 1257.5L158.7 1255.8L161.7 1254.4L164.8 1253.2L167.8 1252.1L170.9 1251L173.9 1249.8L177 1248.7L180 1247.5L183 1246.2L186.1 1244.9L189.1 1243.4L192.2 1241.6L195.2 1239.5L198.3 1237L201.3 1234.1L204.4 1231.1L207.4 1227.9L210.5 1224.4L213.5 1220.6L216.5 1216.5L219.6 1212L222.6 1207.1L225.7 1202.2L228.7 1197.3L231.8 1192.4L234.8 1187.6L237.9 1183L240.9 1178.5L243.9 1174.2L247 1170.1L250 1166.2L253.1 1162.4L256.1 1158.8L259.2 1155.3L262.2 1152.1L265.3 1149.1L268.3 1146.3L271.4 1143.6L274.4 1141L277.4 1138.5L280.5 1136.1L283.5 1133.8L286.6 1131.6L289.6 1129.6L292.7 1127.7L295.7 1126L298.8 1124.6L301.8 1123.3L304.9 1122.2L307.9 1121.3L310.9 1120.6L314 1119.9L317 1119.5L320.1 1119.3L323.1 1119.5L326.2 1119.9L329.2 1120.5L332.3 1121.2L335.3 1122.3L338.3 1123.7L341.4 1125.4L344.4 1127.4L347.5 1129.6L350.5 1132.1L353.6 1135L356.6 1138.3L359.7 1141.8L362.7 1145.2L365.8 1148.6L368.8 1152L371.8 1155.5L374.9 1159L377.9 1162.4L381 1165.9L384 1169.4L387.1 1172.9L390.1 1176.4L393.2 1179.9L396.2 1183.4L399.2 1186.9L402.3 1190.4L405.3 1193.8L408.4 1197.2L411.4 1200.5L414.5 1203.7L417.5 1206.9L420.6 1210.1L423.6 1213.3L426.6 1216.5L429.7 1219.7L432.7 1222.7L435.8 1225.6L438.8 1228.4L441.9 1231L444.9 1233.4L448 1235.9L451 1238.3L454.1 1240.6L457.1 1243L460.1 1245.3L463.2 1247.5L466.2 1249.7L469.3 1251.8L472.3 1253.9L475.4 1255.9L478.4 1257.8L481.5 1259.8L484.5 1261.7L487.5 1263.6L490.6 1265.5L493.6 1267.2L496.7 1268.9L499.7 1270.5L502.8 1272.1L505.8 1273.6L508.9 1275.1L511.9 1276.6L515 1278L518 1279.5L521 1280.8L524.1 1282.2L527.1 1283.4L530.2 1284.7L533.2 1285.9L536.3 1287L539.3 1288.1L542.4 1289.2L545.4 1290.3L548.4 1291.3L551.5 1292.3L554.5 1293.3L557.6 1294.2L560.6 1295L563.7 1295.8L566.7 1296.6L569.8 1297.4L572.8 1298.1L575.9 1298.8L578.9 1299.5L581.9 1300.1L585 1300.6L588 1301.1L591.1 1301.6L594.1 1302L597.2 1302.5L600.2 1302.9L603.3 1303.3L606.3 1303.7L609.4 1304.1L612.4 1304.5L615.4 1304.8L618.5 1305.1L621.5 1305.4L624.6 1305.7L627.6 1306L630.7 1306.2L633.7 1306.5L636.8 1306.7L639.8 1306.9L642.8 1307.1L645.9 1307.4L648.9 1307.6L652 1307.7L655 1307.9L658.1 1308.1L661.1 1308.3L664.2 1308.4L667.2 1308.6L670.2 1308.7L673.3 1308.8L676.3 1308.9L679.4 1309L682.4 1309.1L685.5 1309.2L688.5 1309.3L691.6 1309.4L694.6 1309.4L697.7 1309.5L700.7 1309.6L703.7 1309.7L706.8 1309.8L709.8 1309.8L712.9 1309.9L715.9 1310L719 1310L722 1310.1L725.1 1310.2L728.1 1310.2L731.1 1310.3L734.2 1310.3L737.2 1310.3L740.3 1310.4L743.3 1310.4L746.4 1310.4L749.4 1310.5L752.5 1310.5L755.5 1310.5L758.6 1310.5L761.6 1310.5" stroke="#555"/>
<path d="M137.4 1277.3L140.4 1274.1L143.5 1269.7L146.5 1266L149.6 1263L152.6 1260.5L155.6 1258.4L158.7 1256.8L161.7 1255.6L164.8 1254.6L167.8 1253.6L170.9 1252.6L173.9 1251.6L177 1250.6L180 1249.5L183 1248.4L186.1 1247.2L189.1 1245.8L192.2 1244.2L195.2 1242.2L198.3 1239.8L201.3 1237.1L204.4 1234.2L207.4 1231L210.5 1227.5L213.5 1223.7L216.5 1219.5L219.6 1215L222.6 1210.1L225.7 1205.1L228.7 1200.2L231.8 1195.2L234.8 1190.4L237.9 1185.7L240.9 1181.1L243.9 1176.8L247 1172.6L250 1168.6L253.1 1164.7L256.1 1160.9L259.2 1157.4L262.2 1154.1L265.3 1151L268.3 1148.1L271.4 1145.3L274.4 1142.6L277.4 1140L280.5 1137.5L283.5 1135L286.6 1132.8L289.6 1130.6L292.7 1128.7L295.7 1126.9L298.8 1125.4L301.8 1124.1L304.9 1122.9L307.9 1121.9L310.9 1121.1L314 1120.4L317 1119.8L320.1 1119.6L323.1 1119.7L326.2 1120L329.2 1120.5L332.3 1121.2L335.3 1122.2L338.3 1123.5L341.4 1125.2L344.4 1127.1L347.5 1129.2L350.5 1131.6L353.6 1134.5L356.6 1137.7L359.7 1141.1L362.7 1144.6L365.8 1148L368.8 1151.3L371.8 1154.8L374.9 1158.2L377.9 1161.7L381 1165.1L384 1168.6L387.1 1172.1L390.1 1175.7L393.2 1179.2L396.2 1182.7L399.2 1186.2L402.3 1189.7L405.3 1193.1L408.4 1196.4L411.4 1199.7L414.5 1203L417.5 1206.2L420.6 1209.4L423.6 1212.6L426.6 1215.8L429.7 1219L432.7 1222.1L435.8 1225L438.8 1227.8L441.9 1230.4L444.9 1232.8L448 1235.3L451 1237.7L454.1 1240.1L457.1 1242.5L460.1 1244.8L463.2 1247L466.2 1249.2L469.3 1251.3L472.3 1253.4L475.4 1255.4L478.4 1257.4L481.5 1259.4L484.5 1261.3L487.5 1263.2L490.6 1265.1L493.6 1266.9L496.7 1268.5L499.7 1270.2L502.8 1271.7L505.8 1273.3L508.9 1274.8L511.9 1276.3L515 1277.7L518 1279.2L521 1280.6L524.1 1281.9L527.1 1283.2L530.2 1284.4L533.2 1285.6L536.3 1286.8L539.3 1287.9L542.4 1289L545.4 1290.1L548.4 1291.1L551.5 1292.1L554.5 1293.1L557.6 1294L560.6 1294.9L563.7 1295.7L566.7 1296.5L569.8 1297.3L572.8 1298L575.9 1298.7L578.9 1299.4L581.9 1300L585 1300.5L588 1301L591.1 1301.5L594.1 1302L597.2 1302.4L600.2 1302.8L603.3 1303.3L606.3 1303.7L609.4 1304L612.4 1304.4L615.4 1304.7L618.5 1305.1L621.5 1305.4L624.6 1305.7L627.6 1305.9L630.7 1306.2L633.7 1306.4L636.8 1306.7L639.8 1306.9L642.8 1307.1L645.9 1307.3L648.9 1307.5L652 1307.7L655 1307.9L658.1 1308.1L661.1 1308.2L664.2 1308.4L667.2 1308.5L670.2 1308.7L673.3 1308.8L676.3 1308.9L679.4 1309L682.4 1309.1L685.5 1309.2L688.5 1309.3L691.6 1309.4L694.6 1309.4L697.7 1309.5L700.7 1309.6L703.7 1309.7L706.8 1309.7L709.8 1309.8L712.9 1309.9L715.9 1310L719 1310L722 1310.1L725.1 1310.1L728.1 1310.2L731.1 1310.2L734.2 1310.3L737.2 1310.3L740.3 1310.4L743.3 1310.4L746.4 1310.4L749.4 1310.5L752.5 1310.5L755.5 1310.5L758.6 1310.5L761.6 1310.5" stroke="#777"/>
<path d="M137.4 1277.3L140.4 1274.2L143.5 1269.9L146.5 1266.4L149.6 1263.6L152.6 1261.2L155.6 1259.3L158.7 1257.9L161.7 1256.8L164.8 1256L167.8 1255.1L170.9 1254.3L173.9 1253.4L177 1252.5L180 1251.6L183 1250.6L186.1 1249.5L189.1 1248.3L192.2 1246.8L195.2 1244.9L198.3 1242.7L201.3 1240.1L204.4 1237.2L207.4 1234L210.5 1230.6L213.5 1226.8L216.5 1222.6L219.6 1218L222.6 1213.1L225.7 1208.1L228.7 1203L231.8 1198.1L234.8 1193.1L237.9 1188.3L240.9 1183.7L243.9 1179.3L247 1175L250 1170.9L253.1 1167L256.1 1163.1L259.2 1159.5L262.2 1156.1L265.3 1152.8L268.3 1149.8L271.4 1146.9L274.4 1144.2L277.4 1141.4L280.5 1138.8L283.5 1136.3L286.6 1133.9L289.6 1131.7L292.7 1129.6L295.7 1127.8L298.8 1126.2L301.8 1124.8L304.9 1123.6L307.9 1122.5L310.9 1121.6L314 1120.8L317 1120.2L320.1 1119.9L323.1 1119.9L326.2 1120.2L329.2 1120.6L332.3 1121.2L335.3 1122.1L338.3 1123.3L341.4 1124.9L344.4 1126.8L347.5 1128.8L350.5 1131.2L353.6 1133.9L356.6 1137.1L359.7 1140.5L362.7 1143.9L365.8 1147.3L368.8 1150.6L371.8 1154L374.9 1157.5L377.9 1160.9L381 1164.4L384 1167.9L387.1 1171.4L390.1 1174.9L393.2 1178.4L396.2 1181.9L399.2 1185.4L402.3 1188.9L405.3 1192.3L408.4 1195.7L411.4 1199L414.5 1202.3L417.5 1205.5L420.6 1208.7L423.6 1211.9L426.6 1215.1L429.7 1218.3L432.7 1221.5L435.8 1224.4L438.8 1227.2L441.9 1229.8L444.9 1232.3L448 1234.7L451 1237.1L454.1 1239.5L457.1 1241.9L460.1 1244.3L463.2 1246.5L466.2 1248.7L469.3 1250.9L472.3 1252.9L475.4 1255L478.4 1257L481.5 1258.9L484.5 1260.9L487.5 1262.8L490.6 1264.7L493.6 1266.5L496.7 1268.2L499.7 1269.8L502.8 1271.4L505.8 1272.9L508.9 1274.5L511.9 1276L515 1277.5L518 1278.9L521 1280.3L524.1 1281.7L527.1 1283L530.2 1284.2L533.2 1285.4L536.3 1286.6L539.3 1287.7L542.4 1288.8L545.4 1289.9L548.4 1290.9L551.5 1292L554.5 1292.9L557.6 1293.9L560.6 1294.7L563.7 1295.6L566.7 1296.4L569.8 1297.1L572.8 1297.9L575.9 1298.6L578.9 1299.2L581.9 1299.9L585 1300.4L588 1300.9L591.1 1301.4L594.1 1301.9L597.2 1302.3L600.2 1302.8L603.3 1303.2L606.3 1303.6L609.4 1304L612.4 1304.3L615.4 1304.7L618.5 1305L621.5 1305.3L624.6 1305.6L627.6 1305.9L630.7 1306.2L633.7 1306.4L636.8 1306.6L639.8 1306.9L642.8 1307.1L645.9 1307.3L648.9 1307.5L652 1307.7L655 1307.9L658.1 1308.1L661.1 1308.2L664.2 1308.4L667.2 1308.5L670.2 1308.7L673.3 1308.8L676.3 1308.9L679.4 1309L682.4 1309.1L685.5 1309.2L688.5 1309.3L691.6 1309.3L694.6 1309.4L697.7 1309.5L700.7 1309.6L703.7 1309.7L706.8 1309.7L709.8 1309.8L712.9 1309.9L715.9 1310L719 1310L722 1310.1L725.1 1310.1L728.1 1310.2L731.1 1310.2L734.2 1310.3L737.2 1310.3L740.3 1310.4L743.3 1310.4L746.4 1310.4L749.4 1310.5L752.5 1310.5L755.5 1310.5L758.6 1310.5L761.6 1310.5" stroke="#666"/>
<path d="M137.4 1277.4L140.4 1274.3L143.5 1270.2L146.5 1266.8L149.6 1264.1L152.6 1261.9L155.6 1260.2L158.7 1259L161.7 1258.1L164.8 1257.3L167.8 1256.7L170.9 1256L173.9 1255.2L177 1254.5L180 1253.6L183 1252.8L186.1 1251.8L189.1 1250.7L192.2 1249.4L195.2 1247.6L198.3 1245.5L201.3 1243L204.4 1240.2L207.4 1237.1L210.5 1233.6L213.5 1229.8L216.5 1225.7L219.6 1221.1L222.6 1216.1L225.7 1211L228.7 1205.9L231.8 1200.9L234.8 1195.9L237.9 1191L240.9 1186.4L243.9 1181.9L247 1177.5L250 1173.3L253.1 1169.2L256.1 1165.3L259.2 1161.6L262.2 1158L265.3 1154.7L268.3 1151.6L271.4 1148.6L274.4 1145.7L277.4 1142.9L280.5 1140.1L283.5 1137.5L286.6 1135.1L289.6 1132.8L292.7 1130.6L295.7 1128.7L298.8 1127L301.8 1125.5L304.9 1124.2L307.9 1123.1L310.9 1122.1L314 1121.2L317 1120.5L320.1 1120.2L323.1 1120.1L326.2 1120.3L329.2 1120.6L332.3 1121.2L335.3 1122L338.3 1123.1L341.4 1124.6L344.4 1126.4L347.5 1128.4L350.5 1130.7L353.6 1133.4L356.6 1136.6L359.7 1139.9L362.7 1143.3L365.8 1146.6L368.8 1149.9L371.8 1153.3L374.9 1156.7L377.9 1160.1L381 1163.6L384 1167.1L387.1 1170.6L390.1 1174.1L393.2 1177.6L396.2 1181.1L399.2 1184.6L402.3 1188.1L405.3 1191.6L408.4 1195L411.4 1198.3L414.5 1201.5L417.5 1204.8L420.6 1208L423.6 1211.2L426.6 1214.5L429.7 1217.7L432.7 1220.8L435.8 1223.8L438.8 1226.5L441.9 1229.2L444.9 1231.7L448 1234.1L451 1236.6L454.1 1239L457.1 1241.4L460.1 1243.7L463.2 1246L466.2 1248.3L469.3 1250.4L472.3 1252.5L475.4 1254.5L478.4 1256.5L481.5 1258.5L484.5 1260.5L487.5 1262.4L490.6 1264.3L493.6 1266.1L496.7 1267.8L499.7 1269.5L502.8 1271.1L505.8 1272.6L508.9 1274.1L511.9 1275.7L515 1277.2L518 1278.6L521 1280.1L524.1 1281.4L527.1 1282.7L530.2 1284L533.2 1285.2L536.3 1286.4L539.3 1287.5L542.4 1288.6L545.4 1289.7L548.4 1290.8L551.5 1291.8L554.5 1292.8L557.6 1293.7L560.6 1294.6L563.7 1295.4L566.7 1296.2L569.8 1297L572.8 1297.8L575.9 1298.5L578.9 1299.1L581.9 1299.8L585 1300.3L588 1300.8L591.1 1301.3L594.1 1301.8L597.2 1302.3L600.2 1302.7L603.3 1303.1L606.3 1303.5L609.4 1303.9L612.4 1304.3L615.4 1304.6L618.5 1305L621.5 1305.3L624.6 1305.6L627.6 1305.9L630.7 1306.1L633.7 1306.4L636.8 1306.6L639.8 1306.8L642.8 1307L645.9 1307.3L648.9 1307.5L652 1307.7L655 1307.9L658.1 1308L661.1 1308.2L664.2 1308.4L667.2 1308.5L670.2 1308.6L673.3 1308.8L676.3 1308.9L679.4 1309L682.4 1309.1L685.5 1309.2L688.5 1309.2L691.6 1309.3L694.6 1309.4L697.7 1309.5L700.7 1309.6L703.7 1309.7L706.8 1309.7L709.8 1309.8L712.9 1309.9L715.9 1309.9L719 1310L722 1310.1L725.1 1310.1L728.1 1310.2L731.1 1310.2L734.2 1310.3L737.2 1310.3L740.3 1310.4L743.3 1310.4L746.4 1310.4L749.4 1310.5L752.5 1310.5L755.5 1310.5L758.6 1310.5L761.6 1310.5" stroke="#888"/>
</g>
<g id="left-axes">
<line x1="152.6" y1="458.1" x2="152.6" y2="443.1" stroke="#000" stroke-width="2.8" />
<line x1="152.6" y1="22.9" x2="152.6" y2="37.9" stroke="#000" stroke-width="2.8" />
<line x1="183.05" y1="458.1" x2="183.05" y2="448.9" stroke="#000" stroke-width="2.8" />
<line x1="183.05" y1="22.9" x2="183.05" y2="32.1" stroke="#000" stroke-width="2.8" />
<line x1="213.5" y1="458.1" x2="213.5" y2="448.9" stroke="#000" stroke-width="2.8" />
<line x1="213.5" y1="22.9" x2="213.5" y2="32.1" stroke="#000" stroke-width="2.8" />
<line x1="243.95" y1="458.1" x2="243.95" y2="448.9" stroke="#000" stroke-width="2.8" />
<line x1="243.95" y1="22.9" x2="243.95" y2="32.1" stroke="#000" stroke-width="2.8" />
<line x1="274.4" y1="458.1" x2="274.4" y2="448.9" stroke="#000" stroke-width="2.8" />
<line x1="274.4" y1="22.9" x2="274.4" y2="32.1" stroke="#000" stroke-width="2.8" />
<line x1="304.85" y1="458.1" x2="304.85" y2="443.1" stroke="#000" stroke-width="2.8" />
<line x1="304.85" y1="22.9" x2="304.85" y2="37.9" stroke="#000" stroke-width="2.8" />
<line x1="335.3" y1="458.1" x2="335.3" y2="448.9" stroke="#000" stroke-width="2.8" />
<line x1="335.3" y1="22.9" x2="335.3" y2="32.1" stroke="#000" stroke-width="2.8" />
<line x1="365.75" y1="458.1" x2="365.75" y2="448.9" stroke="#000" stroke-width="2.8" />
<line x1="365.75" y1="22.9" x2="365.75" y2="32.1" stroke="#000" stroke-width="2.8" />
<line x1="396.2" y1="458.1" x2="396.2" y2="448.9" stroke="#000" stroke-width="2.8" />
<line x1="396.2" y1="22.9" x2="396.2" y2="32.1" stroke="#000" stroke-width="2.8" />
<line x1="426.65" y1="458.1" x2="426.65" y2="448.9" stroke="#000" stroke-width="2.8" />
<line x1="426.65" y1="22.9" x2="426.65" y2="32.1" stroke="#000" stroke-width="2.8" />
<line x1="457.1" y1="458.1" x2="457.1" y2="443.1" stroke="#000" stroke-width="2.8" />
<line x1="457.1" y1="22.9" x2="457.1" y2="37.9" stroke="#000" stroke-width="2.8" />
<line x1="487.55" y1="458.1" x2="487.55" y2="448.9" stroke="#000" stroke-width="2.8" />
<line x1="487.55" y1="22.9" x2="487.55" y2="32.1" stroke="#000" stroke-width="2.8" />
<line x1="518" y1="458.1" x2="518" y2="448.9" stroke="#000" stroke-width="2.8" />
<line x1="518" y1="22.9" x2="518" y2="32.1" stroke="#000" stroke-width="2.8" />
<line x1="548.45" y1="458.1" x2="548.45" y2="448.9" stroke="#000" stroke-width="2.8" />
<line x1="548.45" y1="22.9" x2="548.45" y2="32.1" stroke="#000" stroke-width="2.8" />
<line x1="578.9" y1="458.1" x2="578.9" y2="448.9" stroke="#000" stroke-width="2.8" />
<line x1="578.9" y1="22.9" x2="578.9" y2="32.1" stroke="#000" stroke-width="2.8" />
<line x1="609.35" y1="458.1" x2="609.35" y2="443.1" stroke="#000" stroke-width="2.8" />
<line x1="609.35" y1="22.9" x2="609.35" y2="37.9" stroke="#000" stroke-width="2.8" />
<line x1="639.8" y1="458.1" x2="639.8" y2="448.9" stroke="#000" stroke-width="2.8" />
<line x1="639.8" y1="22.9" x2="639.8" y2="32.1" stroke="#000" stroke-width="2.8" />
<line x1="670.25" y1="458.1" x2="670.25" y2="448.9" stroke="#000" stroke-width="2.8" />
<line x1="670.25" y1="22.9" x2="670.25" y2="32.1" stroke="#000" stroke-width="2.8" />
<line x1="700.7" y1="458.1" x2="700.7" y2="448.9" stroke="#000" stroke-width="2.8" />
<line x1="700.7" y1="22.9" x2="700.7" y2="32.1" stroke="#000" stroke-width="2.8" />
<line x1="731.15" y1="458.1" x2="731.15" y2="448.9" stroke="#000" stroke-width="2.8" />
<line x1="731.15" y1="22.9" x2="731.15" y2="32.1" stroke="#000" stroke-width="2.8" />
<line x1="761.6" y1="458.1" x2="761.6" y2="443.1" stroke="#000" stroke-width="2.8" />
<line x1="761.6" y1="22.9" x2="761.6" y2="37.9" stroke="#000" stroke-width="2.8" />
<line x1="122.4" y1="439.18" x2="138" y2="439.18" stroke="#000" stroke-width="2.8" />
<line x1="776.8" y1="439.18" x2="761.2" y2="439.18" stroke="#000" stroke-width="2.8" />
<line x1="122.4" y1="420.26" x2="132.2" y2="420.26" stroke="#000" stroke-width="2.8" />
<line x1="776.8" y1="420.26" x2="767" y2="420.26" stroke="#000" stroke-width="2.8" />
<line x1="122.4" y1="401.33" x2="132.2" y2="401.33" stroke="#000" stroke-width="2.8" />
<line x1="776.8" y1="401.33" x2="767" y2="401.33" stroke="#000" stroke-width="2.8" />
<line x1="122.4" y1="382.41" x2="132.2" y2="382.41" stroke="#000" stroke-width="2.8" />
<line x1="776.8" y1="382.41" x2="767" y2="382.41" stroke="#000" stroke-width="2.8" />
<line x1="122.4" y1="363.49" x2="138" y2="363.49" stroke="#000" stroke-width="2.8" />
<line x1="776.8" y1="363.49" x2="761.2" y2="363.49" stroke="#000" stroke-width="2.8" />
<line x1="122.4" y1="344.57" x2="132.2" y2="344.57" stroke="#000" stroke-width="2.8" />
<line x1="776.8" y1="344.57" x2="767" y2="344.57" stroke="#000" stroke-width="2.8" />
<line x1="122.4" y1="325.65" x2="132.2" y2="325.65" stroke="#000" stroke-width="2.8" />
<line x1="776.8" y1="325.65" x2="767" y2="325.65" stroke="#000" stroke-width="2.8" />
<line x1="122.4" y1="306.73" x2="132.2" y2="306.73" stroke="#000" stroke-width="2.8" />
<line x1="776.8" y1="306.73" x2="767" y2="306.73" stroke="#000" stroke-width="2.8" />
<line x1="122.4" y1="287.8" x2="138" y2="287.8" stroke="#000" stroke-width="2.8" />
<line x1="776.8" y1="287.8" x2="761.2" y2="287.8" stroke="#000" stroke-width="2.8" />
<line x1="122.4" y1="268.88" x2="132.2" y2="268.88" stroke="#000" stroke-width="2.8" />
<line x1="776.8" y1="268.88" x2="767" y2="268.88" stroke="#000" stroke-width="2.8" />
<line x1="122.4" y1="249.96" x2="132.2" y2="249.96" stroke="#000" stroke-width="2.8" />
<line x1="776.8" y1="249.96" x2="767" y2="249.96" stroke="#000" stroke-width="2.8" />
<line x1="122.4" y1="231.04" x2="132.2" y2="231.04" stroke="#000" stroke-width="2.8" />
<line x1="776.8" y1="231.04" x2="767" y2="231.04" stroke="#000" stroke-width="2.8" />
<line x1="122.4" y1="212.12" x2="138" y2="212.12" stroke="#000" stroke-width="2.8" />
<line x1="776.8" y1="212.12" x2="761.2" y2="212.12" stroke="#000" stroke-width="2.8" />
<line x1="122.4" y1="193.2" x2="132.2" y2="193.2" stroke="#000" stroke-width="2.8" />
<line x1="776.8" y1="193.2" x2="767" y2="193.2" stroke="#000" stroke-width="2.8" />
<line x1="122.4" y1="174.27" x2="132.2" y2="174.27" stroke="#000" stroke-width="2.8" />
<line x1="776.8" y1="174.27" x2="767" y2="174.27" stroke="#000" stroke-width="2.8" />
<line x1="122.4" y1="155.35" x2="132.2" y2="155.35" stroke="#000" stroke-width="2.8" />
<line x1="776.8" y1="155.35" x2="767" y2="155.35" stroke="#000" stroke-width="2.8" />
<line x1="122.4" y1="136.43" x2="138" y2="136.43" stroke="#000" stroke-width="2.8" />
<line x1="776.8" y1="136.43" x2="761.2" y2="136.43" stroke="#000" stroke-width="2.8" />
<line x1="122.4" y1="117.51" x2="132.2" y2="117.51" stroke="#000" stroke-width="2.8" />
<line x1="776.8" y1="117.51" x2="767" y2="117.51" stroke="#000" stroke-width="2.8" />
<line x1="122.4" y1="98.59" x2="132.2" y2="98.59" stroke="#000" stroke-width="2.8" />
<line x1="776.8" y1="98.59" x2="767" y2="98.59" stroke="#000" stroke-width="2.8" />
<line x1="122.4" y1="79.67" x2="132.2" y2="79.67" stroke="#000" stroke-width="2.8" />
<line x1="776.8" y1="79.67" x2="767" y2="79.67" stroke="#000" stroke-width="2.8" />
<line x1="122.4" y1="60.74" x2="138" y2="60.74" stroke="#000" stroke-width="2.8" />
<line x1="776.8" y1="60.74" x2="761.2" y2="60.74" stroke="#000" stroke-width="2.8" />
<line x1="122.4" y1="41.82" x2="132.2" y2="41.82" stroke="#000" stroke-width="2.8" />
<line x1="776.8" y1="41.82" x2="767" y2="41.82" stroke="#000" stroke-width="2.8" />
<text x="108.3" y="448.68" font-family='"Liberation Sans", Arial, Helvetica, sans-serif' font-size="27.5" text-anchor="end" fill="#000">0</text>
<text x="108.3" y="372.99" font-family='"Liberation Sans", Arial, Helvetica, sans-serif' font-size="27.5" text-anchor="end" fill="#000">20</text>
<text x="108.3" y="297.3" font-family='"Liberation Sans", Arial, Helvetica, sans-serif' font-size="27.5" text-anchor="end" fill="#000">40</text>
<text x="108.3" y="221.62" font-family='"Liberation Sans", Arial, Helvetica, sans-serif' font-size="27.5" text-anchor="end" fill="#000">60</text>
<text x="108.3" y="145.93" font-family='"Liberation Sans", Arial, Helvetica, sans-serif' font-size="27.5" text-anchor="end" fill="#000">80</text>
<text x="108.3" y="70.24" font-family='"Liberation Sans", Arial, Helvetica, sans-serif' font-size="27.5" text-anchor="end" fill="#000">100</text>
<line x1="152.6" y1="894.6" x2="152.6" y2="879.6" stroke="#000" stroke-width="2.8" />
<line x1="183.05" y1="894.6" x2="183.05" y2="885.4" stroke="#000" stroke-width="2.8" />
<line x1="213.5" y1="894.6" x2="213.5" y2="885.4" stroke="#000" stroke-width="2.8" />
<line x1="243.95" y1="894.6" x2="243.95" y2="885.4" stroke="#000" stroke-width="2.8" />
<line x1="274.4" y1="894.6" x2="274.4" y2="885.4" stroke="#000" stroke-width="2.8" />
<line x1="304.85" y1="894.6" x2="304.85" y2="879.6" stroke="#000" stroke-width="2.8" />
<line x1="335.3" y1="894.6" x2="335.3" y2="885.4" stroke="#000" stroke-width="2.8" />
<line x1="365.75" y1="894.6" x2="365.75" y2="885.4" stroke="#000" stroke-width="2.8" />
<line x1="396.2" y1="894.6" x2="396.2" y2="885.4" stroke="#000" stroke-width="2.8" />
<line x1="426.65" y1="894.6" x2="426.65" y2="885.4" stroke="#000" stroke-width="2.8" />
<line x1="457.1" y1="894.6" x2="457.1" y2="879.6" stroke="#000" stroke-width="2.8" />
<line x1="487.55" y1="894.6" x2="487.55" y2="885.4" stroke="#000" stroke-width="2.8" />
<line x1="518" y1="894.6" x2="518" y2="885.4" stroke="#000" stroke-width="2.8" />
<line x1="548.45" y1="894.6" x2="548.45" y2="885.4" stroke="#000" stroke-width="2.8" />
<line x1="578.9" y1="894.6" x2="578.9" y2="885.4" stroke="#000" stroke-width="2.8" />
<line x1="609.35" y1="894.6" x2="609.35" y2="879.6" stroke="#000" stroke-width="2.8" />
<line x1="639.8" y1="894.6" x2="639.8" y2="885.4" stroke="#000" stroke-width="2.8" />
<line x1="670.25" y1="894.6" x2="670.25" y2="885.4" stroke="#000" stroke-width="2.8" />
<line x1="700.7" y1="894.6" x2="700.7" y2="885.4" stroke="#000" stroke-width="2.8" />
<line x1="731.15" y1="894.6" x2="731.15" y2="885.4" stroke="#000" stroke-width="2.8" />
<line x1="761.6" y1="894.6" x2="761.6" y2="879.6" stroke="#000" stroke-width="2.8" />
<line x1="122.4" y1="875.62" x2="138" y2="875.62" stroke="#000" stroke-width="2.8" />
<line x1="776.8" y1="875.62" x2="761.2" y2="875.62" stroke="#000" stroke-width="2.8" />
<line x1="122.4" y1="856.64" x2="132.2" y2="856.64" stroke="#000" stroke-width="2.8" />
<line x1="776.8" y1="856.64" x2="767" y2="856.64" stroke="#000" stroke-width="2.8" />
<line x1="122.4" y1="837.67" x2="132.2" y2="837.67" stroke="#000" stroke-width="2.8" />
<line x1="776.8" y1="837.67" x2="767" y2="837.67" stroke="#000" stroke-width="2.8" />
<line x1="122.4" y1="818.69" x2="132.2" y2="818.69" stroke="#000" stroke-width="2.8" />
<line x1="776.8" y1="818.69" x2="767" y2="818.69" stroke="#000" stroke-width="2.8" />
<line x1="122.4" y1="799.71" x2="138" y2="799.71" stroke="#000" stroke-width="2.8" />
<line x1="776.8" y1="799.71" x2="761.2" y2="799.71" stroke="#000" stroke-width="2.8" />
<line x1="122.4" y1="780.73" x2="132.2" y2="780.73" stroke="#000" stroke-width="2.8" />
<line x1="776.8" y1="780.73" x2="767" y2="780.73" stroke="#000" stroke-width="2.8" />
<line x1="122.4" y1="761.75" x2="132.2" y2="761.75" stroke="#000" stroke-width="2.8" />
<line x1="776.8" y1="761.75" x2="767" y2="761.75" stroke="#000" stroke-width="2.8" />
<line x1="122.4" y1="742.77" x2="132.2" y2="742.77" stroke="#000" stroke-width="2.8" />
<line x1="776.8" y1="742.77" x2="767" y2="742.77" stroke="#000" stroke-width="2.8" />
<line x1="122.4" y1="723.8" x2="138" y2="723.8" stroke="#000" stroke-width="2.8" />
<line x1="776.8" y1="723.8" x2="761.2" y2="723.8" stroke="#000" stroke-width="2.8" />
<line x1="122.4" y1="704.82" x2="132.2" y2="704.82" stroke="#000" stroke-width="2.8" />
<line x1="776.8" y1="704.82" x2="767" y2="704.82" stroke="#000" stroke-width="2.8" />
<line x1="122.4" y1="685.84" x2="132.2" y2="685.84" stroke="#000" stroke-width="2.8" />
<line x1="776.8" y1="685.84" x2="767" y2="685.84" stroke="#000" stroke-width="2.8" />
<line x1="122.4" y1="666.86" x2="132.2" y2="666.86" stroke="#000" stroke-width="2.8" />
<line x1="776.8" y1="666.86" x2="767" y2="666.86" stroke="#000" stroke-width="2.8" />
<line x1="122.4" y1="647.88" x2="138" y2="647.88" stroke="#000" stroke-width="2.8" />
<line x1="776.8" y1="647.88" x2="761.2" y2="647.88" stroke="#000" stroke-width="2.8" />
<line x1="122.4" y1="628.9" x2="132.2" y2="628.9" stroke="#000" stroke-width="2.8" />
<line x1="776.8" y1="628.9" x2="767" y2="628.9" stroke="#000" stroke-width="2.8" />
<line x1="122.4" y1="609.93" x2="132.2" y2="609.93" stroke="#000" stroke-width="2.8" />
<line x1="776.8" y1="609.93" x2="767" y2="609.93" stroke="#000" stroke-width="2.8" />
<line x1="122.4" y1="590.95" x2="132.2" y2="590.95" stroke="#000" stroke-width="2.8" />
<line x1="776.8" y1="590.95" x2="767" y2="590.95" stroke="#000" stroke-width="2.8" />
<line x1="122.4" y1="571.97" x2="138" y2="571.97" stroke="#000" stroke-width="2.8" />
<line x1="776.8" y1="571.97" x2="761.2" y2="571.97" stroke="#000" stroke-width="2.8" />
<line x1="122.4" y1="552.99" x2="132.2" y2="552.99" stroke="#000" stroke-width="2.8" />
<line x1="776.8" y1="552.99" x2="767" y2="552.99" stroke="#000" stroke-width="2.8" />
<line x1="122.4" y1="534.01" x2="132.2" y2="534.01" stroke="#000" stroke-width="2.8" />
<line x1="776.8" y1="534.01" x2="767" y2="534.01" stroke="#000" stroke-width="2.8" />
<line x1="122.4" y1="515.03" x2="132.2" y2="515.03" stroke="#000" stroke-width="2.8" />
<line x1="776.8" y1="515.03" x2="767" y2="515.03" stroke="#000" stroke-width="2.8" />
<line x1="122.4" y1="496.06" x2="138" y2="496.06" stroke="#000" stroke-width="2.8" />
<line x1="776.8" y1="496.06" x2="761.2" y2="496.06" stroke="#000" stroke-width="2.8" />
<line x1="122.4" y1="477.08" x2="132.2" y2="477.08" stroke="#000" stroke-width="2.8" />
<line x1="776.8" y1="477.08" x2="767" y2="477.08" stroke="#000" stroke-width="2.8" />
<text x="108.3" y="885.12" font-family='"Liberation Sans", Arial, Helvetica, sans-serif' font-size="27.5" text-anchor="end" fill="#000">0</text>
<text x="108.3" y="809.21" font-family='"Liberation Sans", Arial, Helvetica, sans-serif' font-size="27.5" text-anchor="end" fill="#000">20</text>
<text x="108.3" y="733.3" font-family='"Liberation Sans", Arial, Helvetica, sans-serif' font-size="27.5" text-anchor="end" fill="#000">40</text>
<text x="108.3" y="657.38" font-family='"Liberation Sans", Arial, Helvetica, sans-serif' font-size="27.5" text-anchor="end" fill="#000">60</text>
<text x="108.3" y="581.47" font-family='"Liberation Sans", Arial, Helvetica, sans-serif' font-size="27.5" text-anchor="end" fill="#000">80</text>
<text x="108.3" y="505.56" font-family='"Liberation Sans", Arial, Helvetica, sans-serif' font-size="27.5" text-anchor="end" fill="#000">100</text>
<line x1="152.6" y1="1331" x2="152.6" y2="1316" stroke="#000" stroke-width="2.8" />
<line x1="183.05" y1="1331" x2="183.05" y2="1321.8" stroke="#000" stroke-width="2.8" />
<line x1="213.5" y1="1331" x2="213.5" y2="1321.8" stroke="#000" stroke-width="2.8" />
<line x1="243.95" y1="1331" x2="243.95" y2="1321.8" stroke="#000" stroke-width="2.8" />
<line x1="274.4" y1="1331" x2="274.4" y2="1321.8" stroke="#000" stroke-width="2.8" />
<line x1="304.85" y1="1331" x2="304.85" y2="1316" stroke="#000" stroke-width="2.8" />
<line x1="335.3" y1="1331" x2="335.3" y2="1321.8" stroke="#000" stroke-width="2.8" />
<line x1="365.75" y1="1331" x2="365.75" y2="1321.8" stroke="#000" stroke-width="2.8" />
<line x1="396.2" y1="1331" x2="396.2" y2="1321.8" stroke="#000" stroke-width="2.8" />
<line x1="426.65" y1="1331" x2="426.65" y2="1321.8" stroke="#000" stroke-width="2.8" />
<line x1="457.1" y1="1331" x2="457.1" y2="1316" stroke="#000" stroke-width="2.8" />
<line x1="487.55" y1="1331" x2="487.55" y2="1321.8" stroke="#000" stroke-width="2.8" />
<line x1="518" y1="1331" x2="518" y2="1321.8" stroke="#000" stroke-width="2.8" />
<line x1="548.45" y1="1331" x2="548.45" y2="1321.8" stroke="#000" stroke-width="2.8" />
<line x1="578.9" y1="1331" x2="578.9" y2="1321.8" stroke="#000" stroke-width="2.8" />
<line x1="609.35" y1="1331" x2="609.35" y2="1316" stroke="#000" stroke-width="2.8" />
<line x1="639.8" y1="1331" x2="639.8" y2="1321.8" stroke="#000" stroke-width="2.8" />
<line x1="670.25" y1="1331" x2="670.25" y2="1321.8" stroke="#000" stroke-width="2.8" />
<line x1="700.7" y1="1331" x2="700.7" y2="1321.8" stroke="#000" stroke-width="2.8" />
<line x1="731.15" y1="1331" x2="731.15" y2="1321.8" stroke="#000" stroke-width="2.8" />
<line x1="761.6" y1="1331" x2="761.6" y2="1316" stroke="#000" stroke-width="2.8" />
<line x1="122.4" y1="1312.03" x2="138" y2="1312.03" stroke="#000" stroke-width="2.8" />
<line x1="776.8" y1="1312.03" x2="761.2" y2="1312.03" stroke="#000" stroke-width="2.8" />
<line x1="122.4" y1="1293.05" x2="132.2" y2="1293.05" stroke="#000" stroke-width="2.8" />
<line x1="776.8" y1="1293.05" x2="767" y2="1293.05" stroke="#000" stroke-width="2.8" />
<line x1="122.4" y1="1274.08" x2="132.2" y2="1274.08" stroke="#000" stroke-width="2.8" />
<line x1="776.8" y1="1274.08" x2="767" y2="1274.08" stroke="#000" stroke-width="2.8" />
<line x1="122.4" y1="1255.1" x2="132.2" y2="1255.1" stroke="#000" stroke-width="2.8" />
<line x1="776.8" y1="1255.1" x2="767" y2="1255.1" stroke="#000" stroke-width="2.8" />
<line x1="122.4" y1="1236.13" x2="138" y2="1236.13" stroke="#000" stroke-width="2.8" />
<line x1="776.8" y1="1236.13" x2="761.2" y2="1236.13" stroke="#000" stroke-width="2.8" />
<line x1="122.4" y1="1217.16" x2="132.2" y2="1217.16" stroke="#000" stroke-width="2.8" />
<line x1="776.8" y1="1217.16" x2="767" y2="1217.16" stroke="#000" stroke-width="2.8" />
<line x1="122.4" y1="1198.18" x2="132.2" y2="1198.18" stroke="#000" stroke-width="2.8" />
<line x1="776.8" y1="1198.18" x2="767" y2="1198.18" stroke="#000" stroke-width="2.8" />
<line x1="122.4" y1="1179.21" x2="132.2" y2="1179.21" stroke="#000" stroke-width="2.8" />
<line x1="776.8" y1="1179.21" x2="767" y2="1179.21" stroke="#000" stroke-width="2.8" />
<line x1="122.4" y1="1160.23" x2="138" y2="1160.23" stroke="#000" stroke-width="2.8" />
<line x1="776.8" y1="1160.23" x2="761.2" y2="1160.23" stroke="#000" stroke-width="2.8" />
<line x1="122.4" y1="1141.26" x2="132.2" y2="1141.26" stroke="#000" stroke-width="2.8" />
<line x1="776.8" y1="1141.26" x2="767" y2="1141.26" stroke="#000" stroke-width="2.8" />
<line x1="122.4" y1="1122.29" x2="132.2" y2="1122.29" stroke="#000" stroke-width="2.8" />
<line x1="776.8" y1="1122.29" x2="767" y2="1122.29" stroke="#000" stroke-width="2.8" />
<line x1="122.4" y1="1103.31" x2="132.2" y2="1103.31" stroke="#000" stroke-width="2.8" />
<line x1="776.8" y1="1103.31" x2="767" y2="1103.31" stroke="#000" stroke-width="2.8" />
<line x1="122.4" y1="1084.34" x2="138" y2="1084.34" stroke="#000" stroke-width="2.8" />
<line x1="776.8" y1="1084.34" x2="761.2" y2="1084.34" stroke="#000" stroke-width="2.8" />
<line x1="122.4" y1="1065.37" x2="132.2" y2="1065.37" stroke="#000" stroke-width="2.8" />
<line x1="776.8" y1="1065.37" x2="767" y2="1065.37" stroke="#000" stroke-width="2.8" />
<line x1="122.4" y1="1046.39" x2="132.2" y2="1046.39" stroke="#000" stroke-width="2.8" />
<line x1="776.8" y1="1046.39" x2="767" y2="1046.39" stroke="#000" stroke-width="2.8" />
<line x1="122.4" y1="1027.42" x2="132.2" y2="1027.42" stroke="#000" stroke-width="2.8" />
<line x1="776.8" y1="1027.42" x2="767" y2="1027.42" stroke="#000" stroke-width="2.8" />
<line x1="122.4" y1="1008.44" x2="138" y2="1008.44" stroke="#000" stroke-width="2.8" />
<line x1="776.8" y1="1008.44" x2="761.2" y2="1008.44" stroke="#000" stroke-width="2.8" />
<line x1="122.4" y1="989.47" x2="132.2" y2="989.47" stroke="#000" stroke-width="2.8" />
<line x1="776.8" y1="989.47" x2="767" y2="989.47" stroke="#000" stroke-width="2.8" />
<line x1="122.4" y1="970.5" x2="132.2" y2="970.5" stroke="#000" stroke-width="2.8" />
<line x1="776.8" y1="970.5" x2="767" y2="970.5" stroke="#000" stroke-width="2.8" />
<line x1="122.4" y1="951.52" x2="132.2" y2="951.52" stroke="#000" stroke-width="2.8" />
<line x1="776.8" y1="951.52" x2="767" y2="951.52" stroke="#000" stroke-width="2.8" />
<line x1="122.4" y1="932.55" x2="138" y2="932.55" stroke="#000" stroke-width="2.8" />
<line x1="776.8" y1="932.55" x2="761.2" y2="932.55" stroke="#000" stroke-width="2.8" />
<line x1="122.4" y1="913.57" x2="132.2" y2="913.57" stroke="#000" stroke-width="2.8" />
<line x1="776.8" y1="913.57" x2="767" y2="913.57" stroke="#000" stroke-width="2.8" />
<text x="108.3" y="1321.53" font-family='"Liberation Sans", Arial, Helvetica, sans-serif' font-size="27.5" text-anchor="end" fill="#000">0</text>
<text x="108.3" y="1245.63" font-family='"Liberation Sans", Arial, Helvetica, sans-serif' font-size="27.5" text-anchor="end" fill="#000">20</text>
<text x="108.3" y="1169.73" font-family='"Liberation Sans", Arial, Helvetica, sans-serif' font-size="27.5" text-anchor="end" fill="#000">40</text>
<text x="108.3" y="1093.84" font-family='"Liberation Sans", Arial, Helvetica, sans-serif' font-size="27.5" text-anchor="end" fill="#000">60</text>
<text x="108.3" y="1017.94" font-family='"Liberation Sans", Arial, Helvetica, sans-serif' font-size="27.5" text-anchor="end" fill="#000">80</text>
<text x="108.3" y="942.05" font-family='"Liberation Sans", Arial, Helvetica, sans-serif' font-size="27.5" text-anchor="end" fill="#000">100</text>
<rect x="122.4" y="22.9" width="654.4" height="1308.1" fill="none" stroke="#000" stroke-width="3.0"/>
<line x1="122.4" y1="458.1" x2="776.8" y2="458.1" stroke="#000" stroke-width="3.0" />
<line x1="122.4" y1="894.6" x2="776.8" y2="894.6" stroke="#000" stroke-width="3.0" />
<text x="152.6" y="1370.4" font-family='"Liberation Sans", Arial, Helvetica, sans-serif' font-size="28" text-anchor="middle" fill="#000">300</text>
<text x="304.85" y="1370.4" font-family='"Liberation Sans", Arial, Helvetica, sans-serif' font-size="28" text-anchor="middle" fill="#000">350</text>
<text x="457.1" y="1370.4" font-family='"Liberation Sans", Arial, Helvetica, sans-serif' font-size="28" text-anchor="middle" fill="#000">400</text>
<text x="609.35" y="1370.4" font-family='"Liberation Sans", Arial, Helvetica, sans-serif' font-size="28" text-anchor="middle" fill="#000">450</text>
<text x="761.6" y="1370.4" font-family='"Liberation Sans", Arial, Helvetica, sans-serif' font-size="28" text-anchor="middle" fill="#000">500</text>
<text x="459" y="1426.7" font-family='"Liberation Sans", Arial, Helvetica, sans-serif' font-size="34.6" text-anchor="middle" fill="#000">Wavelength / nm</text>
<text transform="translate(39.6 676.8) rotate(-90)" font-family='"Liberation Sans", Arial, Helvetica, sans-serif' font-size="33.6" text-anchor="middle" fill="#000">Fluorescence / rel.u.</text>
<text x="404" y="1498" font-family='"Liberation Serif", "DejaVu Serif", serif' font-size="34.5" text-anchor="middle" fill="#000">(<tspan font-weight="bold">a</tspan>)</text>
</g>
<g id="c1" stroke="#000">
<g fill="#fff" stroke-width="2.7" stroke-linejoin="miter">
<circle cx="1157" cy="52.29" r="5.7"/>
<circle cx="1156.31" cy="54.66" r="5.7"/>
<circle cx="1161.34" cy="59.58" r="5.7"/>
<circle cx="1165.67" cy="63.22" r="5.7"/>
<circle cx="1174.35" cy="70.14" r="5.7"/>
<circle cx="1183.03" cy="75.97" r="5.7"/>
<circle cx="1191.7" cy="88.35" r="5.7"/>
<circle cx="1200.38" cy="93.45" r="5.7"/>
<circle cx="1209.05" cy="99.64" r="5.7"/>
<circle cx="1217.72" cy="109.47" r="5.7"/>
<circle cx="1226.4" cy="115.66" r="5.7"/>
<circle cx="1235.08" cy="132.42" r="5.7"/>
<circle cx="1243.75" cy="146.62" r="5.7"/>
<circle cx="1252.42" cy="167.74" r="5.7"/>
<circle cx="1261.1" cy="192.51" r="5.7"/>
<circle cx="1269.78" cy="225.65" r="5.7"/>
<circle cx="1278.45" cy="262.44" r="5.7"/>
<circle cx="1287.12" cy="315.25" r="5.7"/>
<circle cx="1295.8" cy="344.38" r="5.7"/>
<circle cx="1304.47" cy="378.98" r="5.7"/>
<circle cx="1313.15" cy="407.39" r="5.7"/>
<circle cx="1321.83" cy="415.4" r="5.7"/>
<circle cx="1330.5" cy="415.4" r="5.7"/>
<circle cx="1343.51" cy="415.4" r="5.7"/>
<circle cx="1356.53" cy="415.4" r="5.7"/>
<circle cx="1369.54" cy="415.4" r="5.7"/>
<circle cx="1382.55" cy="415.4" r="5.7"/>
<circle cx="1395.56" cy="415.4" r="5.7"/>
<circle cx="1408.58" cy="415.4" r="5.7"/>
<circle cx="1421.59" cy="415.4" r="5.7"/>
<circle cx="1434.6" cy="415.4" r="5.7"/>
<circle cx="1447.61" cy="415.4" r="5.7"/>
<circle cx="1460.62" cy="415.4" r="5.7"/>
<circle cx="1473.64" cy="415.4" r="5.7"/>
<circle cx="1486.65" cy="415.4" r="5.7"/>
<circle cx="1499.66" cy="415.4" r="5.7"/>
<circle cx="1512.67" cy="415.4" r="5.7"/>
<circle cx="1530.03" cy="415.4" r="5.7"/>
<circle cx="1547.38" cy="415.4" r="5.7"/>
<circle cx="1564.72" cy="415.4" r="5.7"/>
<circle cx="1582.08" cy="415.4" r="5.7"/>
<circle cx="1599.42" cy="415.4" r="5.7"/>
<g stroke-width="2.7" stroke-linejoin="round">
<path d="M1150.8 411.61H1163.2L1157 423.51Z"/>
<path d="M1154.7 411.61H1167.1L1160.9 423.51Z"/>
<path d="M1168.15 411.61H1180.55L1174.35 423.51Z"/>
<path d="M1176.83 388.3H1189.23L1183.03 400.2Z"/>
<path d="M1185.5 377.74H1197.9L1191.7 389.64Z"/>
<path d="M1194.17 370.09H1206.58L1200.38 381.99Z"/>
<path d="M1202.85 363.9H1215.25L1209.05 375.8Z"/>
<path d="M1211.52 355.88H1223.92L1217.72 367.78Z"/>
<path d="M1220.2 348.96H1232.6L1226.4 360.86Z"/>
<path d="M1228.88 329.66H1241.28L1235.08 341.56Z"/>
<path d="M1237.55 316.19H1249.95L1243.75 328.09Z"/>
<path d="M1246.22 296.16H1258.62L1252.42 308.06Z"/>
<path d="M1254.9 269.93H1267.3L1261.1 281.83Z"/>
<path d="M1263.58 237.88H1275.98L1269.78 249.78Z"/>
<path d="M1272.25 201.83H1284.65L1278.45 213.73Z"/>
<path d="M1280.92 151.57H1293.33L1287.12 163.47Z"/>
<path d="M1289.6 144.65H1302L1295.8 156.55Z"/>
<path d="M1298.27 121.34H1310.67L1304.47 133.24Z"/>
<path d="M1306.95 116.24H1319.35L1313.15 128.14Z"/>
<path d="M1315.62 152.3H1328.03L1321.83 164.2Z"/>
<path d="M1324.3 176.7H1336.7L1330.5 188.6Z"/>
<path d="M1337.31 214.94H1349.71L1343.51 226.84Z"/>
<path d="M1350.33 245.17H1362.73L1356.53 257.07Z"/>
<path d="M1363.34 279.4H1375.74L1369.54 291.3Z"/>
<path d="M1376.35 317.64H1388.75L1382.55 329.54Z"/>
<path d="M1389.36 342.77H1401.76L1395.56 354.67Z"/>
<path d="M1402.38 362.8H1414.78L1408.58 374.7Z"/>
<path d="M1415.39 375.19H1427.79L1421.59 387.09Z"/>
<path d="M1428.4 390.85H1440.8L1434.6 402.75Z"/>
<path d="M1441.41 392.67H1453.81L1447.61 404.57Z"/>
<path d="M1454.42 395.58H1466.83L1460.62 407.48Z"/>
<path d="M1467.44 402.14H1479.84L1473.64 414.04Z"/>
<path d="M1480.45 401.04H1492.85L1486.65 412.94Z"/>
<path d="M1493.46 402.87H1505.86L1499.66 414.77Z"/>
<path d="M1506.47 407.6H1518.88L1512.67 419.5Z"/>
</g>
<g stroke-width="2.7" stroke-linejoin="round">
<path fill="#000" d="M1523.83 410.15H1536.23L1530.03 422.05Z"/><path fill="#fff" stroke="none" d="M1527.83 413.4H1532.23L1530.03 418.4Z"/>
<path fill="#000" d="M1541.17 410.15H1553.58L1547.38 422.05Z"/><path fill="#fff" stroke="none" d="M1545.17 413.4H1549.58L1547.38 418.4Z"/>
<path fill="#000" d="M1558.52 410.15H1570.92L1564.72 422.05Z"/><path fill="#fff" stroke="none" d="M1562.52 413.4H1566.92L1564.72 418.4Z"/>
<path fill="#000" d="M1575.88 410.15H1588.28L1582.08 422.05Z"/><path fill="#fff" stroke="none" d="M1579.88 413.4H1584.28L1582.08 418.4Z"/>
<path fill="#000" d="M1593.22 410.15H1605.62L1599.42 422.05Z"/><path fill="#fff" stroke="none" d="M1597.22 413.4H1601.62L1599.42 418.4Z"/>
</g>
<rect x="1152.1" y="410.5" width="9.8" height="9.8"/>
<rect x="1153.83" y="410.5" width="9.8" height="9.8"/>
<rect x="1156.44" y="409.77" width="9.8" height="9.8"/>
<rect x="1160.77" y="408.68" width="9.8" height="9.8"/>
<rect x="1178.12" y="410.5" width="9.8" height="9.8"/>
<rect x="1195.47" y="410.5" width="9.8" height="9.8"/>
<rect x="1212.82" y="410.5" width="9.8" height="9.8"/>
<rect x="1230.17" y="410.5" width="9.8" height="9.8"/>
<rect x="1247.52" y="410.5" width="9.8" height="9.8"/>
<rect x="1264.88" y="410.5" width="9.8" height="9.8"/>
<rect x="1273.55" y="410.5" width="9.8" height="9.8"/>
<rect x="1282.22" y="410.5" width="9.8" height="9.8"/>
<rect x="1290.9" y="402.49" width="9.8" height="9.8"/>
<rect x="1299.57" y="382.82" width="9.8" height="9.8"/>
<rect x="1308.25" y="371.89" width="9.8" height="9.8"/>
<rect x="1316.92" y="308.89" width="9.8" height="9.8"/>
<rect x="1325.6" y="280.12" width="9.8" height="9.8"/>
<rect x="1338.61" y="242.97" width="9.8" height="9.8"/>
<rect x="1351.62" y="211.65" width="9.8" height="9.8"/>
<rect x="1364.64" y="178.14" width="9.8" height="9.8"/>
<rect x="1377.65" y="139.9" width="9.8" height="9.8"/>
<rect x="1390.66" y="115.13" width="9.8" height="9.8"/>
<rect x="1403.67" y="94.01" width="9.8" height="9.8"/>
<rect x="1416.69" y="82.72" width="9.8" height="9.8"/>
<rect x="1429.7" y="67.42" width="9.8" height="9.8"/>
<rect x="1442.71" y="64.87" width="9.8" height="9.8"/>
<rect x="1455.72" y="60.87" width="9.8" height="9.8"/>
<rect x="1468.74" y="55.77" width="9.8" height="9.8"/>
<rect x="1481.75" y="56.86" width="9.8" height="9.8"/>
<rect x="1494.76" y="53.22" width="9.8" height="9.8"/>
<rect x="1507.77" y="49.58" width="9.8" height="9.8"/>
<rect x="1525.12" y="46.3" width="9.8" height="9.8"/>
<rect x="1542.47" y="46.3" width="9.8" height="9.8"/>
<rect x="1559.82" y="46.3" width="9.8" height="9.8"/>
<rect x="1577.17" y="46.3" width="9.8" height="9.8"/>
<rect x="1594.52" y="46.3" width="9.8" height="9.8"/>
</g>
<g fill="none" stroke-width="2.1" stroke-linejoin="round"><path d="M1165.7 64.6L1167.4 65L1169.1 65.6L1170.9 66.3L1172.6 67.2L1174.3 68.1L1176.1 69L1177.8 70L1179.6 71L1181.3 72L1183 73.1L1184.8 74.3L1186.5 75.5L1188.2 76.7L1190 78L1191.7 79.3L1193.4 80.7L1195.2 82.1L1196.9 83.6L1198.6 85.1L1200.4 86.6L1202.1 88.2L1203.8 89.8L1205.6 91.5L1207.3 93.2L1209 95L1210.8 96.8L1212.5 98.7L1214.3 100.6L1216 102.6L1217.7 104.7L1219.5 106.9L1221.2 109.3L1222.9 111.7L1224.7 114.4L1226.4 117.3L1228.1 120.5L1229.9 123.9L1231.6 127.6L1233.3 131.5L1235.1 135.8L1236.8 140.2L1238.5 144.9L1240.3 149.7L1242 154.7L1243.8 159.9L1245.5 165.2L1247.2 170.6L1249 176.2L1250.7 182.2L1252.4 188.6L1254.2 195.4L1255.9 202.8L1257.6 210.5L1259.4 218.5L1261.1 226.6L1262.8 234.7L1264.6 242.6L1266.3 250.3L1268 258.1L1269.8 266.2L1271.5 274.6L1273.2 283.6L1275 293.3L1276.7 303.8L1278.5 315.1L1280.2 326.6L1281.9 337.8L1283.7 348.4L1285.4 358.3L1287.1 367.3L1288.9 375L1290.6 381.6L1292.3 387.3L1294.1 392.4L1295.8 397L1297.5 401L1299.3 404.3L1301 407.2L1302.7 409.5L1304.5 411.2L1306.2 412.5L1307.9 413.3L1309.7 413.9L1311.4 414.4L1313.2 414.7L1314.9 414.9L1316.6 415L1318.4 415.1L1320.1 415.2L1321.8 415.2L1323.6 415.3L1325.3 415.3L1327 415.4L1328.8 415.4L1330.5 415.4L1332.2 415.4L1334 415.4L1335.7 415.4L1337.4 415.4L1339.2 415.4L1340.9 415.4L1342.6 415.4L1344.4 415.4L1346.1 415.4L1347.9 415.4L1349.6 415.4L1351.3 415.4L1353.1 415.4L1354.8 415.4L1356.5 415.4L1358.3 415.4L1360 415.4L1361.7 415.4L1363.5 415.4L1365.2 415.4L1366.9 415.4L1368.7 415.4L1370.4 415.4L1372.1 415.4L1373.9 415.4L1375.6 415.4L1377.3 415.4L1379.1 415.4L1380.8 415.4L1382.5 415.4L1384.3 415.4L1386 415.4L1387.8 415.4L1389.5 415.4L1391.2 415.4L1393 415.4L1394.7 415.4L1396.4 415.4L1398.2 415.4L1399.9 415.4L1401.6 415.4L1403.4 415.4L1405.1 415.4L1406.8 415.4L1408.6 415.4L1410.3 415.4L1412 415.4L1413.8 415.4L1415.5 415.4L1417.2 415.4L1419 415.4L1420.7 415.4L1422.5 415.4L1424.2 415.4L1425.9 415.4L1427.7 415.4L1429.4 415.4L1431.1 415.4L1432.9 415.4L1434.6 415.4L1436.3 415.4L1438.1 415.4L1439.8 415.4L1441.5 415.4L1443.3 415.4L1445 415.4L1446.7 415.4L1448.5 415.4L1450.2 415.4L1452 415.4L1453.7 415.4L1455.4 415.4L1457.2 415.4L1458.9 415.4L1460.6 415.4L1462.4 415.4L1464.1 415.4L1465.8 415.4L1467.6 415.4L1469.3 415.4L1471 415.4L1472.8 415.4L1474.5 415.4L1476.2 415.4L1478 415.4L1479.7 415.4L1481.4 415.4L1483.2 415.4L1484.9 415.4L1486.7 415.4L1488.4 415.4L1490.1 415.4L1491.9 415.4L1493.6 415.4L1495.3 415.4L1497.1 415.4L1498.8 415.4L1500.5 415.4L1502.3 415.4L1504 415.4L1505.7 415.4L1507.5 415.4L1509.2 415.4L1510.9 415.4L1512.7 415.4L1514.4 415.4L1516.1 415.4L1517.9 415.4L1519.6 415.4L1521.3 415.4L1523.1 415.4L1524.8 415.4L1526.6 415.4L1528.3 415.4L1530 415.4L1531.8 415.4L1533.5 415.4L1535.2 415.4L1537 415.4L1538.7 415.4L1540.4 415.4L1542.2 415.4L1543.9 415.4L1545.6 415.4L1547.4 415.4L1549.1 415.4L1550.8 415.4L1552.6 415.4L1554.3 415.4L1556.1 415.4L1557.8 415.4L1559.5 415.4L1561.3 415.4L1563 415.4L1564.7 415.4L1566.5 415.4L1568.2 415.4L1569.9 415.4L1571.7 415.4L1573.4 415.4L1575.1 415.4L1576.9 415.4L1578.6 415.4L1580.3 415.4L1582.1 415.4L1583.8 415.4L1585.5 415.4L1587.3 415.4L1589 415.4L1590.8 415.4L1592.5 415.4L1594.2 415.4L1596 415.4L1597.7 415.4L1599.4 415.4L1601.2 415.4L1602.9 415.4L1604.6 415.4L1606.4 415.4L1608.1 415.4L1609.8 415.4L1611.6 415.4L1613.3 415.4L1615 415.4L1616.8 415.4L1618.5 415.4L1620.2 415.4L1622 415.4L1623.7 415.4L1625.5 415.4L1627.2 415.4L1628.9 415.4L1630.7 415.4L1632.4 415.4L1634.1 415.4L1635.9 415.4L1637.6 415.4L1639.3 415.4L1641.1 415.4L1642.8 415.4L1644.5 415.4L1646.3 415.4L1648 415.4L1649.7 415.4L1651.5 415.4L1653.2 415.4L1654.9 415.4L1656.7 415.4L1658.4 415.4L1660.2 415.4L1661.9 415.4L1663.6 415.4L1665.4 415.4L1667.1 415.4L1668.8 415.4L1670.6 415.4L1672.3 415.4L1674 415.4L1675.8 415.4L1677.5 415.4"/><path d="M1165.1 403.3L1166.8 402.9L1168.5 402.5L1170.3 401.9L1172 401.2L1173.7 400.5L1175.5 399.7L1177.2 398.8L1178.9 397.9L1180.7 397L1182.4 396L1184.2 395L1185.9 394L1187.6 392.9L1189.4 391.8L1191.1 390.7L1192.8 389.5L1194.6 388.2L1196.3 386.9L1198 385.5L1199.8 384.1L1201.5 382.5L1203.2 380.9L1205 379.3L1206.7 377.6L1208.4 375.9L1210.2 374.1L1211.9 372.3L1213.6 370.4L1215.4 368.4L1217.1 366.3L1218.9 364L1220.6 361.6L1222.3 358.9L1224.1 356L1225.8 352.9L1227.5 349.6L1229.3 346.1L1231 342.5L1232.7 338.7L1234.5 334.7L1236.2 330.6L1237.9 326.3L1239.7 321.7L1241.4 317L1243.1 312L1244.9 306.7L1246.6 301.3L1248.3 295.5L1250.1 289.6L1251.8 283.4L1253.6 276.9L1255.3 270.3L1257 263.6L1258.8 256.7L1260.5 249.7L1262.2 242.6L1264 235.4L1265.7 228.1L1267.4 220.7L1269.2 213.2L1270.9 205.5L1272.6 197.7L1274.4 189.7L1276.1 181.6L1277.8 173.4L1279.6 165.4L1281.3 157.8L1283 150.9L1284.8 144.7L1286.5 139.2L1288.3 134.4L1290 130.5L1291.7 127.4L1293.5 125L1295.2 123.2L1296.9 122.1L1298.7 121.4L1300.4 121.3L1302.1 121.7L1303.9 122.3L1305.6 123.1L1307.3 124.1L1309.1 125.3L1310.8 126.8L1312.5 128.6L1314.3 130.9L1316 133.5L1317.7 136.4L1319.5 139.4L1321.2 142.7L1323 146L1324.7 149.4L1326.4 152.7L1328.2 156L1329.9 159.4L1331.6 162.9L1333.4 166.5L1335.1 170.1L1336.8 173.8L1338.6 177.6L1340.3 181.5L1342 185.4L1343.8 189.4L1345.5 193.5L1347.2 197.7L1349 201.8L1350.7 205.9L1352.4 209.9L1354.2 213.7L1355.9 217.3L1357.7 220.8L1359.4 224.3L1361.1 227.7L1362.9 231.1L1364.6 234.6L1366.3 238.3L1368.1 242.1L1369.8 246.1L1371.5 250.2L1373.3 254.3L1375 258.4L1376.7 262.5L1378.5 266.6L1380.2 270.6L1381.9 274.5L1383.7 278.4L1385.4 282.2L1387.1 286L1388.9 289.8L1390.6 293.5L1392.4 297.2L1394.1 300.8L1395.8 304.3L1397.6 307.7L1399.3 310.8L1401 313.8L1402.8 316.6L1404.5 319.2L1406.2 321.8L1408 324.4L1409.7 327L1411.4 329.6L1413.2 332.3L1414.9 335L1416.6 337.7L1418.4 340.5L1420.1 343.3L1421.8 346.1L1423.6 348.9L1425.3 351.7L1427.1 354.5L1428.8 357.2L1430.5 359.9L1432.3 362.4L1434 364.8L1435.7 367L1437.5 369.2L1439.2 371.1L1440.9 373L1442.7 374.8L1444.4 376.4L1446.1 378L1447.9 379.6L1449.6 381L1451.3 382.4L1453.1 383.8L1454.8 385.1L1456.5 386.4L1458.3 387.6L1460 388.8L1461.8 390L1463.5 391.1L1465.2 392.1L1467 393.2L1468.7 394.2L1470.4 395.1L1472.2 396L1473.9 396.9L1475.6 397.7L1477.4 398.6L1479.1 399.3L1480.8 400.1L1482.6 400.8L1484.3 401.5L1486 402.1L1487.8 402.8L1489.5 403.4L1491.2 404L1493 404.5L1494.7 405L1496.5 405.5L1498.2 406L1499.9 406.5L1501.7 406.9L1503.4 407.4L1505.1 407.8L1506.9 408.2L1508.6 408.6L1510.3 409L1512.1 409.3L1513.8 409.6L1515.5 410L1517.3 410.3L1519 410.6L1520.7 410.9L1522.5 411.2L1524.2 411.5L1525.9 411.7L1527.7 412L1529.4 412.2L1531.2 412.4L1532.9 412.7L1534.6 412.9L1536.4 413.1L1538.1 413.3L1539.8 413.5L1541.6 413.7L1543.3 413.9L1545 414L1546.8 414.2L1548.5 414.3L1550.2 414.4L1552 414.5L1553.7 414.5L1555.4 414.6L1557.2 414.7L1558.9 414.8L1560.6 414.8L1562.4 414.9L1564.1 415L1565.9 415L1567.6 415.1L1569.3 415.1L1571.1 415.2L1572.8 415.2L1574.5 415.3L1576.3 415.3L1578 415.3L1579.7 415.4L1581.5 415.4L1583.2 415.4L1584.9 415.4L1586.7 415.4L1588.4 415.4L1590.1 415.4L1591.9 415.4L1593.6 415.4L1595.3 415.4L1597.1 415.4L1598.8 415.4L1600.6 415.4L1602.3 415.4L1604 415.4L1605.8 415.4L1607.5 415.4L1609.2 415.4L1611 415.4L1612.7 415.4L1614.4 415.4L1616.2 415.4L1617.9 415.4L1619.6 415.4L1621.4 415.4L1623.1 415.4L1624.8 415.4L1626.6 415.4L1628.3 415.4L1630 415.4L1631.8 415.4L1633.5 415.4L1635.3 415.4L1637 415.4L1638.7 415.4L1640.5 415.4L1642.2 415.4L1643.9 415.4L1645.7 415.4L1647.4 415.4L1649.1 415.4L1650.9 415.4L1652.6 415.4L1654.3 415.4L1656.1 415.4L1657.8 415.4L1659.5 415.4L1661.3 415.4L1663 415.4L1664.7 415.4L1666.5 415.4L1668.2 415.4L1670 415.4L1671.7 415.4L1673.4 415.4L1675.2 415.4L1676.9 415.4"/><path d="M1165.7 415.4L1167.4 415.4L1169.1 415.4L1170.9 415.4L1172.6 415.4L1174.3 415.4L1176.1 415.4L1177.8 415.4L1179.6 415.4L1181.3 415.4L1183 415.4L1184.8 415.4L1186.5 415.4L1188.2 415.4L1190 415.4L1191.7 415.4L1193.4 415.4L1195.2 415.4L1196.9 415.4L1198.6 415.4L1200.4 415.4L1202.1 415.4L1203.8 415.4L1205.6 415.4L1207.3 415.4L1209 415.4L1210.8 415.4L1212.5 415.4L1214.3 415.4L1216 415.4L1217.7 415.4L1219.5 415.4L1221.2 415.4L1222.9 415.4L1224.7 415.4L1226.4 415.4L1228.1 415.3L1229.9 415.3L1231.6 415.2L1233.3 415.1L1235.1 414.9L1236.8 414.7L1238.5 414.4L1240.3 414L1242 413.5L1243.8 412.9L1245.5 412.2L1247.2 411.4L1249 410.7L1250.7 409.8L1252.4 409L1254.2 408.1L1255.9 407.2L1257.6 406.2L1259.4 405.1L1261.1 403.9L1262.8 402.6L1264.6 401.2L1266.3 399.6L1268 398L1269.8 396.3L1271.5 394.4L1273.2 392.5L1275 390.5L1276.7 388.4L1278.5 386.3L1280.2 384L1281.9 381.7L1283.7 379.4L1285.4 377L1287.1 374.6L1288.9 372.1L1290.6 369.7L1292.3 367.4L1294.1 365L1295.8 362.7L1297.5 360.5L1299.3 358.3L1301 356L1302.7 353.8L1304.5 351.4L1306.2 349L1307.9 346.4L1309.7 343.8L1311.4 341L1313.2 338.2L1314.9 335.3L1316.6 332.3L1318.4 329.2L1320.1 326.1L1321.8 322.8L1323.6 319.5L1325.3 316L1327 312.4L1328.8 308.8L1330.5 305.1L1332.2 301.3L1334 297.4L1335.7 293.4L1337.4 289.5L1339.2 285.5L1340.9 281.5L1342.6 277.5L1344.4 273.5L1346.1 269.5L1347.9 265.7L1349.6 261.8L1351.3 258.2L1353.1 254.6L1354.8 251.3L1356.5 248.2L1358.3 245.2L1360 242.2L1361.7 239.2L1363.5 236L1365.2 232.7L1366.9 229.1L1368.7 225.2L1370.4 221.1L1372.1 216.9L1373.9 212.6L1375.6 208.3L1377.3 204.1L1379.1 199.9L1380.8 195.8L1382.5 191.8L1384.3 187.9L1386 184.1L1387.8 180.3L1389.5 176.6L1391.2 172.9L1393 169.3L1394.7 165.7L1396.4 162.2L1398.2 158.7L1399.9 155.2L1401.6 151.8L1403.4 148.4L1405.1 145.1L1406.8 141.7L1408.6 138.5L1410.3 135.2L1412 132.1L1413.8 129L1415.5 126.1L1417.2 123.2L1419 120.5L1420.7 117.9L1422.5 115.4L1424.2 113L1425.9 110.7L1427.7 108.4L1429.4 106.2L1431.1 104.1L1432.9 102L1434.6 100L1436.3 98.1L1438.1 96.2L1439.8 94.4L1441.5 92.6L1443.3 90.9L1445 89.2L1446.7 87.5L1448.5 85.9L1450.2 84.4L1452 82.9L1453.7 81.5L1455.4 80.1L1457.2 78.7L1458.9 77.4L1460.6 76.2L1462.4 75L1464.1 73.8L1465.8 72.7L1467.6 71.7L1469.3 70.8L1471 69.9L1472.8 69L1474.5 68.2L1476.2 67.4L1478 66.7L1479.7 66L1481.4 65.3L1483.2 64.6L1484.9 64L1486.7 63.4L1488.4 62.8L1490.1 62.2L1491.9 61.7L1493.6 61.1L1495.3 60.6L1497.1 60.1L1498.8 59.7L1500.5 59.2L1502.3 58.8L1504 58.4L1505.7 57.9L1507.5 57.6L1509.2 57.2L1510.9 56.8L1512.7 56.5L1514.4 56.2L1516.1 55.9L1517.9 55.6L1519.6 55.3L1521.3 55.1L1523.1 54.9L1524.8 54.7L1526.6 54.5L1528.3 54.3L1530 54.1L1531.8 53.9L1533.5 53.8L1535.2 53.6L1537 53.5L1538.7 53.3L1540.4 53.2L1542.2 53.1L1543.9 53L1545.6 52.9L1547.4 52.8L1549.1 52.7L1550.8 52.6L1552.6 52.5L1554.3 52.4L1556.1 52.3L1557.8 52.3L1559.5 52.2L1561.3 52.1L1563 52.1L1564.7 52L1566.5 52L1568.2 51.9L1569.9 51.9L1571.7 51.8L1573.4 51.8L1575.1 51.8L1576.9 51.7L1578.6 51.7L1580.3 51.7L1582.1 51.6L1583.8 51.6L1585.5 51.6L1587.3 51.6L1589 51.5L1590.8 51.5L1592.5 51.5L1594.2 51.5L1596 51.5L1597.7 51.4L1599.4 51.4L1601.2 51.4L1602.9 51.4L1604.6 51.4L1606.4 51.4L1608.1 51.4L1609.8 51.4L1611.6 51.4L1613.3 51.3L1615 51.3L1616.8 51.3L1618.5 51.3L1620.2 51.3L1622 51.3L1623.7 51.3L1625.5 51.3L1627.2 51.3L1628.9 51.3L1630.7 51.3L1632.4 51.3L1634.1 51.3L1635.9 51.3L1637.6 51.3L1639.3 51.3L1641.1 51.3L1642.8 51.2L1644.5 51.2L1646.3 51.2L1648 51.2L1649.7 51.2L1651.5 51.2L1653.2 51.2L1654.9 51.2L1656.7 51.2L1658.4 51.2L1660.2 51.2L1661.9 51.2L1663.6 51.2L1665.4 51.2L1667.1 51.2L1668.8 51.2L1670.6 51.2L1672.3 51.2L1674 51.2L1675.8 51.2L1677.5 51.2"/></g>
</g>
<g id="c2" stroke="#000">
<g fill="#fff" stroke-width="2.7" stroke-linejoin="miter">
<circle cx="1157" cy="488.65" r="5.7"/>
<circle cx="1157.87" cy="487.56" r="5.7"/>
<circle cx="1159.6" cy="488.65" r="5.7"/>
<circle cx="1163.07" cy="488.65" r="5.7"/>
<circle cx="1169.14" cy="489.38" r="5.7"/>
<circle cx="1175.22" cy="490.47" r="5.7"/>
<circle cx="1182.16" cy="491.93" r="5.7"/>
<circle cx="1189.1" cy="494.47" r="5.7"/>
<circle cx="1196.04" cy="492.29" r="5.7"/>
<circle cx="1202.11" cy="494.47" r="5.7"/>
<circle cx="1209.05" cy="496.66" r="5.7"/>
<circle cx="1215.12" cy="497.75" r="5.7"/>
<circle cx="1222.06" cy="499.21" r="5.7"/>
<circle cx="1229" cy="501.76" r="5.7"/>
<circle cx="1235.94" cy="502.12" r="5.7"/>
<circle cx="1242.02" cy="506.85" r="5.7"/>
<circle cx="1249.82" cy="510.49" r="5.7"/>
<circle cx="1255.89" cy="519.23" r="5.7"/>
<circle cx="1262.84" cy="526.15" r="5.7"/>
<circle cx="1269.78" cy="532.34" r="5.7"/>
<circle cx="1275.85" cy="539.98" r="5.7"/>
<circle cx="1282.79" cy="548.72" r="5.7"/>
<circle cx="1288.86" cy="566.56" r="5.7"/>
<circle cx="1298.4" cy="598.23" r="5.7"/>
<circle cx="1308.81" cy="632.09" r="5.7"/>
<circle cx="1318.36" cy="667.4" r="5.7"/>
<circle cx="1328.76" cy="722.01" r="5.7"/>
<circle cx="1339.17" cy="767.15" r="5.7"/>
<circle cx="1347.85" cy="806.83" r="5.7"/>
<circle cx="1358.26" cy="837.77" r="5.7"/>
<circle cx="1367.8" cy="852.7" r="5.7"/>
<circle cx="1378.21" cy="852.7" r="5.7"/>
<circle cx="1387.76" cy="852.7" r="5.7"/>
<circle cx="1398.16" cy="852.7" r="5.7"/>
<circle cx="1407.71" cy="852.7" r="5.7"/>
<circle cx="1417.25" cy="852.7" r="5.7"/>
<circle cx="1427.66" cy="852.7" r="5.7"/>
<circle cx="1453.68" cy="852.7" r="5.7"/>
<circle cx="1480.58" cy="852.7" r="5.7"/>
<circle cx="1506.6" cy="852.7" r="5.7"/>
<circle cx="1546.51" cy="852.7" r="5.7"/>
<circle cx="1595.09" cy="852.7" r="5.7"/>
<g stroke-width="2.7" stroke-linejoin="round">
<path d="M1150.8 847.81H1163.2L1157 859.71Z"/>
<path d="M1151.67 847.81H1164.07L1157.87 859.71Z"/>
<path d="M1153.4 847.81H1165.8L1159.6 859.71Z"/>
<path d="M1156.87 847.81H1169.27L1163.07 859.71Z"/>
<path d="M1162.94 847.81H1175.35L1169.14 859.71Z"/>
<path d="M1169.02 847.81H1181.42L1175.22 859.71Z"/>
<path d="M1175.96 847.81H1188.36L1182.16 859.71Z"/>
<path d="M1182.9 847.81H1195.3L1189.1 859.71Z"/>
<path d="M1189.84 847.81H1202.24L1196.04 859.71Z"/>
<path d="M1195.91 847.81H1208.31L1202.11 859.71Z"/>
<path d="M1202.85 847.81H1215.25L1209.05 859.71Z"/>
<path d="M1208.92 847.81H1221.32L1215.12 859.71Z"/>
<path d="M1215.86 847.81H1228.26L1222.06 859.71Z"/>
<path d="M1222.8 847.81H1235.2L1229 859.71Z"/>
<path d="M1229.74 847.81H1242.14L1235.94 859.71Z"/>
<path d="M1235.82 847.81H1248.22L1242.02 859.71Z"/>
<path d="M1243.62 847.81H1256.02L1249.82 859.71Z"/>
<path d="M1248.83 834.71H1261.23L1255.03 846.61Z"/>
<path d="M1253.6 823.79H1266L1259.8 835.69Z"/>
<path d="M1262.71 824.51H1275.11L1268.91 836.41Z"/>
<path d="M1269.65 807.77H1282.05L1275.85 819.67Z"/>
<path d="M1276.59 816.14H1288.99L1282.79 828.04Z"/>
<path d="M1282.66 766.99H1295.06L1288.86 778.89Z"/>
<path d="M1291.77 747.34H1304.17L1297.97 759.24Z"/>
<path d="M1301.74 717.85H1314.14L1307.94 729.75Z"/>
<path d="M1312.15 704.74H1324.56L1318.36 716.64Z"/>
<path d="M1321.7 679.62H1334.1L1327.9 691.52Z"/>
<path d="M1332.11 669.43H1344.51L1338.31 681.33Z"/>
<path d="M1342.52 666.52H1354.92L1348.72 678.42Z"/>
<path d="M1352.06 645.4H1364.46L1358.26 657.3Z"/>
<path d="M1361.6 663.6H1374L1367.8 675.5Z"/>
<path d="M1372.01 716.76H1384.41L1378.21 728.66Z"/>
<path d="M1381.56 742.97H1393.96L1387.76 754.87Z"/>
<path d="M1391.96 757.53H1404.37L1398.16 769.43Z"/>
<path d="M1401.51 767.72H1413.91L1407.71 779.62Z"/>
<path d="M1411.05 776.1H1423.45L1417.25 788Z"/>
<path d="M1421.46 779.01H1433.86L1427.66 790.91Z"/>
<path d="M1447.48 798.3H1459.88L1453.68 810.2Z"/>
<path d="M1474.38 809.59H1486.78L1480.58 821.49Z"/>
<path d="M1500.4 823.79H1512.8L1506.6 835.69Z"/>
<path d="M1540.31 844.9H1552.71L1546.51 856.8Z"/>
</g>
<g stroke-width="2.7" stroke-linejoin="round">
<path fill="#000" d="M1588.89 847.45H1601.29L1595.09 859.35Z"/><path fill="#fff" stroke="none" d="M1592.89 850.7H1597.29L1595.09 855.7Z"/>
</g>
<rect x="1152.1" y="847.8" width="9.8" height="9.8"/>
<rect x="1152.97" y="847.8" width="9.8" height="9.8"/>
<rect x="1154.7" y="847.8" width="9.8" height="9.8"/>
<rect x="1158.17" y="847.8" width="9.8" height="9.8"/>
<rect x="1164.24" y="847.8" width="9.8" height="9.8"/>
<rect x="1170.32" y="847.8" width="9.8" height="9.8"/>
<rect x="1177.26" y="847.8" width="9.8" height="9.8"/>
<rect x="1184.2" y="847.8" width="9.8" height="9.8"/>
<rect x="1191.14" y="847.8" width="9.8" height="9.8"/>
<rect x="1197.21" y="847.8" width="9.8" height="9.8"/>
<rect x="1204.15" y="847.8" width="9.8" height="9.8"/>
<rect x="1210.22" y="847.8" width="9.8" height="9.8"/>
<rect x="1217.16" y="847.8" width="9.8" height="9.8"/>
<rect x="1224.1" y="847.8" width="9.8" height="9.8"/>
<rect x="1231.04" y="847.8" width="9.8" height="9.8"/>
<rect x="1237.12" y="847.8" width="9.8" height="9.8"/>
<rect x="1244.92" y="847.8" width="9.8" height="9.8"/>
<rect x="1250.99" y="847.8" width="9.8" height="9.8"/>
<rect x="1257.93" y="847.8" width="9.8" height="9.8"/>
<rect x="1264.88" y="847.8" width="9.8" height="9.8"/>
<rect x="1270.95" y="847.8" width="9.8" height="9.8"/>
<rect x="1277.89" y="847.8" width="9.8" height="9.8"/>
<rect x="1283.96" y="847.8" width="9.8" height="9.8"/>
<rect x="1293.5" y="839.79" width="9.8" height="9.8"/>
<rect x="1303.91" y="834.33" width="9.8" height="9.8"/>
<rect x="1313.45" y="812.49" width="9.8" height="9.8"/>
<rect x="1323.86" y="783.36" width="9.8" height="9.8"/>
<rect x="1334.27" y="746.96" width="9.8" height="9.8"/>
<rect x="1343.82" y="712.01" width="9.8" height="9.8"/>
<rect x="1354.23" y="700.36" width="9.8" height="9.8"/>
<rect x="1363.77" y="667.96" width="9.8" height="9.8"/>
<rect x="1373.31" y="615.17" width="9.8" height="9.8"/>
<rect x="1382.86" y="589.69" width="9.8" height="9.8"/>
<rect x="1393.26" y="573.31" width="9.8" height="9.8"/>
<rect x="1402.81" y="563.84" width="9.8" height="9.8"/>
<rect x="1412.35" y="554.74" width="9.8" height="9.8"/>
<rect x="1422.76" y="552.19" width="9.8" height="9.8"/>
<rect x="1448.78" y="533.99" width="9.8" height="9.8"/>
<rect x="1475.68" y="522.7" width="9.8" height="9.8"/>
<rect x="1501.7" y="508.87" width="9.8" height="9.8"/>
<rect x="1541.61" y="491.76" width="9.8" height="9.8"/>
<rect x="1590.19" y="488.85" width="9.8" height="9.8"/>
</g>
<g fill="none" stroke-width="2.1" stroke-linejoin="round"><path d="M1161.3 488.6L1163.1 488.9L1164.8 489.2L1166.5 489.5L1168.3 489.8L1170 490.1L1171.7 490.4L1173.5 490.7L1175.2 491L1177 491.3L1178.7 491.6L1180.4 491.9L1182.2 492.1L1183.9 492.4L1185.6 492.7L1187.4 493L1189.1 493.3L1190.8 493.5L1192.6 493.8L1194.3 494.1L1196 494.3L1197.8 494.6L1199.5 494.9L1201.2 495.2L1203 495.5L1204.7 495.8L1206.4 496.1L1208.2 496.5L1209.9 496.8L1211.7 497.2L1213.4 497.6L1215.1 498L1216.9 498.4L1218.6 498.8L1220.3 499.3L1222.1 499.7L1223.8 500.2L1225.5 500.7L1227.3 501.2L1229 501.8L1230.7 502.4L1232.5 503L1234.2 503.6L1235.9 504.3L1237.7 505L1239.4 505.9L1241.1 506.8L1242.9 507.8L1244.6 508.8L1246.4 509.9L1248.1 511.1L1249.8 512.3L1251.6 513.5L1253.3 514.8L1255 516.1L1256.8 517.5L1258.5 519L1260.2 520.5L1262 522.2L1263.7 523.9L1265.4 525.7L1267.2 527.5L1268.9 529.5L1270.6 531.6L1272.4 533.8L1274.1 536.1L1275.8 538.7L1277.6 541.4L1279.3 544.3L1281.1 547.3L1282.8 550.5L1284.5 554L1286.3 557.7L1288 561.8L1289.7 566.2L1291.5 571L1293.2 576.1L1294.9 582.4L1296.7 589.7L1298.4 596.7L1300.1 602.4L1301.9 607.5L1303.6 612.6L1305.3 618.2L1307.1 624.3L1308.8 631L1310.5 638.7L1312.3 647.4L1314 656L1315.8 664L1317.5 672.9L1319.2 684.3L1321 696.8L1322.7 708.6L1324.4 720.4L1326.2 731.9L1327.9 743L1329.6 754L1331.4 765.8L1333.1 778.4L1334.8 789.6L1336.6 799.7L1338.3 808.7L1340 816.6L1341.8 823.5L1343.5 829.8L1345.2 835.8L1347 840.7L1348.7 843.8L1350.5 846.2L1352.2 847.9L1353.9 849.2L1355.7 850.3L1357.4 851.2L1359.1 851.8L1360.9 852.1L1362.6 852.3L1364.3 852.5L1366.1 852.6L1367.8 852.7L1369.5 852.7L1371.3 852.7L1373 852.7L1374.7 852.7L1376.5 852.7L1378.2 852.7L1379.9 852.7L1381.7 852.7L1383.4 852.7L1385.2 852.7L1386.9 852.7L1388.6 852.7L1390.4 852.7L1392.1 852.7L1393.8 852.7L1395.6 852.7L1397.3 852.7L1399 852.7L1400.8 852.7L1402.5 852.7L1404.2 852.7L1406 852.7L1407.7 852.7L1409.4 852.7L1411.2 852.7L1412.9 852.7L1414.6 852.7L1416.4 852.7L1418.1 852.7L1419.9 852.7L1421.6 852.7L1423.3 852.7L1425.1 852.7L1426.8 852.7L1428.5 852.7L1430.3 852.7L1432 852.7L1433.7 852.7L1435.5 852.7L1437.2 852.7L1438.9 852.7L1440.7 852.7L1442.4 852.7L1444.1 852.7L1445.9 852.7L1447.6 852.7L1449.3 852.7L1451.1 852.7L1452.8 852.7L1454.6 852.7L1456.3 852.7L1458 852.7L1459.8 852.7L1461.5 852.7L1463.2 852.7L1465 852.7L1466.7 852.7L1468.4 852.7L1470.2 852.7L1471.9 852.7L1473.6 852.7L1475.4 852.7L1477.1 852.7L1478.8 852.7L1480.6 852.7L1482.3 852.7L1484 852.7L1485.8 852.7L1487.5 852.7L1489.3 852.7L1491 852.7L1492.7 852.7L1494.5 852.7L1496.2 852.7L1497.9 852.7L1499.7 852.7L1501.4 852.7L1503.1 852.7L1504.9 852.7L1506.6 852.7L1508.3 852.7L1510.1 852.7L1511.8 852.7L1513.5 852.7L1515.3 852.7L1517 852.7L1518.7 852.7L1520.5 852.7L1522.2 852.7L1524 852.7L1525.7 852.7L1527.4 852.7L1529.2 852.7L1530.9 852.7L1532.6 852.7L1534.4 852.7L1536.1 852.7L1537.8 852.7L1539.6 852.7L1541.3 852.7L1543 852.7L1544.8 852.7L1546.5 852.7L1548.2 852.7L1550 852.7L1551.7 852.7L1553.4 852.7L1555.2 852.7L1556.9 852.7L1558.7 852.7L1560.4 852.7L1562.1 852.7L1563.9 852.7L1565.6 852.7L1567.3 852.7L1569.1 852.7L1570.8 852.7L1572.5 852.7L1574.3 852.7L1576 852.7L1577.7 852.7L1579.5 852.7L1581.2 852.7L1582.9 852.7L1584.7 852.7L1586.4 852.7L1588.1 852.7L1589.9 852.7L1591.6 852.7L1593.4 852.7L1595.1 852.7L1596.8 852.7L1598.6 852.7L1600.3 852.7L1602 852.7L1603.8 852.7L1605.5 852.7L1607.2 852.7L1609 852.7L1610.7 852.7L1612.4 852.7L1614.2 852.7L1615.9 852.7L1617.6 852.7L1619.4 852.7L1621.1 852.7L1622.8 852.7L1624.6 852.7L1626.3 852.7L1628.1 852.7L1629.8 852.7L1631.5 852.7L1633.3 852.7L1635 852.7L1636.7 852.7L1638.5 852.7L1640.2 852.7L1641.9 852.7L1643.7 852.7L1645.4 852.7L1647.1 852.7L1648.9 852.7L1650.6 852.7L1652.3 852.7L1654.1 852.7L1655.8 852.7L1657.5 852.7L1659.3 852.7L1661 852.7L1662.8 852.7L1664.5 852.7L1666.2 852.7L1668 852.7L1669.7 852.7L1671.4 852.7L1673.2 852.7L1674.9 852.7L1676.6 852.7"/><path d="M1161.3 852.7L1163.1 852.5L1164.8 852.3L1166.5 852.1L1168.3 851.8L1170 851.6L1171.7 851.3L1173.5 851L1175.2 850.7L1177 850.4L1178.7 850L1180.4 849.6L1182.2 849.2L1183.9 848.7L1185.6 848.3L1187.4 847.8L1189.1 847.4L1190.8 847L1192.6 846.6L1194.3 846.2L1196 845.9L1197.8 845.6L1199.5 845.3L1201.2 845L1203 844.7L1204.7 844.4L1206.4 844L1208.2 843.7L1209.9 843.3L1211.7 842.8L1213.4 842.3L1215.1 841.8L1216.9 841.2L1218.6 840.5L1220.3 839.8L1222.1 839.1L1223.8 838.3L1225.5 837.5L1227.3 836.7L1229 835.9L1230.7 835.1L1232.5 834.3L1234.2 833.4L1235.9 832.5L1237.7 831.6L1239.4 830.7L1241.1 829.7L1242.9 828.7L1244.6 827.7L1246.4 826.6L1248.1 825.6L1249.8 824.5L1251.6 823.4L1253.3 822.3L1255 821.1L1256.8 819.8L1258.5 818.4L1260.2 816.8L1262 815.1L1263.7 813.2L1265.4 811.3L1267.2 809.4L1268.9 807.4L1270.6 805.5L1272.4 803.4L1274.1 801.3L1275.8 799L1277.6 796.6L1279.3 794.1L1281.1 791.5L1282.8 788.7L1284.5 785.8L1286.3 782.8L1288 779.5L1289.7 776.1L1291.5 772.5L1293.2 768.7L1294.9 765L1296.7 761.1L1298.4 757.2L1300.1 753.1L1301.9 748.9L1303.6 744.6L1305.3 740.1L1307.1 735.4L1308.8 730.4L1310.5 725.4L1312.3 720.4L1314 715.6L1315.8 710.9L1317.5 706.4L1319.2 701.7L1321 696.7L1322.7 691.1L1324.4 685L1326.2 678.8L1327.9 672.8L1329.6 667.2L1331.4 661.9L1333.1 657L1334.8 652.5L1336.6 648.1L1338.3 644.7L1340 643.1L1341.8 641.7L1343.5 640.7L1345.2 640L1347 639.7L1348.7 640.7L1350.5 643.2L1352.2 646.2L1353.9 648.9L1355.7 651.8L1357.4 654.9L1359.1 658.2L1360.9 661.4L1362.6 664.7L1364.3 668L1366.1 671.6L1367.8 675.5L1369.5 679.9L1371.3 685L1373 690.3L1374.7 695.7L1376.5 700.9L1378.2 705.8L1379.9 710L1381.7 714L1383.4 717.8L1385.2 721.5L1386.9 725.1L1388.6 728.7L1390.4 732.4L1392.1 736.1L1393.8 739.6L1395.6 743L1397.3 746.2L1399 749.2L1400.8 752L1402.5 754.7L1404.2 757.3L1406 759.9L1407.7 762.5L1409.4 765.2L1411.2 768.1L1412.9 770.9L1414.6 773.8L1416.4 776.6L1418.1 779.2L1419.9 781.8L1421.6 784.2L1423.3 786.6L1425.1 788.9L1426.8 791.2L1428.5 793.4L1430.3 795.6L1432 797.8L1433.7 800L1435.5 802L1437.2 803.9L1438.9 805.7L1440.7 807.5L1442.4 809.2L1444.1 810.9L1445.9 812.5L1447.6 814.1L1449.3 815.6L1451.1 817.1L1452.8 818.5L1454.6 819.8L1456.3 821L1458 822.2L1459.8 823.4L1461.5 824.5L1463.2 825.5L1465 826.5L1466.7 827.5L1468.4 828.5L1470.2 829.4L1471.9 830.3L1473.6 831.2L1475.4 832.1L1477.1 833L1478.8 833.9L1480.6 834.8L1482.3 835.6L1484 836.4L1485.8 837.2L1487.5 838L1489.3 838.7L1491 839.4L1492.7 840L1494.5 840.5L1496.2 841L1497.9 841.5L1499.7 842L1501.4 842.4L1503.1 842.9L1504.9 843.3L1506.6 843.7L1508.3 844L1510.1 844.4L1511.8 844.8L1513.5 845.1L1515.3 845.5L1517 845.8L1518.7 846.1L1520.5 846.5L1522.2 846.8L1524 847.1L1525.7 847.4L1527.4 847.6L1529.2 847.9L1530.9 848.1L1532.6 848.3L1534.4 848.5L1536.1 848.7L1537.8 848.9L1539.6 849L1541.3 849.2L1543 849.3L1544.8 849.5L1546.5 849.6L1548.2 849.8L1550 849.9L1551.7 850L1553.4 850.1L1555.2 850.2L1556.9 850.4L1558.7 850.5L1560.4 850.6L1562.1 850.7L1563.9 850.8L1565.6 850.9L1567.3 851L1569.1 851.1L1570.8 851.2L1572.5 851.2L1574.3 851.3L1576 851.4L1577.7 851.5L1579.5 851.6L1581.2 851.6L1582.9 851.7L1584.7 851.8L1586.4 851.8L1588.1 851.9L1589.9 851.9L1591.6 852L1593.4 852.1L1595.1 852.1L1596.8 852.2L1598.6 852.2L1600.3 852.3L1602 852.3L1603.8 852.4L1605.5 852.4L1607.2 852.5L1609 852.5L1610.7 852.6L1612.4 852.6L1614.2 852.6L1615.9 852.7L1617.6 852.7L1619.4 852.7L1621.1 852.7L1622.8 852.7L1624.6 852.7L1626.3 852.7L1628.1 852.7L1629.8 852.7L1631.5 852.7L1633.3 852.7L1635 852.7L1636.7 852.7L1638.5 852.7L1640.2 852.7L1641.9 852.7L1643.7 852.7L1645.4 852.7L1647.1 852.7L1648.9 852.7L1650.6 852.7L1652.3 852.7L1654.1 852.7L1655.8 852.7L1657.5 852.7L1659.3 852.7L1661 852.7L1662.8 852.7L1664.5 852.7L1666.2 852.7L1668 852.7L1669.7 852.7L1671.4 852.7L1673.2 852.7L1674.9 852.7L1676.6 852.7"/><path d="M1161.3 852.7L1163.1 852.7L1164.8 852.7L1166.5 852.7L1168.3 852.7L1170 852.7L1171.7 852.7L1173.5 852.7L1175.2 852.7L1177 852.7L1178.7 852.7L1180.4 852.7L1182.2 852.7L1183.9 852.7L1185.6 852.7L1187.4 852.7L1189.1 852.7L1190.8 852.7L1192.6 852.7L1194.3 852.7L1196 852.7L1197.8 852.7L1199.5 852.7L1201.2 852.7L1203 852.7L1204.7 852.7L1206.4 852.7L1208.2 852.7L1209.9 852.7L1211.7 852.7L1213.4 852.7L1215.1 852.7L1216.9 852.7L1218.6 852.7L1220.3 852.7L1222.1 852.7L1223.8 852.7L1225.5 852.7L1227.3 852.7L1229 852.7L1230.7 852.7L1232.5 852.7L1234.2 852.7L1235.9 852.7L1237.7 852.7L1239.4 852.7L1241.1 852.7L1242.9 852.7L1244.6 852.7L1246.4 852.7L1248.1 852.7L1249.8 852.7L1251.6 852.7L1253.3 852.7L1255 852.5L1256.8 852.2L1258.5 851.9L1260.2 851.4L1262 851L1263.7 850.4L1265.4 849.7L1267.2 849L1268.9 848.4L1270.6 847.8L1272.4 847.3L1274.1 846.7L1275.8 846.2L1277.6 845.6L1279.3 845.1L1281.1 844.6L1282.8 844L1284.5 843.4L1286.3 842.7L1288 841.8L1289.7 840.8L1291.5 839.7L1293.2 838.4L1294.9 837.1L1296.7 835.5L1298.4 833.8L1300.1 831.8L1301.9 829.7L1303.6 827.4L1305.3 824.8L1307.1 821.8L1308.8 818.4L1310.5 814.7L1312.3 810.8L1314 806.7L1315.8 802.4L1317.5 797.7L1319.2 792.8L1321 787.7L1322.7 782.4L1324.4 777L1326.2 771.2L1327.9 765.2L1329.6 759.1L1331.4 753L1333.1 747.1L1334.8 741L1336.6 734.9L1338.3 728.9L1340 723.2L1341.8 717.9L1343.5 712.9L1345.2 708.2L1347 703.6L1348.7 699.4L1350.5 695.3L1352.2 691.5L1353.9 687.9L1355.7 684.5L1357.4 681.2L1359.1 678L1360.9 674.9L1362.6 672L1364.3 669.2L1366.1 666.4L1367.8 663.4L1369.5 660.1L1371.3 656.4L1373 652.3L1374.7 648L1376.5 643.5L1378.2 639.2L1379.9 634.9L1381.7 630.7L1383.4 626.4L1385.2 622.1L1386.9 618L1388.6 613.9L1390.4 609.9L1392.1 605.9L1393.8 602L1395.6 598.3L1397.3 595L1399 591.9L1400.8 589.1L1402.5 586.5L1404.2 584L1406 581.4L1407.7 578.8L1409.4 576.1L1411.2 573.2L1412.9 570.3L1414.6 567.3L1416.4 564.3L1418.1 561.4L1419.9 558.7L1421.6 555.9L1423.3 553.2L1425.1 550.6L1426.8 548.1L1428.5 545.7L1430.3 543.5L1432 541.4L1433.7 539.4L1435.5 537.5L1437.2 535.6L1438.9 533.8L1440.7 532.1L1442.4 530.4L1444.1 528.7L1445.9 527.1L1447.6 525.5L1449.3 524L1451.1 522.5L1452.8 521.1L1454.6 519.8L1456.3 518.5L1458 517.3L1459.8 516.1L1461.5 514.9L1463.2 513.8L1465 512.7L1466.7 511.7L1468.4 510.7L1470.2 509.7L1471.9 508.8L1473.6 507.9L1475.4 507.1L1477.1 506.3L1478.8 505.5L1480.6 504.8L1482.3 504L1484 503.3L1485.8 502.7L1487.5 502L1489.3 501.4L1491 500.8L1492.7 500.3L1494.5 499.8L1496.2 499.3L1497.9 498.8L1499.7 498.3L1501.4 497.8L1503.1 497.4L1504.9 497L1506.6 496.6L1508.3 496.2L1510.1 495.8L1511.8 495.5L1513.5 495.2L1515.3 494.9L1517 494.6L1518.7 494.3L1520.5 494L1522.2 493.7L1524 493.5L1525.7 493.2L1527.4 493L1529.2 492.8L1530.9 492.6L1532.6 492.3L1534.4 492.1L1536.1 491.9L1537.8 491.7L1539.6 491.6L1541.3 491.4L1543 491.2L1544.8 491.1L1546.5 491L1548.2 490.9L1550 490.8L1551.7 490.7L1553.4 490.6L1555.2 490.6L1556.9 490.5L1558.7 490.4L1560.4 490.4L1562.1 490.3L1563.9 490.3L1565.6 490.2L1567.3 490.2L1569.1 490.1L1570.8 490.1L1572.5 490L1574.3 490L1576 490L1577.7 489.9L1579.5 489.9L1581.2 489.8L1582.9 489.8L1584.7 489.8L1586.4 489.7L1588.1 489.7L1589.9 489.6L1591.6 489.6L1593.4 489.6L1595.1 489.5L1596.8 489.5L1598.6 489.4L1600.3 489.4L1602 489.4L1603.8 489.3L1605.5 489.3L1607.2 489.3L1609 489.2L1610.7 489.2L1612.4 489.2L1614.2 489.1L1615.9 489.1L1617.6 489.1L1619.4 489.1L1621.1 489L1622.8 489L1624.6 489L1626.3 489L1628.1 489L1629.8 488.9L1631.5 488.9L1633.3 488.9L1635 488.9L1636.7 488.9L1638.5 488.9L1640.2 488.8L1641.9 488.8L1643.7 488.8L1645.4 488.8L1647.1 488.8L1648.9 488.8L1650.6 488.8L1652.3 488.7L1654.1 488.7L1655.8 488.7L1657.5 488.7L1659.3 488.7L1661 488.7L1662.8 488.7L1664.5 488.7L1666.2 488.7L1668 488.7L1669.7 488.7L1671.4 488.7L1673.2 488.7L1674.9 488.7L1676.6 488.7"/></g>
</g>
<g id="c3" stroke="#000">
<g fill="none" stroke-width="2.1" stroke-linejoin="round"><path d="M1161.3 925.9L1163.1 925.9L1164.8 926L1166.5 926L1168.3 926L1170 926L1171.7 926L1173.5 926.1L1175.2 926.1L1177 926.1L1178.7 926.1L1180.4 926.2L1182.2 926.2L1183.9 926.2L1185.6 926.3L1187.4 926.3L1189.1 926.4L1190.8 926.4L1192.6 926.5L1194.3 926.5L1196 926.5L1197.8 926.6L1199.5 926.6L1201.2 926.7L1203 926.7L1204.7 926.8L1206.4 926.8L1208.2 926.9L1209.9 927L1211.7 927L1213.4 927.1L1215.1 927.2L1216.9 927.2L1218.6 927.3L1220.3 927.4L1222.1 927.5L1223.8 927.6L1225.5 927.7L1227.3 927.8L1229 927.9L1230.7 928L1232.5 928.1L1234.2 928.2L1235.9 928.3L1237.7 928.4L1239.4 928.5L1241.1 928.7L1242.9 928.8L1244.6 928.9L1246.4 929.1L1248.1 929.3L1249.8 929.5L1251.6 929.7L1253.3 929.9L1255 930.1L1256.8 930.3L1258.5 930.6L1260.2 930.9L1262 931.1L1263.7 931.4L1265.4 931.7L1267.2 932L1268.9 932.4L1270.6 932.7L1272.4 933.1L1274.1 933.4L1275.8 933.8L1277.6 934.2L1279.3 934.7L1281.1 935.2L1282.8 935.6L1284.5 936.1L1286.3 936.6L1288 937.2L1289.7 937.7L1291.5 938.3L1293.2 938.9L1294.9 939.5L1296.7 940.2L1298.4 940.9L1300.1 941.6L1301.9 942.3L1303.6 943.1L1305.3 943.9L1307.1 944.8L1308.8 945.8L1310.5 947L1312.3 948.3L1314 949.9L1315.8 951.8L1317.5 953.8L1319.2 956.1L1321 958.6L1322.7 961.1L1324.4 963.8L1326.2 966.6L1327.9 969.4L1329.6 972.3L1331.4 975.4L1333.1 978.6L1334.8 982.1L1336.6 985.7L1338.3 989.6L1340 993.7L1341.8 998.2L1343.5 1002.9L1345.2 1007.9L1347 1013.3L1348.7 1018.9L1350.5 1024.8L1352.2 1031.1L1353.9 1037.8L1355.7 1045L1357.4 1052.8L1359.1 1061L1360.9 1069.9L1362.6 1079.3L1364.3 1089.4L1366.1 1100L1367.8 1111.2L1369.5 1122.9L1371.3 1135.2L1373 1148.2L1374.7 1161.8L1376.5 1175.9L1378.2 1190.3L1379.9 1204.5L1381.7 1218L1383.4 1230.7L1385.2 1242L1386.9 1251.8L1388.6 1260.1L1390.4 1266.9L1392.1 1272.7L1393.8 1277.3L1395.6 1280.9L1397.3 1283.7L1399 1285.9L1400.8 1287.3L1402.5 1288.3L1404.2 1288.8L1406 1289L1407.7 1289.3L1409.4 1289.5L1411.2 1289.6L1412.9 1289.7L1414.6 1289.8L1416.4 1289.9L1418.1 1289.9L1419.9 1289.9L1421.6 1289.9L1423.3 1289.9L1425.1 1289.9L1426.8 1289.9L1428.5 1289.9L1430.3 1289.9L1432 1289.9L1433.7 1289.9L1435.5 1289.9L1437.2 1289.9L1438.9 1289.9L1440.7 1289.9L1442.4 1289.9L1444.1 1289.9L1445.9 1289.9L1447.6 1289.9L1449.3 1289.9L1451.1 1289.9L1452.8 1289.9L1454.6 1289.9L1456.3 1289.9L1458 1289.9L1459.8 1289.9L1461.5 1289.9L1463.2 1289.9L1465 1289.9L1466.7 1289.9L1468.4 1289.9L1470.2 1289.9L1471.9 1289.9L1473.6 1289.9L1475.4 1289.9L1477.1 1289.9L1478.8 1289.9L1480.6 1289.9L1482.3 1289.9L1484 1289.9L1485.8 1289.9L1487.5 1289.9L1489.3 1289.9L1491 1289.9L1492.7 1289.9L1494.5 1289.9L1496.2 1289.9L1497.9 1289.9L1499.7 1289.9L1501.4 1289.9L1503.1 1289.9L1504.9 1289.9L1506.6 1289.9L1508.3 1289.9L1510.1 1289.9L1511.8 1289.9L1513.5 1289.9L1515.3 1289.9L1517 1289.9L1518.7 1289.9L1520.5 1289.9L1522.2 1289.9L1524 1289.9L1525.7 1289.9L1527.4 1289.9L1529.2 1289.9L1530.9 1289.9L1532.6 1289.9L1534.4 1289.9L1536.1 1289.9L1537.8 1289.9L1539.6 1289.9L1541.3 1289.9L1543 1289.9L1544.8 1289.9L1546.5 1289.9L1548.2 1289.9L1550 1289.9L1551.7 1289.9L1553.4 1289.9L1555.2 1289.9L1556.9 1289.9L1558.7 1289.9L1560.4 1289.9L1562.1 1289.9L1563.9 1289.9L1565.6 1289.9L1567.3 1289.9L1569.1 1289.9L1570.8 1289.9L1572.5 1289.9L1574.3 1289.9L1576 1289.9L1577.7 1289.9L1579.5 1289.9L1581.2 1289.9L1582.9 1289.9L1584.7 1289.9L1586.4 1289.9L1588.1 1289.9L1589.9 1289.9L1591.6 1289.9L1593.4 1289.9L1595.1 1289.9L1596.8 1289.9L1598.6 1289.9L1600.3 1289.9L1602 1289.9L1603.8 1289.9L1605.5 1289.9L1607.2 1289.9L1609 1289.9L1610.7 1289.9L1612.4 1289.9L1614.2 1289.9L1615.9 1289.9L1617.6 1289.9L1619.4 1289.9L1621.1 1289.9L1622.8 1289.9L1624.6 1289.9L1626.3 1289.9L1628.1 1289.9L1629.8 1289.9L1631.5 1289.9L1633.3 1289.9L1635 1289.9L1636.7 1289.9L1638.5 1289.9L1640.2 1289.9L1641.9 1289.9L1643.7 1289.9L1645.4 1289.9L1647.1 1289.9L1648.9 1289.9L1650.6 1289.9L1652.3 1289.9L1654.1 1289.9L1655.8 1289.9L1657.5 1289.9L1659.3 1289.9L1661 1289.9L1662.8 1289.9L1664.5 1289.9L1666.2 1289.9L1668 1289.9L1669.7 1289.9L1671.4 1289.9L1673.2 1289.9L1674.9 1289.9L1676.6 1289.9"/><path d="M1161.3 1289.9L1163.1 1289.8L1164.8 1289.8L1166.5 1289.8L1168.3 1289.7L1170 1289.7L1171.7 1289.6L1173.5 1289.6L1175.2 1289.5L1177 1289.5L1178.7 1289.4L1180.4 1289.3L1182.2 1289.3L1183.9 1289.2L1185.6 1289.1L1187.4 1289L1189.1 1289L1190.8 1288.9L1192.6 1288.8L1194.3 1288.7L1196 1288.7L1197.8 1288.6L1199.5 1288.5L1201.2 1288.4L1203 1288.3L1204.7 1288.2L1206.4 1288.1L1208.2 1288L1209.9 1287.9L1211.7 1287.8L1213.4 1287.7L1215.1 1287.6L1216.9 1287.5L1218.6 1287.3L1220.3 1287.2L1222.1 1287.1L1223.8 1287L1225.5 1286.8L1227.3 1286.7L1229 1286.5L1230.7 1286.4L1232.5 1286.2L1234.2 1286.1L1235.9 1285.9L1237.7 1285.8L1239.4 1285.6L1241.1 1285.4L1242.9 1285.2L1244.6 1285L1246.4 1284.8L1248.1 1284.6L1249.8 1284.4L1251.6 1284.2L1253.3 1283.9L1255 1283.7L1256.8 1283.4L1258.5 1283.1L1260.2 1282.9L1262 1282.6L1263.7 1282.3L1265.4 1282L1267.2 1281.6L1268.9 1281.3L1270.6 1281L1272.4 1280.6L1274.1 1280.2L1275.8 1279.8L1277.6 1279.4L1279.3 1279L1281.1 1278.5L1282.8 1278.1L1284.5 1277.5L1286.3 1277L1288 1276.4L1289.7 1275.7L1291.5 1275L1293.2 1274.2L1294.9 1273.4L1296.7 1272.5L1298.4 1271.6L1300.1 1270.6L1301.9 1269.5L1303.6 1268.4L1305.3 1267.2L1307.1 1265.9L1308.8 1264.5L1310.5 1263L1312.3 1261.4L1314 1259.8L1315.8 1258L1317.5 1256.2L1319.2 1254.4L1321 1252.4L1322.7 1250.4L1324.4 1248.3L1326.2 1246.2L1327.9 1244L1329.6 1241.8L1331.4 1239.7L1333.1 1237.5L1334.8 1235.3L1336.6 1233.2L1338.3 1231L1340 1228.7L1341.8 1226.4L1343.5 1224L1345.2 1221.6L1347 1219L1348.7 1216.4L1350.5 1213.7L1352.2 1211L1353.9 1208.3L1355.7 1205.6L1357.4 1202.9L1359.1 1200.2L1360.9 1197.5L1362.6 1194.8L1364.3 1192.1L1366.1 1189.4L1367.8 1186.6L1369.5 1183.9L1371.3 1181.4L1373 1179.2L1374.7 1177.5L1376.5 1176.3L1378.2 1175.9L1379.9 1176.4L1381.7 1177.6L1383.4 1179.4L1385.2 1181.6L1386.9 1184.2L1388.6 1187L1390.4 1189.9L1392.1 1192.8L1393.8 1195.8L1395.6 1198.7L1397.3 1201.5L1399 1204.4L1400.8 1207.1L1402.5 1209.8L1404.2 1212.4L1406 1214.9L1407.7 1217.4L1409.4 1219.8L1411.2 1222.3L1412.9 1224.7L1414.6 1227.1L1416.4 1229.5L1418.1 1231.8L1419.9 1234.1L1421.6 1236.3L1423.3 1238.4L1425.1 1240.5L1426.8 1242.4L1428.5 1244.3L1430.3 1246L1432 1247.7L1433.7 1249.3L1435.5 1250.8L1437.2 1252.2L1438.9 1253.6L1440.7 1255L1442.4 1256.3L1444.1 1257.6L1445.9 1258.8L1447.6 1260L1449.3 1261.2L1451.1 1262.3L1452.8 1263.4L1454.6 1264.5L1456.3 1265.5L1458 1266.5L1459.8 1267.5L1461.5 1268.5L1463.2 1269.5L1465 1270.4L1466.7 1271.3L1468.4 1272.1L1470.2 1272.9L1471.9 1273.7L1473.6 1274.4L1475.4 1275.1L1477.1 1275.7L1478.8 1276.3L1480.6 1276.9L1482.3 1277.4L1484 1277.9L1485.8 1278.4L1487.5 1278.9L1489.3 1279.3L1491 1279.8L1492.7 1280.2L1494.5 1280.6L1496.2 1281L1497.9 1281.4L1499.7 1281.8L1501.4 1282.1L1503.1 1282.5L1504.9 1282.8L1506.6 1283.2L1508.3 1283.5L1510.1 1283.8L1511.8 1284.1L1513.5 1284.4L1515.3 1284.7L1517 1285L1518.7 1285.3L1520.5 1285.5L1522.2 1285.8L1524 1286.1L1525.7 1286.3L1527.4 1286.5L1529.2 1286.8L1530.9 1287L1532.6 1287.2L1534.4 1287.4L1536.1 1287.6L1537.8 1287.8L1539.6 1288L1541.3 1288.1L1543 1288.3L1544.8 1288.4L1546.5 1288.6L1548.2 1288.7L1550 1288.8L1551.7 1288.9L1553.4 1289L1555.2 1289.1L1556.9 1289.1L1558.7 1289.2L1560.4 1289.3L1562.1 1289.3L1563.9 1289.4L1565.6 1289.5L1567.3 1289.5L1569.1 1289.6L1570.8 1289.6L1572.5 1289.7L1574.3 1289.7L1576 1289.8L1577.7 1289.8L1579.5 1289.8L1581.2 1289.9L1582.9 1289.9L1584.7 1289.9L1586.4 1289.9L1588.1 1289.9L1589.9 1289.9L1591.6 1289.9L1593.4 1289.9L1595.1 1289.9L1596.8 1289.9L1598.6 1289.9L1600.3 1289.9L1602 1289.9L1603.8 1289.9L1605.5 1289.9L1607.2 1289.9L1609 1289.9L1610.7 1289.9L1612.4 1289.9L1614.2 1289.9L1615.9 1289.9L1617.6 1289.9L1619.4 1289.9L1621.1 1289.9L1622.8 1289.9L1624.6 1289.9L1626.3 1289.9L1628.1 1289.9L1629.8 1289.9L1631.5 1289.9L1633.3 1289.9L1635 1289.9L1636.7 1289.9L1638.5 1289.9L1640.2 1289.9L1641.9 1289.9L1643.7 1289.9L1645.4 1289.9L1647.1 1289.9L1648.9 1289.9L1650.6 1289.9L1652.3 1289.9L1654.1 1289.9L1655.8 1289.9L1657.5 1289.9L1659.3 1289.9L1661 1289.9L1662.8 1289.9L1664.5 1289.9L1666.2 1289.9L1668 1289.9L1669.7 1289.9L1671.4 1289.9L1673.2 1289.9L1674.9 1289.9L1676.6 1289.9"/><path d="M1161.3 1289.9L1163.1 1289.9L1164.8 1289.9L1166.5 1289.9L1168.3 1289.9L1170 1289.9L1171.7 1289.9L1173.5 1289.9L1175.2 1289.9L1177 1289.9L1178.7 1289.9L1180.4 1289.9L1182.2 1289.9L1183.9 1289.9L1185.6 1289.9L1187.4 1289.9L1189.1 1289.9L1190.8 1289.9L1192.6 1289.9L1194.3 1289.9L1196 1289.9L1197.8 1289.9L1199.5 1289.9L1201.2 1289.9L1203 1289.9L1204.7 1289.9L1206.4 1289.9L1208.2 1289.9L1209.9 1289.9L1211.7 1289.9L1213.4 1289.9L1215.1 1289.9L1216.9 1289.9L1218.6 1289.9L1220.3 1289.9L1222.1 1289.9L1223.8 1289.9L1225.5 1289.9L1227.3 1289.9L1229 1289.9L1230.7 1289.9L1232.5 1289.9L1234.2 1289.9L1235.9 1289.9L1237.7 1289.9L1239.4 1289.9L1241.1 1289.9L1242.9 1289.9L1244.6 1289.9L1246.4 1289.9L1248.1 1289.9L1249.8 1289.9L1251.6 1289.9L1253.3 1289.9L1255 1289.9L1256.8 1289.9L1258.5 1289.9L1260.2 1289.9L1262 1289.9L1263.7 1289.9L1265.4 1289.9L1267.2 1289.9L1268.9 1289.9L1270.6 1289.9L1272.4 1289.9L1274.1 1289.9L1275.8 1289.9L1277.6 1289.9L1279.3 1289.8L1281.1 1289.8L1282.8 1289.7L1284.5 1289.6L1286.3 1289.5L1288 1289.3L1289.7 1289.1L1291.5 1288.9L1293.2 1288.7L1294.9 1288.5L1296.7 1288.3L1298.4 1288.1L1300.1 1287.8L1301.9 1287.5L1303.6 1287.2L1305.3 1286.9L1307.1 1286.5L1308.8 1286.1L1310.5 1285.6L1312.3 1285.1L1314 1284.5L1315.8 1283.8L1317.5 1283.1L1319.2 1282.3L1321 1281.4L1322.7 1280.4L1324.4 1279.2L1326.2 1278L1327.9 1276.6L1329.6 1275.1L1331.4 1273.5L1333.1 1271.7L1334.8 1269.9L1336.6 1267.9L1338.3 1265.8L1340 1263.6L1341.8 1261.1L1343.5 1258.5L1345.2 1255.6L1347 1252.5L1348.7 1249L1350.5 1245.3L1352.2 1241.3L1353.9 1236.9L1355.7 1232.1L1357.4 1227L1359.1 1221.5L1360.9 1215.7L1362.6 1209.3L1364.3 1202.3L1366.1 1194.4L1367.8 1185.9L1369.5 1176.9L1371.3 1167.7L1373 1158.3L1374.7 1148.8L1376.5 1139.7L1378.2 1130.9L1379.9 1121.5L1381.7 1111.3L1383.4 1101.1L1385.2 1091.1L1386.9 1081.3L1388.6 1071.6L1390.4 1062.2L1392.1 1054.1L1393.8 1047.4L1395.6 1041.4L1397.3 1035.8L1399 1030.7L1400.8 1026.1L1402.5 1022.1L1404.2 1018.5L1406 1015.3L1407.7 1012.3L1409.4 1009.4L1411.2 1006.7L1412.9 1004L1414.6 1001.3L1416.4 998.6L1418.1 995.9L1419.9 993.3L1421.6 990.6L1423.3 988L1425.1 985.5L1426.8 983.2L1428.5 980.9L1430.3 978.7L1432 976.7L1433.7 974.7L1435.5 972.9L1437.2 971.1L1438.9 969.3L1440.7 967.6L1442.4 966L1444.1 964.4L1445.9 962.9L1447.6 961.4L1449.3 959.9L1451.1 958.5L1452.8 957.2L1454.6 955.9L1456.3 954.7L1458 953.6L1459.8 952.5L1461.5 951.5L1463.2 950.5L1465 949.5L1466.7 948.6L1468.4 947.7L1470.2 946.9L1471.9 946.1L1473.6 945.3L1475.4 944.6L1477.1 943.9L1478.8 943.2L1480.6 942.6L1482.3 942L1484 941.4L1485.8 940.8L1487.5 940.3L1489.3 939.8L1491 939.3L1492.7 938.9L1494.5 938.4L1496.2 938L1497.9 937.6L1499.7 937.2L1501.4 936.8L1503.1 936.4L1504.9 936L1506.6 935.6L1508.3 935.2L1510.1 934.9L1511.8 934.5L1513.5 934.2L1515.3 933.8L1517 933.5L1518.7 933.1L1520.5 932.8L1522.2 932.5L1524 932.1L1525.7 931.8L1527.4 931.5L1529.2 931.2L1530.9 930.9L1532.6 930.5L1534.4 930.2L1536.1 929.9L1537.8 929.6L1539.6 929.3L1541.3 929L1543 928.7L1544.8 928.5L1546.5 928.3L1548.2 928.1L1550 927.9L1551.7 927.8L1553.4 927.6L1555.2 927.5L1556.9 927.4L1558.7 927.3L1560.4 927.2L1562.1 927.1L1563.9 926.9L1565.6 926.8L1567.3 926.8L1569.1 926.7L1570.8 926.6L1572.5 926.5L1574.3 926.4L1576 926.3L1577.7 926.3L1579.5 926.2L1581.2 926.2L1582.9 926.1L1584.7 926.1L1586.4 926L1588.1 926L1589.9 926L1591.6 925.9L1593.4 925.9L1595.1 925.9L1596.8 925.8L1598.6 925.8L1600.3 925.8L1602 925.8L1603.8 925.7L1605.5 925.7L1607.2 925.7L1609 925.7L1610.7 925.6L1612.4 925.6L1614.2 925.6L1615.9 925.6L1617.6 925.6L1619.4 925.5L1621.1 925.5L1622.8 925.5L1624.6 925.5L1626.3 925.5L1628.1 925.5L1629.8 925.4L1631.5 925.4L1633.3 925.4L1635 925.4L1636.7 925.4L1638.5 925.4L1640.2 925.3L1641.9 925.3L1643.7 925.3L1645.4 925.3L1647.1 925.3L1648.9 925.3L1650.6 925.3L1652.3 925.3L1654.1 925.3L1655.8 925.3L1657.5 925.2L1659.3 925.2L1661 925.2L1662.8 925.2L1664.5 925.2L1666.2 925.2L1668 925.2L1669.7 925.2L1671.4 925.2L1673.2 925.2L1674.9 925.2L1676.6 925.2"/></g>
<g fill="#fff" stroke-width="2.7" stroke-linejoin="miter">
<circle cx="1157" cy="928.12" r="5.7"/>
<circle cx="1174.35" cy="925.93" r="5.7"/>
<circle cx="1183.03" cy="925.56" r="5.7"/>
<circle cx="1200.38" cy="926.66" r="5.7"/>
<circle cx="1217.72" cy="928.85" r="5.7"/>
<circle cx="1226.4" cy="925.56" r="5.7"/>
<circle cx="1235.08" cy="929.94" r="5.7"/>
<circle cx="1243.75" cy="929.21" r="5.7"/>
<circle cx="1252.42" cy="929.94" r="5.7"/>
<circle cx="1261.1" cy="929.21" r="5.7"/>
<circle cx="1269.78" cy="932.13" r="5.7"/>
<circle cx="1278.45" cy="934.68" r="5.7"/>
<circle cx="1287.12" cy="936.14" r="5.7"/>
<circle cx="1295.8" cy="939.42" r="5.7"/>
<circle cx="1304.47" cy="940.88" r="5.7"/>
<circle cx="1313.15" cy="953.65" r="5.7"/>
<circle cx="1321.83" cy="971.15" r="5.7"/>
<circle cx="1330.5" cy="992.3" r="5.7"/>
<circle cx="1343.51" cy="1021.12" r="5.7"/>
<circle cx="1356.53" cy="1055.76" r="5.7"/>
<circle cx="1369.54" cy="1079.47" r="5.7"/>
<circle cx="1382.55" cy="1127.24" r="5.7"/>
<circle cx="1395.56" cy="1227.9" r="5.7"/>
<circle cx="1408.58" cy="1258.17" r="5.7"/>
<circle cx="1421.59" cy="1284.79" r="5.7"/>
<circle cx="1434.6" cy="1289.9" r="5.7"/>
<circle cx="1447.61" cy="1289.9" r="5.7"/>
<circle cx="1460.62" cy="1289.9" r="5.7"/>
<circle cx="1473.64" cy="1289.9" r="5.7"/>
<circle cx="1486.65" cy="1289.9" r="5.7"/>
<circle cx="1499.66" cy="1289.9" r="5.7"/>
<circle cx="1512.67" cy="1289.9" r="5.7"/>
<circle cx="1530.03" cy="1289.9" r="5.7"/>
<circle cx="1547.38" cy="1289.9" r="5.7"/>
<circle cx="1564.72" cy="1289.9" r="5.7"/>
<circle cx="1582.08" cy="1289.9" r="5.7"/>
<circle cx="1599.42" cy="1289.9" r="5.7"/>
<circle cx="1616.78" cy="1289.9" r="5.7"/>
<circle cx="1634.12" cy="1289.9" r="5.7"/>
<circle cx="1651.47" cy="1289.9" r="5.7"/>
<circle cx="1668.83" cy="1289.9" r="5.7"/>
<circle cx="1686.17" cy="1289.9" r="5.7"/>
<circle cx="1703.53" cy="1289.9" r="5.7"/>
<g stroke-width="2.7" stroke-linejoin="round">
<path d="M1150.8 1284.65H1163.2L1157 1296.55Z"/>
<path d="M1159.47 1284.65H1171.88L1165.67 1296.55Z"/>
<path d="M1168.15 1284.65H1180.55L1174.35 1296.55Z"/>
<path d="M1176.83 1284.65H1189.23L1183.03 1296.55Z"/>
<path d="M1185.5 1284.65H1197.9L1191.7 1296.55Z"/>
<path d="M1194.17 1284.65H1206.58L1200.38 1296.55Z"/>
<path d="M1202.85 1284.29H1215.25L1209.05 1296.19Z"/>
<path d="M1211.52 1283.92H1223.92L1217.72 1295.82Z"/>
<path d="M1220.2 1283.19H1232.6L1226.4 1295.09Z"/>
<path d="M1228.88 1282.46H1241.28L1235.08 1294.36Z"/>
<path d="M1237.55 1281.37H1249.95L1243.75 1293.27Z"/>
<path d="M1246.22 1280.27H1258.62L1252.42 1292.17Z"/>
<path d="M1254.9 1279.18H1267.3L1261.1 1291.08Z"/>
<path d="M1263.58 1277.36H1275.98L1269.78 1289.26Z"/>
<path d="M1272.25 1275.9H1284.65L1278.45 1287.8Z"/>
<path d="M1280.92 1275.17H1293.33L1287.12 1287.07Z"/>
<path d="M1289.6 1272.25H1302L1295.8 1284.15Z"/>
<path d="M1298.27 1271.16H1310.67L1304.47 1283.06Z"/>
<path d="M1306.95 1258.39H1319.35L1313.15 1270.29Z"/>
<path d="M1315.62 1246.36H1328.03L1321.83 1258.26Z"/>
<path d="M1324.3 1239.79H1336.7L1330.5 1251.69Z"/>
<path d="M1337.31 1228.49H1349.71L1343.51 1240.39Z"/>
<path d="M1350.33 1208.06H1362.73L1356.53 1219.96Z"/>
<path d="M1363.34 1189.46H1375.74L1369.54 1201.36Z"/>
<path d="M1376.35 1178.52H1388.75L1382.55 1190.42Z"/>
<path d="M1389.36 1172.69H1401.76L1395.56 1184.59Z"/>
<path d="M1402.38 1206.24H1414.78L1408.58 1218.14Z"/>
<path d="M1415.39 1219H1427.79L1421.59 1230.9Z"/>
<path d="M1428.4 1237.6H1440.8L1434.6 1249.5Z"/>
<path d="M1441.41 1244.53H1453.81L1447.61 1256.43Z"/>
<path d="M1454.42 1250H1466.83L1460.62 1261.9Z"/>
<path d="M1467.44 1262.04H1479.84L1473.64 1273.94Z"/>
<path d="M1480.45 1273.34H1492.85L1486.65 1285.24Z"/>
<path d="M1493.46 1273.34H1505.86L1499.66 1285.24Z"/>
<path d="M1506.47 1273.34H1518.88L1512.67 1285.24Z"/>
<path d="M1523.83 1279.91H1536.23L1530.03 1291.81Z"/>
</g>
<g stroke-width="2.7" stroke-linejoin="round">
<path fill="#000" d="M1541.17 1284.65H1553.58L1547.38 1296.55Z"/><path fill="#fff" stroke="none" d="M1545.17 1287.9H1549.58L1547.38 1292.9Z"/>
<path fill="#000" d="M1558.52 1284.65H1570.92L1564.72 1296.55Z"/><path fill="#fff" stroke="none" d="M1562.52 1287.9H1566.92L1564.72 1292.9Z"/>
<path fill="#000" d="M1575.88 1284.65H1588.28L1582.08 1296.55Z"/><path fill="#fff" stroke="none" d="M1579.88 1287.9H1584.28L1582.08 1292.9Z"/>
<path fill="#000" d="M1593.22 1284.65H1605.62L1599.42 1296.55Z"/><path fill="#fff" stroke="none" d="M1597.22 1287.9H1601.62L1599.42 1292.9Z"/>
<path fill="#000" d="M1610.58 1284.65H1622.98L1616.78 1296.55Z"/><path fill="#fff" stroke="none" d="M1614.58 1287.9H1618.98L1616.78 1292.9Z"/>
<path fill="#000" d="M1627.92 1284.65H1640.33L1634.12 1296.55Z"/><path fill="#fff" stroke="none" d="M1631.92 1287.9H1636.33L1634.12 1292.9Z"/>
<path fill="#000" d="M1645.27 1284.65H1657.67L1651.47 1296.55Z"/><path fill="#fff" stroke="none" d="M1649.27 1287.9H1653.67L1651.47 1292.9Z"/>
<path fill="#000" d="M1662.62 1284.65H1675.03L1668.83 1296.55Z"/><path fill="#fff" stroke="none" d="M1666.62 1287.9H1671.03L1668.83 1292.9Z"/>
<path fill="#000" d="M1679.97 1284.65H1692.38L1686.17 1296.55Z"/><path fill="#fff" stroke="none" d="M1683.97 1287.9H1688.38L1686.17 1292.9Z"/>
<path fill="#000" d="M1697.33 1284.65H1709.73L1703.53 1296.55Z"/><path fill="#fff" stroke="none" d="M1701.33 1287.9H1705.73L1703.53 1292.9Z"/>
</g>
<rect x="1152.1" y="1285" width="9.8" height="9.8"/>
<rect x="1169.45" y="1285" width="9.8" height="9.8"/>
<rect x="1195.47" y="1285" width="9.8" height="9.8"/>
<rect x="1212.82" y="1285" width="9.8" height="9.8"/>
<rect x="1230.17" y="1285" width="9.8" height="9.8"/>
<rect x="1247.52" y="1285" width="9.8" height="9.8"/>
<rect x="1264.88" y="1285" width="9.8" height="9.8"/>
<rect x="1282.22" y="1285" width="9.8" height="9.8"/>
<rect x="1299.57" y="1285" width="9.8" height="9.8"/>
<rect x="1316.92" y="1264.94" width="9.8" height="9.8"/>
<rect x="1325.6" y="1254.73" width="9.8" height="9.8"/>
<rect x="1338.61" y="1238.32" width="9.8" height="9.8"/>
<rect x="1351.62" y="1220.45" width="9.8" height="9.8"/>
<rect x="1364.64" y="1203.31" width="9.8" height="9.8"/>
<rect x="1377.65" y="1173.4" width="9.8" height="9.8"/>
<rect x="1390.66" y="1076.76" width="9.8" height="9.8"/>
<rect x="1403.67" y="1017.67" width="9.8" height="9.8"/>
<rect x="1416.69" y="992.15" width="9.8" height="9.8"/>
<rect x="1429.7" y="979.75" width="9.8" height="9.8"/>
<rect x="1442.71" y="965.89" width="9.8" height="9.8"/>
<rect x="1455.72" y="954.22" width="9.8" height="9.8"/>
<rect x="1468.74" y="944.73" width="9.8" height="9.8"/>
<rect x="1481.75" y="934.16" width="9.8" height="9.8"/>
<rect x="1494.76" y="934.52" width="9.8" height="9.8"/>
<rect x="1507.77" y="932.7" width="9.8" height="9.8"/>
<rect x="1525.12" y="926.14" width="9.8" height="9.8"/>
<rect x="1542.47" y="922.49" width="9.8" height="9.8"/>
<rect x="1559.82" y="921.76" width="9.8" height="9.8"/>
<rect x="1577.17" y="921.76" width="9.8" height="9.8"/>
<rect x="1594.52" y="921.03" width="9.8" height="9.8"/>
<rect x="1611.88" y="920.3" width="9.8" height="9.8"/>
<rect x="1629.22" y="920.3" width="9.8" height="9.8"/>
<rect x="1646.57" y="920.3" width="9.8" height="9.8"/>
<rect x="1663.92" y="920.3" width="9.8" height="9.8"/>
<rect x="1681.27" y="920.3" width="9.8" height="9.8"/>
<rect x="1698.62" y="920.3" width="9.8" height="9.8"/>
</g>
</g>
<g id="right-axes">
<line x1="1122.3" y1="452.6" x2="1122.3" y2="443.8" stroke="#000" stroke-width="2.6" />
<line x1="1122.3" y1="14.5" x2="1122.3" y2="23.3" stroke="#000" stroke-width="2.6" />
<line x1="1157" y1="452.6" x2="1157" y2="438.7" stroke="#000" stroke-width="2.6" />
<line x1="1157" y1="14.5" x2="1157" y2="28.4" stroke="#000" stroke-width="2.6" />
<line x1="1191.7" y1="452.6" x2="1191.7" y2="443.8" stroke="#000" stroke-width="2.6" />
<line x1="1191.7" y1="14.5" x2="1191.7" y2="23.3" stroke="#000" stroke-width="2.6" />
<line x1="1226.4" y1="452.6" x2="1226.4" y2="443.8" stroke="#000" stroke-width="2.6" />
<line x1="1226.4" y1="14.5" x2="1226.4" y2="23.3" stroke="#000" stroke-width="2.6" />
<line x1="1261.1" y1="452.6" x2="1261.1" y2="443.8" stroke="#000" stroke-width="2.6" />
<line x1="1261.1" y1="14.5" x2="1261.1" y2="23.3" stroke="#000" stroke-width="2.6" />
<line x1="1295.8" y1="452.6" x2="1295.8" y2="443.8" stroke="#000" stroke-width="2.6" />
<line x1="1295.8" y1="14.5" x2="1295.8" y2="23.3" stroke="#000" stroke-width="2.6" />
<line x1="1330.5" y1="452.6" x2="1330.5" y2="438.7" stroke="#000" stroke-width="2.6" />
<line x1="1330.5" y1="14.5" x2="1330.5" y2="28.4" stroke="#000" stroke-width="2.6" />
<line x1="1365.2" y1="452.6" x2="1365.2" y2="443.8" stroke="#000" stroke-width="2.6" />
<line x1="1365.2" y1="14.5" x2="1365.2" y2="23.3" stroke="#000" stroke-width="2.6" />
<line x1="1399.9" y1="452.6" x2="1399.9" y2="443.8" stroke="#000" stroke-width="2.6" />
<line x1="1399.9" y1="14.5" x2="1399.9" y2="23.3" stroke="#000" stroke-width="2.6" />
<line x1="1434.6" y1="452.6" x2="1434.6" y2="443.8" stroke="#000" stroke-width="2.6" />
<line x1="1434.6" y1="14.5" x2="1434.6" y2="23.3" stroke="#000" stroke-width="2.6" />
<line x1="1469.3" y1="452.6" x2="1469.3" y2="443.8" stroke="#000" stroke-width="2.6" />
<line x1="1469.3" y1="14.5" x2="1469.3" y2="23.3" stroke="#000" stroke-width="2.6" />
<line x1="1504" y1="452.6" x2="1504" y2="438.7" stroke="#000" stroke-width="2.6" />
<line x1="1504" y1="14.5" x2="1504" y2="28.4" stroke="#000" stroke-width="2.6" />
<line x1="1538.7" y1="452.6" x2="1538.7" y2="443.8" stroke="#000" stroke-width="2.6" />
<line x1="1538.7" y1="14.5" x2="1538.7" y2="23.3" stroke="#000" stroke-width="2.6" />
<line x1="1573.4" y1="452.6" x2="1573.4" y2="443.8" stroke="#000" stroke-width="2.6" />
<line x1="1573.4" y1="14.5" x2="1573.4" y2="23.3" stroke="#000" stroke-width="2.6" />
<line x1="1608.1" y1="452.6" x2="1608.1" y2="443.8" stroke="#000" stroke-width="2.6" />
<line x1="1608.1" y1="14.5" x2="1608.1" y2="23.3" stroke="#000" stroke-width="2.6" />
<line x1="1642.8" y1="452.6" x2="1642.8" y2="443.8" stroke="#000" stroke-width="2.6" />
<line x1="1642.8" y1="14.5" x2="1642.8" y2="23.3" stroke="#000" stroke-width="2.6" />
<line x1="1677.5" y1="452.6" x2="1677.5" y2="438.7" stroke="#000" stroke-width="2.6" />
<line x1="1677.5" y1="14.5" x2="1677.5" y2="28.4" stroke="#000" stroke-width="2.6" />
<line x1="1095.8" y1="415.4" x2="1110.4" y2="415.4" stroke="#000" stroke-width="2.6" />
<line x1="1704.1" y1="415.4" x2="1689.5" y2="415.4" stroke="#000" stroke-width="2.6" />
<line x1="1095.8" y1="378.98" x2="1105.4" y2="378.98" stroke="#000" stroke-width="2.6" />
<line x1="1704.1" y1="378.98" x2="1694.5" y2="378.98" stroke="#000" stroke-width="2.6" />
<line x1="1095.8" y1="342.56" x2="1110.4" y2="342.56" stroke="#000" stroke-width="2.6" />
<line x1="1704.1" y1="342.56" x2="1689.5" y2="342.56" stroke="#000" stroke-width="2.6" />
<line x1="1095.8" y1="306.14" x2="1105.4" y2="306.14" stroke="#000" stroke-width="2.6" />
<line x1="1704.1" y1="306.14" x2="1694.5" y2="306.14" stroke="#000" stroke-width="2.6" />
<line x1="1095.8" y1="269.72" x2="1110.4" y2="269.72" stroke="#000" stroke-width="2.6" />
<line x1="1704.1" y1="269.72" x2="1689.5" y2="269.72" stroke="#000" stroke-width="2.6" />
<line x1="1095.8" y1="233.3" x2="1105.4" y2="233.3" stroke="#000" stroke-width="2.6" />
<line x1="1704.1" y1="233.3" x2="1694.5" y2="233.3" stroke="#000" stroke-width="2.6" />
<line x1="1095.8" y1="196.88" x2="1110.4" y2="196.88" stroke="#000" stroke-width="2.6" />
<line x1="1704.1" y1="196.88" x2="1689.5" y2="196.88" stroke="#000" stroke-width="2.6" />
<line x1="1095.8" y1="160.46" x2="1105.4" y2="160.46" stroke="#000" stroke-width="2.6" />
<line x1="1704.1" y1="160.46" x2="1694.5" y2="160.46" stroke="#000" stroke-width="2.6" />
<line x1="1095.8" y1="124.04" x2="1110.4" y2="124.04" stroke="#000" stroke-width="2.6" />
<line x1="1704.1" y1="124.04" x2="1689.5" y2="124.04" stroke="#000" stroke-width="2.6" />
<line x1="1095.8" y1="87.62" x2="1105.4" y2="87.62" stroke="#000" stroke-width="2.6" />
<line x1="1704.1" y1="87.62" x2="1694.5" y2="87.62" stroke="#000" stroke-width="2.6" />
<line x1="1095.8" y1="51.2" x2="1110.4" y2="51.2" stroke="#000" stroke-width="2.6" />
<line x1="1704.1" y1="51.2" x2="1689.5" y2="51.2" stroke="#000" stroke-width="2.6" />
<text x="1082.6" y="423.5" font-family='"Liberation Sans", Arial, Helvetica, sans-serif' font-weight="bold" font-size="22.8" text-anchor="end" fill="#000">0.0</text>
<text x="1082.6" y="350.66" font-family='"Liberation Sans", Arial, Helvetica, sans-serif' font-weight="bold" font-size="22.8" text-anchor="end" fill="#000">0.2</text>
<text x="1082.6" y="277.82" font-family='"Liberation Sans", Arial, Helvetica, sans-serif' font-weight="bold" font-size="22.8" text-anchor="end" fill="#000">0.4</text>
<text x="1082.6" y="204.98" font-family='"Liberation Sans", Arial, Helvetica, sans-serif' font-weight="bold" font-size="22.8" text-anchor="end" fill="#000">0.6</text>
<text x="1082.6" y="132.14" font-family='"Liberation Sans", Arial, Helvetica, sans-serif' font-weight="bold" font-size="22.8" text-anchor="end" fill="#000">0.8</text>
<text x="1082.6" y="59.3" font-family='"Liberation Sans", Arial, Helvetica, sans-serif' font-weight="bold" font-size="22.8" text-anchor="end" fill="#000">1.0</text>
<line x1="1122.3" y1="889.3" x2="1122.3" y2="880.5" stroke="#000" stroke-width="2.6" />
<line x1="1157" y1="889.3" x2="1157" y2="875.4" stroke="#000" stroke-width="2.6" />
<line x1="1191.7" y1="889.3" x2="1191.7" y2="880.5" stroke="#000" stroke-width="2.6" />
<line x1="1226.4" y1="889.3" x2="1226.4" y2="880.5" stroke="#000" stroke-width="2.6" />
<line x1="1261.1" y1="889.3" x2="1261.1" y2="880.5" stroke="#000" stroke-width="2.6" />
<line x1="1295.8" y1="889.3" x2="1295.8" y2="880.5" stroke="#000" stroke-width="2.6" />
<line x1="1330.5" y1="889.3" x2="1330.5" y2="875.4" stroke="#000" stroke-width="2.6" />
<line x1="1365.2" y1="889.3" x2="1365.2" y2="880.5" stroke="#000" stroke-width="2.6" />
<line x1="1399.9" y1="889.3" x2="1399.9" y2="880.5" stroke="#000" stroke-width="2.6" />
<line x1="1434.6" y1="889.3" x2="1434.6" y2="880.5" stroke="#000" stroke-width="2.6" />
<line x1="1469.3" y1="889.3" x2="1469.3" y2="880.5" stroke="#000" stroke-width="2.6" />
<line x1="1504" y1="889.3" x2="1504" y2="875.4" stroke="#000" stroke-width="2.6" />
<line x1="1538.7" y1="889.3" x2="1538.7" y2="880.5" stroke="#000" stroke-width="2.6" />
<line x1="1573.4" y1="889.3" x2="1573.4" y2="880.5" stroke="#000" stroke-width="2.6" />
<line x1="1608.1" y1="889.3" x2="1608.1" y2="880.5" stroke="#000" stroke-width="2.6" />
<line x1="1642.8" y1="889.3" x2="1642.8" y2="880.5" stroke="#000" stroke-width="2.6" />
<line x1="1677.5" y1="889.3" x2="1677.5" y2="875.4" stroke="#000" stroke-width="2.6" />
<line x1="1095.8" y1="852.7" x2="1110.4" y2="852.7" stroke="#000" stroke-width="2.6" />
<line x1="1704.1" y1="852.7" x2="1689.5" y2="852.7" stroke="#000" stroke-width="2.6" />
<line x1="1095.8" y1="816.3" x2="1105.4" y2="816.3" stroke="#000" stroke-width="2.6" />
<line x1="1704.1" y1="816.3" x2="1694.5" y2="816.3" stroke="#000" stroke-width="2.6" />
<line x1="1095.8" y1="779.89" x2="1110.4" y2="779.89" stroke="#000" stroke-width="2.6" />
<line x1="1704.1" y1="779.89" x2="1689.5" y2="779.89" stroke="#000" stroke-width="2.6" />
<line x1="1095.8" y1="743.49" x2="1105.4" y2="743.49" stroke="#000" stroke-width="2.6" />
<line x1="1704.1" y1="743.49" x2="1694.5" y2="743.49" stroke="#000" stroke-width="2.6" />
<line x1="1095.8" y1="707.08" x2="1110.4" y2="707.08" stroke="#000" stroke-width="2.6" />
<line x1="1704.1" y1="707.08" x2="1689.5" y2="707.08" stroke="#000" stroke-width="2.6" />
<line x1="1095.8" y1="670.67" x2="1105.4" y2="670.67" stroke="#000" stroke-width="2.6" />
<line x1="1704.1" y1="670.67" x2="1694.5" y2="670.67" stroke="#000" stroke-width="2.6" />
<line x1="1095.8" y1="634.27" x2="1110.4" y2="634.27" stroke="#000" stroke-width="2.6" />
<line x1="1704.1" y1="634.27" x2="1689.5" y2="634.27" stroke="#000" stroke-width="2.6" />
<line x1="1095.8" y1="597.87" x2="1105.4" y2="597.87" stroke="#000" stroke-width="2.6" />
<line x1="1704.1" y1="597.87" x2="1694.5" y2="597.87" stroke="#000" stroke-width="2.6" />
<line x1="1095.8" y1="561.46" x2="1110.4" y2="561.46" stroke="#000" stroke-width="2.6" />
<line x1="1704.1" y1="561.46" x2="1689.5" y2="561.46" stroke="#000" stroke-width="2.6" />
<line x1="1095.8" y1="525.05" x2="1105.4" y2="525.05" stroke="#000" stroke-width="2.6" />
<line x1="1704.1" y1="525.05" x2="1694.5" y2="525.05" stroke="#000" stroke-width="2.6" />
<line x1="1095.8" y1="488.65" x2="1110.4" y2="488.65" stroke="#000" stroke-width="2.6" />
<line x1="1704.1" y1="488.65" x2="1689.5" y2="488.65" stroke="#000" stroke-width="2.6" />
<text x="1082.6" y="860.8" font-family='"Liberation Sans", Arial, Helvetica, sans-serif' font-weight="bold" font-size="22.8" text-anchor="end" fill="#000">0.0</text>
<text x="1082.6" y="787.99" font-family='"Liberation Sans", Arial, Helvetica, sans-serif' font-weight="bold" font-size="22.8" text-anchor="end" fill="#000">0.2</text>
<text x="1082.6" y="715.18" font-family='"Liberation Sans", Arial, Helvetica, sans-serif' font-weight="bold" font-size="22.8" text-anchor="end" fill="#000">0.4</text>
<text x="1082.6" y="642.37" font-family='"Liberation Sans", Arial, Helvetica, sans-serif' font-weight="bold" font-size="22.8" text-anchor="end" fill="#000">0.6</text>
<text x="1082.6" y="569.56" font-family='"Liberation Sans", Arial, Helvetica, sans-serif' font-weight="bold" font-size="22.8" text-anchor="end" fill="#000">0.8</text>
<text x="1082.6" y="496.75" font-family='"Liberation Sans", Arial, Helvetica, sans-serif' font-weight="bold" font-size="22.8" text-anchor="end" fill="#000">1.0</text>
<line x1="1122.3" y1="1327.1" x2="1122.3" y2="1318.3" stroke="#000" stroke-width="2.6" />
<line x1="1157" y1="1327.1" x2="1157" y2="1313.2" stroke="#000" stroke-width="2.6" />
<line x1="1191.7" y1="1327.1" x2="1191.7" y2="1318.3" stroke="#000" stroke-width="2.6" />
<line x1="1226.4" y1="1327.1" x2="1226.4" y2="1318.3" stroke="#000" stroke-width="2.6" />
<line x1="1261.1" y1="1327.1" x2="1261.1" y2="1318.3" stroke="#000" stroke-width="2.6" />
<line x1="1295.8" y1="1327.1" x2="1295.8" y2="1318.3" stroke="#000" stroke-width="2.6" />
<line x1="1330.5" y1="1327.1" x2="1330.5" y2="1313.2" stroke="#000" stroke-width="2.6" />
<line x1="1365.2" y1="1327.1" x2="1365.2" y2="1318.3" stroke="#000" stroke-width="2.6" />
<line x1="1399.9" y1="1327.1" x2="1399.9" y2="1318.3" stroke="#000" stroke-width="2.6" />
<line x1="1434.6" y1="1327.1" x2="1434.6" y2="1318.3" stroke="#000" stroke-width="2.6" />
<line x1="1469.3" y1="1327.1" x2="1469.3" y2="1318.3" stroke="#000" stroke-width="2.6" />
<line x1="1504" y1="1327.1" x2="1504" y2="1313.2" stroke="#000" stroke-width="2.6" />
<line x1="1538.7" y1="1327.1" x2="1538.7" y2="1318.3" stroke="#000" stroke-width="2.6" />
<line x1="1573.4" y1="1327.1" x2="1573.4" y2="1318.3" stroke="#000" stroke-width="2.6" />
<line x1="1608.1" y1="1327.1" x2="1608.1" y2="1318.3" stroke="#000" stroke-width="2.6" />
<line x1="1642.8" y1="1327.1" x2="1642.8" y2="1318.3" stroke="#000" stroke-width="2.6" />
<line x1="1677.5" y1="1327.1" x2="1677.5" y2="1313.2" stroke="#000" stroke-width="2.6" />
<line x1="1095.8" y1="1289.9" x2="1110.4" y2="1289.9" stroke="#000" stroke-width="2.6" />
<line x1="1704.1" y1="1289.9" x2="1689.5" y2="1289.9" stroke="#000" stroke-width="2.6" />
<line x1="1095.8" y1="1253.43" x2="1105.4" y2="1253.43" stroke="#000" stroke-width="2.6" />
<line x1="1704.1" y1="1253.43" x2="1694.5" y2="1253.43" stroke="#000" stroke-width="2.6" />
<line x1="1095.8" y1="1216.96" x2="1110.4" y2="1216.96" stroke="#000" stroke-width="2.6" />
<line x1="1704.1" y1="1216.96" x2="1689.5" y2="1216.96" stroke="#000" stroke-width="2.6" />
<line x1="1095.8" y1="1180.49" x2="1105.4" y2="1180.49" stroke="#000" stroke-width="2.6" />
<line x1="1704.1" y1="1180.49" x2="1694.5" y2="1180.49" stroke="#000" stroke-width="2.6" />
<line x1="1095.8" y1="1144.02" x2="1110.4" y2="1144.02" stroke="#000" stroke-width="2.6" />
<line x1="1704.1" y1="1144.02" x2="1689.5" y2="1144.02" stroke="#000" stroke-width="2.6" />
<line x1="1095.8" y1="1107.55" x2="1105.4" y2="1107.55" stroke="#000" stroke-width="2.6" />
<line x1="1704.1" y1="1107.55" x2="1694.5" y2="1107.55" stroke="#000" stroke-width="2.6" />
<line x1="1095.8" y1="1071.08" x2="1110.4" y2="1071.08" stroke="#000" stroke-width="2.6" />
<line x1="1704.1" y1="1071.08" x2="1689.5" y2="1071.08" stroke="#000" stroke-width="2.6" />
<line x1="1095.8" y1="1034.61" x2="1105.4" y2="1034.61" stroke="#000" stroke-width="2.6" />
<line x1="1704.1" y1="1034.61" x2="1694.5" y2="1034.61" stroke="#000" stroke-width="2.6" />
<line x1="1095.8" y1="998.14" x2="1110.4" y2="998.14" stroke="#000" stroke-width="2.6" />
<line x1="1704.1" y1="998.14" x2="1689.5" y2="998.14" stroke="#000" stroke-width="2.6" />
<line x1="1095.8" y1="961.67" x2="1105.4" y2="961.67" stroke="#000" stroke-width="2.6" />
<line x1="1704.1" y1="961.67" x2="1694.5" y2="961.67" stroke="#000" stroke-width="2.6" />
<line x1="1095.8" y1="925.2" x2="1110.4" y2="925.2" stroke="#000" stroke-width="2.6" />
<line x1="1704.1" y1="925.2" x2="1689.5" y2="925.2" stroke="#000" stroke-width="2.6" />
<text x="1082.6" y="1298" font-family='"Liberation Sans", Arial, Helvetica, sans-serif' font-weight="bold" font-size="22.8" text-anchor="end" fill="#000">0.0</text>
<text x="1082.6" y="1225.06" font-family='"Liberation Sans", Arial, Helvetica, sans-serif' font-weight="bold" font-size="22.8" text-anchor="end" fill="#000">0.2</text>
<text x="1082.6" y="1152.12" font-family='"Liberation Sans", Arial, Helvetica, sans-serif' font-weight="bold" font-size="22.8" text-anchor="end" fill="#000">0.4</text>
<text x="1082.6" y="1079.18" font-family='"Liberation Sans", Arial, Helvetica, sans-serif' font-weight="bold" font-size="22.8" text-anchor="end" fill="#000">0.6</text>
<text x="1082.6" y="1006.24" font-family='"Liberation Sans", Arial, Helvetica, sans-serif' font-weight="bold" font-size="22.8" text-anchor="end" fill="#000">0.8</text>
<text x="1082.6" y="933.3" font-family='"Liberation Sans", Arial, Helvetica, sans-serif' font-weight="bold" font-size="22.8" text-anchor="end" fill="#000">1.0</text>
<rect x="1095.8" y="14.5" width="608.3" height="1312.6" fill="none" stroke="#000" stroke-width="2.8"/>
<line x1="1095.8" y1="452.6" x2="1704.1" y2="452.6" stroke="#000" stroke-width="2.8" />
<line x1="1095.8" y1="889.3" x2="1704.1" y2="889.3" stroke="#000" stroke-width="2.8" />
<line x1="1296.8" y1="18.5" x2="1296.8" y2="1327.1" stroke="#000" stroke-width="3.2" stroke-dasharray="17.6 5.3"/>
<text x="1157" y="1361.2" font-family='"Liberation Sans", Arial, Helvetica, sans-serif' font-weight="bold" font-size="22.8" text-anchor="middle" fill="#000">0</text>
<text x="1330.5" y="1361.2" font-family='"Liberation Sans", Arial, Helvetica, sans-serif' font-weight="bold" font-size="22.8" text-anchor="middle" fill="#000">2</text>
<text x="1504" y="1361.2" font-family='"Liberation Sans", Arial, Helvetica, sans-serif' font-weight="bold" font-size="22.8" text-anchor="middle" fill="#000">4</text>
<text x="1677.5" y="1361.2" font-family='"Liberation Sans", Arial, Helvetica, sans-serif' font-weight="bold" font-size="22.8" text-anchor="middle" fill="#000">6</text>
<text x="1341" y="1411.2" font-family='"Liberation Sans", Arial, Helvetica, sans-serif' font-size="26.5" fill="#000"><tspan font-style="italic">C</tspan><tspan font-style="italic" font-size="17.6" dy="8.4" dx="1">GuHCl</tspan><tspan dy="-8.4" dx="1"> / M</tspan></text>
<text transform="translate(1024 670.6) rotate(-90)" font-family='"Liberation Sans", Arial, Helvetica, sans-serif' font-size="30.6" text-anchor="middle" fill="#000">State fraction</text>
<text x="1361.8" y="1498.5" font-family='"Liberation Serif", "DejaVu Serif", serif' font-size="34.5" text-anchor="middle" fill="#000">(<tspan font-weight="bold">c</tspan>)</text>
</g>
</svg>
</body>
</html>
